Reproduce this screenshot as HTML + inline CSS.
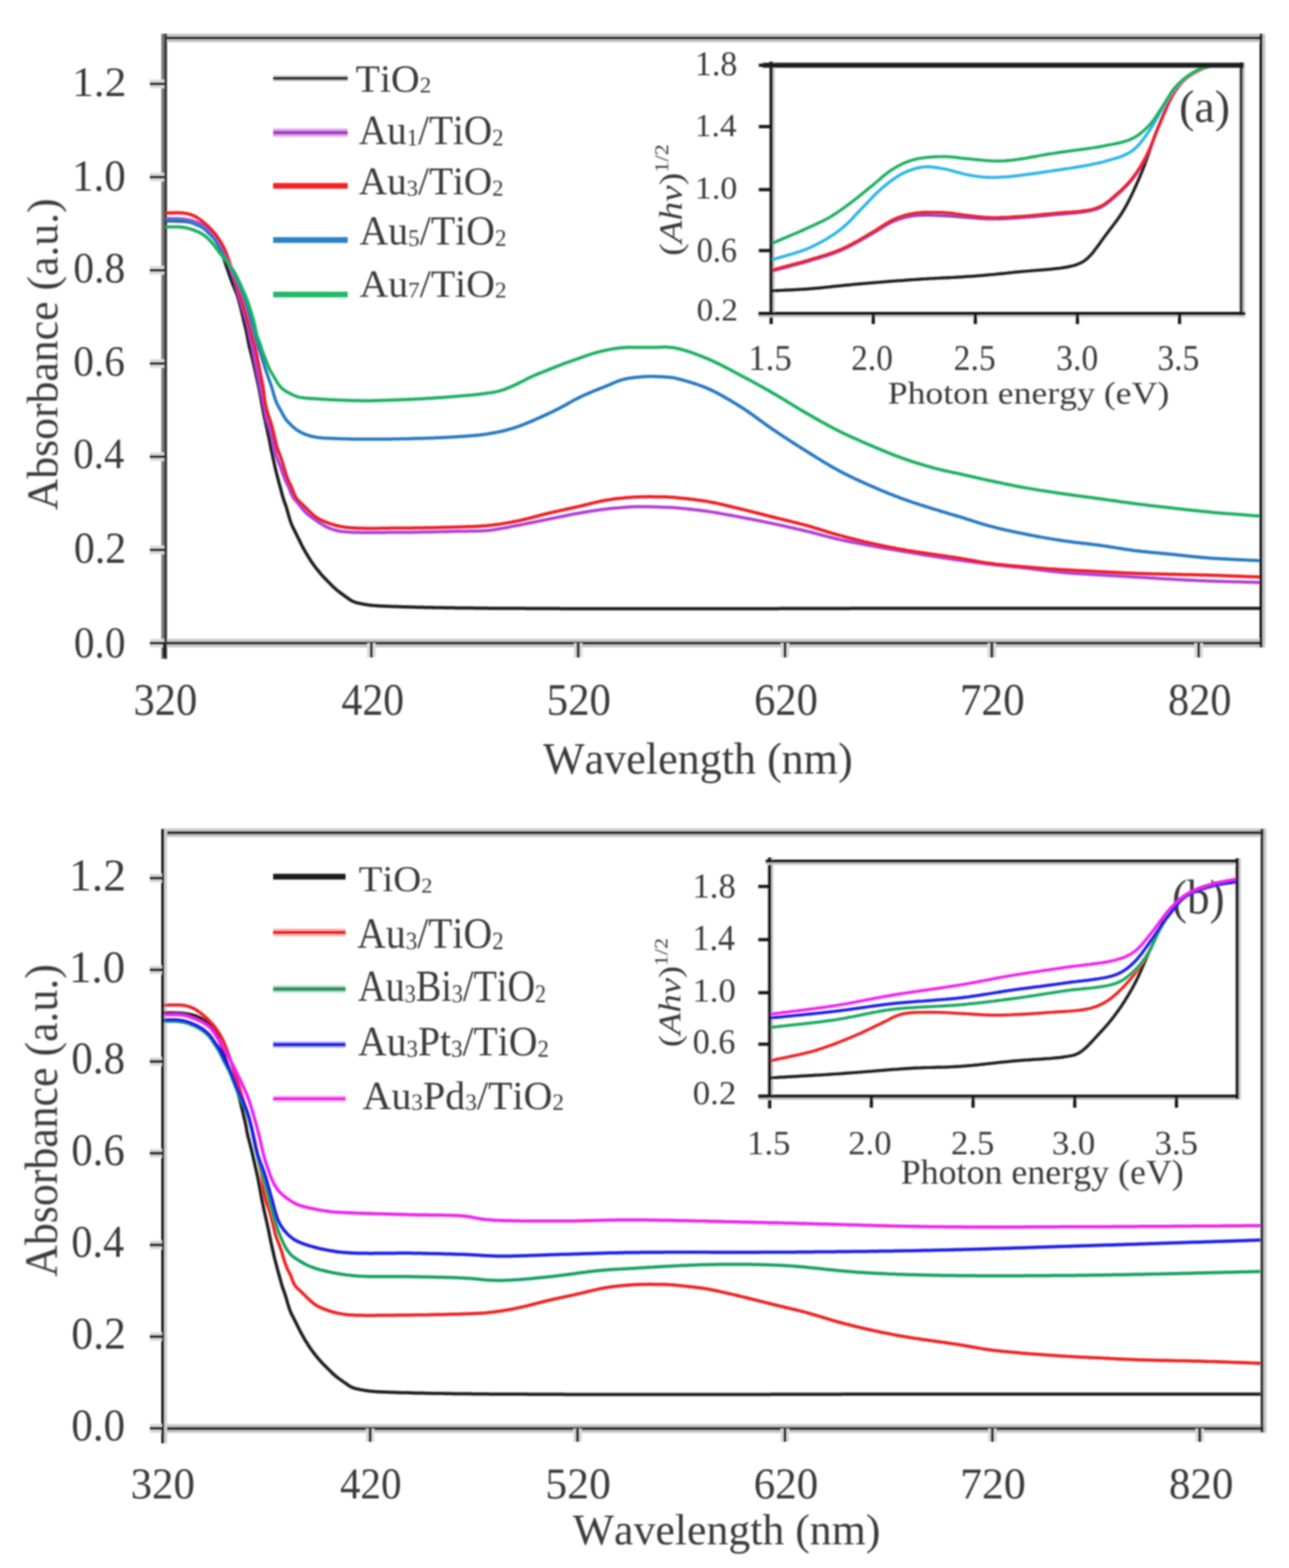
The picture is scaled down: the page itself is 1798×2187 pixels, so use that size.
<!DOCTYPE html>
<html><head><meta charset="utf-8"><style>
html,body{margin:0;padding:0;background:#fff;overflow:hidden;}
svg{display:block;}
text{font-family:"Liberation Serif","DejaVu Serif",serif;font-kerning:none;text-rendering:geometricPrecision;}
</style></head><body>
<svg width="1798" height="2187" viewBox="0 0 1798 2187">
<defs><filter id="soft" x="0" y="0" width="1798" height="2187" filterUnits="userSpaceOnUse"><feGaussianBlur stdDeviation="0.9"/></filter></defs>
<rect x="0" y="0" width="1798" height="2187" fill="#ffffff"/>
<g filter="url(#soft)">
<line x1="225.00" y1="53.00" x2="1765.00" y2="53.00" stroke="#c8c8c8" stroke-width="12.00"/>
<line x1="225.00" y1="53.00" x2="1765.00" y2="53.00" stroke="#1e1e1e" stroke-width="4.00"/>
<line x1="209.00" y1="897.00" x2="1765.00" y2="897.00" stroke="#c8c8c8" stroke-width="12.00"/>
<line x1="209.00" y1="897.00" x2="1765.00" y2="897.00" stroke="#1e1e1e" stroke-width="4.00"/>
<line x1="227.00" y1="47.00" x2="227.00" y2="919.00" stroke="#7a7a7a" stroke-width="4.00"/>
<line x1="231.00" y1="47.00" x2="231.00" y2="919.00" stroke="#383838" stroke-width="4.00"/>
<line x1="1763.00" y1="47.00" x2="1763.00" y2="903.00" stroke="#c8c8c8" stroke-width="4.00"/>
<line x1="1759.00" y1="47.00" x2="1759.00" y2="903.00" stroke="#111111" stroke-width="4.00"/>
<line x1="209.00" y1="897.00" x2="229.00" y2="897.00" stroke="#dcdcdc" stroke-width="12.00"/>
<line x1="209.00" y1="897.00" x2="229.00" y2="897.00" stroke="#1e1e1e" stroke-width="4.00"/>
<line x1="209.00" y1="767.00" x2="229.00" y2="767.00" stroke="#dcdcdc" stroke-width="12.00"/>
<line x1="209.00" y1="767.00" x2="229.00" y2="767.00" stroke="#1e1e1e" stroke-width="4.00"/>
<line x1="209.00" y1="637.00" x2="229.00" y2="637.00" stroke="#dcdcdc" stroke-width="12.00"/>
<line x1="209.00" y1="637.00" x2="229.00" y2="637.00" stroke="#1e1e1e" stroke-width="4.00"/>
<line x1="209.00" y1="507.00" x2="229.00" y2="507.00" stroke="#dcdcdc" stroke-width="12.00"/>
<line x1="209.00" y1="507.00" x2="229.00" y2="507.00" stroke="#1e1e1e" stroke-width="4.00"/>
<line x1="209.00" y1="377.00" x2="229.00" y2="377.00" stroke="#dcdcdc" stroke-width="12.00"/>
<line x1="209.00" y1="377.00" x2="229.00" y2="377.00" stroke="#1e1e1e" stroke-width="4.00"/>
<line x1="209.00" y1="247.00" x2="229.00" y2="247.00" stroke="#dcdcdc" stroke-width="12.00"/>
<line x1="209.00" y1="247.00" x2="229.00" y2="247.00" stroke="#1e1e1e" stroke-width="4.00"/>
<line x1="209.00" y1="117.00" x2="229.00" y2="117.00" stroke="#dcdcdc" stroke-width="12.00"/>
<line x1="209.00" y1="117.00" x2="229.00" y2="117.00" stroke="#1e1e1e" stroke-width="4.00"/>
<line x1="518.00" y1="897.00" x2="518.00" y2="917.00" stroke="#dcdcdc" stroke-width="12.00"/>
<line x1="518.00" y1="897.00" x2="518.00" y2="917.00" stroke="#1e1e1e" stroke-width="4.00"/>
<line x1="806.50" y1="897.00" x2="806.50" y2="917.00" stroke="#dcdcdc" stroke-width="12.00"/>
<line x1="806.50" y1="897.00" x2="806.50" y2="917.00" stroke="#1e1e1e" stroke-width="4.00"/>
<line x1="1095.00" y1="897.00" x2="1095.00" y2="917.00" stroke="#dcdcdc" stroke-width="12.00"/>
<line x1="1095.00" y1="897.00" x2="1095.00" y2="917.00" stroke="#1e1e1e" stroke-width="4.00"/>
<line x1="1383.50" y1="897.00" x2="1383.50" y2="917.00" stroke="#dcdcdc" stroke-width="12.00"/>
<line x1="1383.50" y1="897.00" x2="1383.50" y2="917.00" stroke="#1e1e1e" stroke-width="4.00"/>
<line x1="1672.00" y1="897.00" x2="1672.00" y2="917.00" stroke="#dcdcdc" stroke-width="12.00"/>
<line x1="1672.00" y1="897.00" x2="1672.00" y2="917.00" stroke="#1e1e1e" stroke-width="4.00"/>
<line x1="229.00" y1="897.00" x2="229.00" y2="917.00" stroke="#1e1e1e" stroke-width="4.00"/>
<path d="M231.0,308.0 L234.0,308.0 L237.0,308.1 L240.0,308.1 L243.0,308.1 L246.0,308.2 L249.0,308.2 L252.0,308.4 L255.0,308.5 L258.0,308.8 L261.0,309.2 L263.9,309.7 L266.9,310.2 L269.8,310.9 L272.7,311.7 L275.5,312.7 L278.3,313.8 L281.0,315.0 L283.7,316.5 L286.2,318.1 L288.6,319.8 L290.9,321.7 L293.2,323.8 L295.3,325.9 L297.3,328.1 L299.2,330.4 L300.9,332.8 L302.5,335.4 L303.9,338.0 L305.2,340.7 L306.4,343.5 L307.4,346.3 L308.5,349.1 L309.4,352.0 L310.3,354.8 L311.3,357.7 L312.2,360.6 L313.1,363.4 L314.1,366.3 L315.0,369.1 L316.0,371.9 L317.0,374.8 L318.0,377.6 L319.0,380.5 L319.9,383.3 L320.9,386.1 L321.9,389.0 L323.0,391.8 L324.0,394.6 L325.1,397.4 L326.3,400.2 L327.4,402.9 L328.5,405.7 L329.7,408.5 L330.7,411.3 L331.7,414.2 L332.5,417.0 L333.3,419.9 L334.1,422.8 L334.9,425.7 L335.6,428.6 L336.4,431.5 L337.1,434.5 L337.8,437.4 L338.5,440.3 L339.1,443.2 L339.8,446.2 L340.5,449.1 L341.2,452.0 L341.9,454.9 L342.6,457.8 L343.3,460.8 L343.9,463.7 L344.5,466.6 L345.1,469.6 L345.6,472.5 L346.1,475.5 L346.7,478.4 L347.3,481.4 L348.0,484.3 L348.7,487.2 L349.5,490.1 L350.2,493.0 L351.0,495.9 L351.7,498.9 L352.4,501.8 L353.1,504.7 L353.8,507.6 L354.4,510.6 L355.1,513.5 L355.8,516.4 L356.4,519.3 L357.1,522.3 L357.7,525.2 L358.4,528.1 L359.0,531.1 L359.7,534.0 L360.3,536.9 L360.9,539.9 L361.5,542.8 L362.1,545.8 L362.7,548.7 L363.2,551.7 L363.8,554.6 L364.3,557.6 L364.8,560.5 L365.3,563.5 L365.8,566.4 L366.4,569.4 L367.0,572.3 L367.5,575.3 L368.1,578.2 L368.7,581.2 L369.3,584.1 L370.0,587.1 L370.6,590.0 L371.2,592.9 L371.9,595.9 L372.5,598.8 L373.2,601.7 L373.8,604.7 L374.5,607.6 L375.1,610.5 L375.7,613.5 L376.3,616.4 L376.9,619.4 L377.4,622.3 L378.0,625.2 L378.6,628.2 L379.2,631.1 L379.9,634.1 L380.5,637.0 L381.1,639.9 L381.8,642.9 L382.4,645.8 L383.1,648.7 L383.7,651.7 L384.4,654.6 L385.1,657.5 L385.8,660.4 L386.6,663.3 L387.3,666.2 L388.1,669.1 L388.9,672.0 L389.6,674.9 L390.4,677.8 L391.2,680.7 L392.0,683.6 L392.7,686.5 L393.5,689.4 L394.3,692.3 L395.2,695.2 L396.1,698.1 L397.1,700.9 L398.1,703.7 L399.1,706.6 L400.0,709.4 L400.8,712.3 L401.6,715.2 L402.4,718.1 L403.3,721.0 L404.1,723.9 L405.0,726.7 L406.0,729.5 L407.1,732.3 L408.4,735.1 L409.7,737.8 L411.0,740.4 L412.4,743.1 L413.7,745.8 L415.0,748.5 L416.4,751.2 L417.7,753.9 L419.0,756.6 L420.3,759.3 L421.7,762.0 L423.1,764.6 L424.6,767.2 L426.0,769.9 L427.6,772.5 L429.1,775.0 L430.7,777.6 L432.2,780.1 L433.9,782.7 L435.6,785.1 L437.3,787.6 L439.1,790.0 L440.9,792.4 L442.8,794.7 L444.7,797.0 L446.6,799.4 L448.6,801.7 L450.5,803.9 L452.6,806.1 L454.7,808.2 L456.8,810.4 L458.9,812.5 L461.0,814.6 L463.1,816.8 L465.3,818.9 L467.5,820.9 L469.7,822.9 L472.1,824.8 L474.5,826.6 L476.9,828.4 L479.3,830.1 L481.7,831.9 L484.2,833.6 L486.6,835.4 L489.1,837.1 L491.7,838.5 L494.5,839.7 L497.3,840.6 L500.2,841.3 L503.2,841.9 L506.1,842.5 L509.1,843.0 L512.0,843.5 L515.0,843.9 L518.0,844.3 L521.0,844.6 L524.0,844.8 L526.9,845.0 L529.9,845.2 L532.9,845.3 L535.9,845.5 L538.9,845.6 L541.9,845.7 L544.9,845.8 L547.9,845.9 L550.9,846.0 L554.0,846.1 L557.0,846.2 L560.0,846.3 L563.0,846.4 L566.0,846.5 L569.0,846.6 L572.0,846.7 L575.0,846.7 L578.0,846.8 L581.0,846.9 L584.0,847.0 L587.0,847.0 L590.0,847.1 L593.0,847.2 L596.0,847.2 L599.0,847.3 L602.0,847.3 L605.0,847.4 L608.0,847.5 L611.0,847.5 L614.0,847.6 L617.0,847.6 L620.0,847.7 L623.0,847.7 L626.0,847.8 L629.0,847.8 L632.0,847.8 L635.0,847.9 L638.0,847.9 L641.0,848.0 L644.0,848.0 L647.0,848.0 L650.0,848.1 L653.0,848.1 L656.0,848.1 L659.0,848.1 L662.0,848.2 L665.0,848.2 L668.0,848.2 L671.0,848.3 L674.0,848.3 L677.0,848.3 L680.0,848.3 L683.0,848.4 L686.0,848.4 L689.0,848.4 L692.1,848.4 L695.1,848.4 L698.1,848.5 L701.1,848.5 L704.1,848.5 L707.1,848.5 L710.1,848.5 L713.1,848.6 L716.1,848.6 L719.1,848.6 L722.1,848.6 L725.1,848.6 L728.1,848.6 L731.1,848.6 L734.1,848.7 L737.1,848.7 L740.1,848.7 L743.1,848.7 L746.1,848.7 L749.1,848.7 L752.1,848.7 L755.1,848.8 L758.1,848.8 L761.1,848.8 L764.1,848.8 L767.1,848.8 L770.1,848.8 L773.1,848.8 L776.1,848.8 L779.1,848.8 L782.1,848.9 L785.1,848.9 L788.1,848.9 L791.1,848.9 L794.1,848.9 L797.1,848.9 L800.1,848.9 L803.1,848.9 L806.2,848.9 L809.2,848.9 L812.2,848.9 L815.2,849.0 L818.2,849.0 L821.2,849.0 L824.2,849.0 L827.2,849.0 L830.2,849.0 L833.2,849.0 L836.2,849.0 L839.2,849.0 L842.2,849.0 L845.2,849.0 L848.2,849.0 L851.2,849.0 L854.2,849.1 L857.2,849.1 L860.2,849.1 L863.2,849.1 L866.2,849.1 L869.2,849.1 L872.2,849.1 L875.2,849.1 L878.2,849.1 L881.2,849.1 L884.2,849.1 L887.2,849.1 L890.2,849.1 L893.2,849.1 L896.2,849.1 L899.2,849.1 L902.2,849.1 L905.2,849.1 L908.2,849.1 L911.2,849.1 L914.2,849.1 L917.3,849.1 L920.3,849.1 L923.3,849.1 L926.3,849.1 L929.3,849.1 L932.3,849.1 L935.3,849.1 L938.3,849.1 L941.3,849.1 L944.3,849.1 L947.3,849.1 L950.3,849.1 L953.3,849.1 L956.3,849.1 L959.3,849.1 L962.3,849.1 L965.3,849.1 L968.3,849.1 L971.3,849.1 L974.3,849.0 L977.3,849.0 L980.3,849.0 L983.3,849.0 L986.3,849.0 L989.3,849.0 L992.3,849.0 L995.3,849.0 L998.3,849.0 L1001.3,849.0 L1004.3,849.0 L1007.3,849.0 L1010.3,849.0 L1013.3,849.0 L1016.3,849.0 L1019.3,849.0 L1022.3,849.0 L1025.3,849.0 L1028.3,849.0 L1031.4,849.0 L1034.4,849.0 L1037.4,848.9 L1040.4,848.9 L1043.4,848.9 L1046.4,848.9 L1049.4,848.9 L1052.4,848.9 L1055.4,848.9 L1058.4,848.9 L1061.4,848.9 L1064.4,848.9 L1067.4,848.9 L1070.4,848.9 L1073.4,848.9 L1076.4,848.9 L1079.4,848.9 L1082.4,848.9 L1085.4,848.9 L1088.4,848.8 L1091.4,848.8 L1094.4,848.8 L1097.4,848.8 L1100.4,848.8 L1103.4,848.8 L1106.4,848.8 L1109.4,848.8 L1112.4,848.8 L1115.4,848.8 L1118.4,848.8 L1121.4,848.8 L1124.4,848.8 L1127.4,848.8 L1130.4,848.8 L1133.4,848.8 L1136.4,848.7 L1139.4,848.7 L1142.5,848.7 L1145.5,848.7 L1148.5,848.7 L1151.5,848.7 L1154.5,848.7 L1157.5,848.7 L1160.5,848.7 L1163.5,848.7 L1166.5,848.7 L1169.5,848.7 L1172.5,848.7 L1175.5,848.7 L1178.5,848.7 L1181.5,848.7 L1184.5,848.7 L1187.5,848.6 L1190.5,848.6 L1193.5,848.6 L1196.5,848.6 L1199.5,848.6 L1202.5,848.6 L1205.5,848.6 L1208.5,848.6 L1211.5,848.6 L1214.5,848.6 L1217.5,848.6 L1220.5,848.6 L1223.5,848.6 L1226.5,848.6 L1229.5,848.6 L1232.5,848.6 L1235.5,848.6 L1238.5,848.6 L1241.5,848.6 L1244.5,848.6 L1247.5,848.5 L1250.5,848.5 L1253.6,848.5 L1256.6,848.5 L1259.6,848.5 L1262.6,848.5 L1265.6,848.5 L1268.6,848.5 L1271.6,848.5 L1274.6,848.5 L1277.6,848.5 L1280.6,848.5 L1283.6,848.5 L1286.6,848.5 L1289.6,848.5 L1292.6,848.5 L1295.6,848.5 L1298.6,848.5 L1301.6,848.5 L1304.6,848.5 L1307.6,848.5 L1310.6,848.5 L1313.6,848.5 L1316.6,848.5 L1319.6,848.5 L1322.6,848.5 L1325.6,848.5 L1328.6,848.5 L1331.6,848.5 L1334.6,848.5 L1337.6,848.5 L1340.6,848.5 L1343.6,848.5 L1346.6,848.5 L1349.6,848.5 L1352.6,848.5 L1355.6,848.5 L1358.6,848.5 L1361.6,848.5 L1364.6,848.5 L1367.7,848.5 L1370.7,848.5 L1373.7,848.5 L1376.7,848.5 L1379.7,848.5 L1382.7,848.5 L1385.7,848.5 L1388.7,848.5 L1391.7,848.5 L1394.7,848.5 L1397.7,848.5 L1400.7,848.5 L1403.7,848.5 L1406.7,848.5 L1409.7,848.5 L1412.7,848.5 L1415.7,848.5 L1418.7,848.5 L1421.7,848.5 L1424.7,848.5 L1427.7,848.5 L1430.7,848.5 L1433.7,848.5 L1436.7,848.5 L1439.7,848.5 L1442.7,848.5 L1445.7,848.5 L1448.7,848.5 L1451.7,848.5 L1454.7,848.5 L1457.7,848.5 L1460.7,848.5 L1463.7,848.5 L1466.7,848.5 L1469.7,848.5 L1472.7,848.5 L1475.7,848.5 L1478.8,848.5 L1481.8,848.5 L1484.8,848.5 L1487.8,848.5 L1490.8,848.5 L1493.8,848.5 L1496.8,848.5 L1499.8,848.5 L1502.8,848.5 L1505.8,848.5 L1508.8,848.5 L1511.8,848.5 L1514.8,848.5 L1517.8,848.5 L1520.8,848.5 L1523.8,848.5 L1526.8,848.5 L1529.8,848.5 L1532.8,848.5 L1535.8,848.5 L1538.8,848.5 L1541.8,848.5 L1544.8,848.5 L1547.8,848.5 L1550.8,848.5 L1553.8,848.5 L1556.8,848.5 L1559.8,848.5 L1562.8,848.5 L1565.8,848.5 L1568.8,848.5 L1571.8,848.5 L1574.8,848.5 L1577.8,848.5 L1580.8,848.5 L1583.8,848.5 L1586.8,848.5 L1589.9,848.5 L1592.9,848.5 L1595.9,848.5 L1598.9,848.5 L1601.9,848.5 L1604.9,848.5 L1607.9,848.5 L1610.9,848.5 L1613.9,848.5 L1616.9,848.5 L1619.9,848.5 L1622.9,848.5 L1625.9,848.5 L1628.9,848.5 L1631.9,848.5 L1634.9,848.5 L1637.9,848.5 L1640.9,848.5 L1643.9,848.5 L1646.9,848.5 L1649.9,848.5 L1652.9,848.5 L1655.9,848.5 L1658.9,848.5 L1661.9,848.5 L1664.9,848.5 L1667.9,848.5 L1670.9,848.5 L1673.9,848.5 L1676.9,848.5 L1679.9,848.5 L1682.9,848.5 L1685.9,848.5 L1688.9,848.5 L1691.9,848.5 L1694.9,848.5 L1697.9,848.5 L1700.9,848.5 L1704.0,848.5 L1707.0,848.5 L1710.0,848.5 L1713.0,848.5 L1716.0,848.5 L1719.0,848.5 L1722.0,848.5 L1725.0,848.5 L1728.0,848.5 L1731.0,848.5 L1734.0,848.5 L1737.0,848.5 L1740.0,848.5 L1743.0,848.5 L1746.0,848.5 L1749.0,848.5 L1752.0,848.5 L1755.0,848.5 L1757.0,848.5" fill="none" stroke="#1a1a1a" stroke-width="4.50" stroke-linejoin="round" stroke-linecap="butt"/>
<path d="M231.0,305.0 L234.0,305.0 L237.0,305.1 L240.0,305.1 L243.0,305.1 L246.0,305.1 L249.0,305.2 L252.0,305.3 L255.0,305.6 L258.0,305.9 L260.9,306.4 L263.9,307.0 L266.8,307.7 L269.7,308.5 L272.5,309.4 L275.4,310.4 L278.1,311.7 L280.7,313.1 L283.2,314.8 L285.6,316.5 L288.0,318.4 L290.2,320.4 L292.4,322.5 L294.4,324.7 L296.3,327.0 L298.2,329.3 L300.0,331.7 L301.7,334.2 L303.4,336.7 L305.0,339.2 L306.5,341.8 L307.9,344.4 L309.4,347.1 L310.8,349.7 L312.2,352.4 L313.5,355.1 L314.7,357.8 L315.9,360.6 L317.1,363.3 L318.2,366.1 L319.3,368.9 L320.4,371.7 L321.5,374.5 L322.6,377.3 L323.6,380.1 L324.7,382.9 L325.6,385.8 L326.5,388.6 L327.4,391.5 L328.2,394.4 L329.0,397.3 L329.8,400.2 L330.6,403.1 L331.3,406.0 L332.1,408.9 L333.0,411.8 L333.8,414.6 L334.7,417.5 L335.6,420.4 L336.5,423.3 L337.3,426.1 L338.2,429.0 L339.1,431.9 L340.0,434.7 L340.9,437.6 L341.7,440.5 L342.6,443.3 L343.4,446.2 L344.2,449.1 L345.0,452.0 L345.6,455.0 L346.2,457.9 L346.8,460.8 L347.4,463.8 L348.0,466.7 L348.6,469.7 L349.3,472.6 L350.0,475.5 L350.6,478.4 L351.3,481.4 L351.9,484.3 L352.5,487.3 L353.1,490.2 L353.7,493.1 L354.2,496.1 L354.8,499.0 L355.4,502.0 L356.0,504.9 L356.6,507.9 L357.2,510.8 L357.8,513.8 L358.3,516.7 L358.9,519.6 L359.5,522.6 L360.1,525.5 L360.7,528.5 L361.3,531.4 L361.9,534.4 L362.5,537.3 L363.0,540.2 L363.6,543.2 L364.2,546.1 L364.8,549.1 L365.4,552.0 L366.0,555.0 L366.6,557.9 L367.2,560.8 L367.8,563.8 L368.3,566.7 L368.9,569.7 L369.4,572.6 L370.0,575.6 L370.6,578.5 L371.2,581.5 L371.9,584.4 L372.7,587.3 L373.5,590.2 L374.5,593.0 L375.4,595.9 L376.4,598.7 L377.3,601.5 L378.2,604.4 L379.0,607.3 L379.8,610.2 L380.4,613.1 L381.0,616.1 L381.6,619.0 L382.2,622.0 L382.8,624.9 L383.4,627.9 L384.0,630.8 L384.7,633.7 L385.6,636.6 L386.6,639.4 L387.7,642.2 L388.8,645.0 L389.9,647.8 L390.9,650.6 L391.9,653.4 L392.9,656.2 L393.9,659.1 L395.0,661.9 L396.0,664.7 L397.1,667.5 L398.3,670.3 L399.5,673.0 L400.9,675.7 L402.2,678.4 L403.4,681.1 L404.5,683.9 L405.5,686.7 L406.7,689.5 L408.0,692.2 L409.5,694.8 L411.3,697.1 L413.3,699.3 L415.3,701.5 L417.2,703.9 L419.0,706.2 L420.8,708.6 L422.8,710.9 L424.8,713.1 L426.9,715.3 L429.1,717.3 L431.4,719.2 L433.8,721.0 L436.2,722.7 L438.7,724.4 L441.2,726.2 L443.6,727.9 L446.1,729.5 L448.7,731.1 L451.3,732.7 L453.9,734.1 L456.6,735.4 L459.3,736.6 L462.1,737.7 L465.0,738.6 L467.9,739.5 L470.8,740.2 L473.7,740.7 L476.7,741.2 L479.7,741.6 L482.7,741.8 L485.6,742.1 L488.6,742.2 L491.6,742.4 L494.6,742.5 L497.6,742.6 L500.6,742.6 L503.6,742.7 L506.6,742.7 L509.6,742.7 L512.6,742.7 L515.6,742.8 L518.7,742.8 L521.7,742.8 L524.7,742.7 L527.7,742.7 L530.7,742.7 L533.7,742.7 L536.7,742.7 L539.7,742.6 L542.7,742.6 L545.7,742.6 L548.7,742.6 L551.7,742.5 L554.7,742.5 L557.7,742.5 L560.7,742.5 L563.7,742.5 L566.7,742.5 L569.7,742.4 L572.7,742.4 L575.7,742.4 L578.7,742.3 L581.7,742.3 L584.7,742.2 L587.7,742.2 L590.7,742.1 L593.7,742.1 L596.7,742.0 L599.7,742.0 L602.7,741.9 L605.7,741.8 L608.7,741.8 L611.7,741.7 L614.7,741.6 L617.7,741.5 L620.7,741.5 L623.7,741.4 L626.7,741.3 L629.7,741.3 L632.7,741.2 L635.7,741.1 L638.7,741.0 L641.7,741.0 L644.7,740.9 L647.7,740.9 L650.7,740.9 L653.7,740.8 L656.7,740.8 L659.7,740.8 L662.7,740.8 L665.7,740.7 L668.7,740.6 L671.7,740.5 L674.7,740.3 L677.7,740.1 L680.7,739.9 L683.7,739.5 L686.7,739.2 L689.6,738.8 L692.6,738.3 L695.6,737.8 L698.5,737.3 L701.5,736.8 L704.4,736.2 L707.4,735.7 L710.3,735.1 L713.3,734.5 L716.2,733.9 L719.2,733.3 L722.1,732.8 L725.0,732.2 L728.0,731.6 L730.9,731.1 L733.9,730.5 L736.8,729.9 L739.8,729.3 L742.7,728.7 L745.7,728.1 L748.6,727.5 L751.5,726.9 L754.5,726.3 L757.4,725.7 L760.4,725.1 L763.3,724.5 L766.2,723.9 L769.2,723.3 L772.1,722.7 L775.1,722.1 L778.0,721.5 L780.9,720.9 L783.9,720.3 L786.8,719.7 L789.8,719.1 L792.7,718.5 L795.7,717.9 L798.6,717.3 L801.6,716.8 L804.5,716.3 L807.5,715.7 L810.4,715.2 L813.4,714.7 L816.3,714.2 L819.3,713.7 L822.3,713.3 L825.2,712.8 L828.2,712.3 L831.2,711.9 L834.1,711.5 L837.1,711.1 L840.1,710.7 L843.1,710.3 L846.1,710.0 L849.0,709.6 L852.0,709.3 L855.0,709.0 L858.0,708.7 L861.0,708.4 L864.0,708.2 L867.0,707.9 L870.0,707.7 L872.9,707.5 L875.9,707.3 L878.9,707.1 L881.9,707.0 L884.9,706.8 L887.9,706.7 L890.9,706.7 L893.9,706.7 L896.9,706.7 L899.9,706.7 L902.9,706.7 L905.9,706.8 L908.9,706.9 L911.9,707.0 L914.9,707.1 L917.9,707.2 L920.9,707.3 L923.9,707.5 L926.9,707.6 L929.9,707.7 L932.9,707.7 L935.9,707.8 L938.9,708.0 L941.9,708.2 L944.9,708.4 L947.9,708.7 L950.9,709.0 L953.9,709.2 L956.9,709.6 L959.9,709.9 L962.8,710.2 L965.8,710.5 L968.8,710.9 L971.8,711.2 L974.8,711.6 L977.7,712.0 L980.7,712.4 L983.7,712.8 L986.7,713.2 L989.6,713.6 L992.6,714.1 L995.6,714.6 L998.5,715.0 L1001.5,715.5 L1004.5,716.1 L1007.4,716.6 L1010.4,717.1 L1013.3,717.7 L1016.3,718.2 L1019.2,718.8 L1022.2,719.3 L1025.1,719.9 L1028.1,720.4 L1031.0,721.0 L1034.0,721.5 L1036.9,722.1 L1039.9,722.7 L1042.8,723.2 L1045.8,723.8 L1048.7,724.4 L1051.6,725.0 L1054.6,725.5 L1057.5,726.1 L1060.5,726.7 L1063.4,727.3 L1066.4,727.9 L1069.3,728.5 L1072.2,729.1 L1075.2,729.8 L1078.1,730.4 L1081.0,731.0 L1084.0,731.6 L1086.9,732.3 L1089.9,732.9 L1092.8,733.5 L1095.7,734.2 L1098.6,734.8 L1101.6,735.5 L1104.5,736.1 L1107.4,736.8 L1110.4,737.5 L1113.3,738.1 L1116.2,738.8 L1119.1,739.5 L1122.1,740.2 L1125.0,740.9 L1127.9,741.6 L1130.8,742.3 L1133.7,743.0 L1136.6,743.8 L1139.5,744.5 L1142.4,745.3 L1145.3,746.0 L1148.2,746.8 L1151.2,747.6 L1154.1,748.3 L1157.0,749.1 L1159.9,749.8 L1162.8,750.5 L1165.7,751.2 L1168.6,751.9 L1171.6,752.6 L1174.5,753.2 L1177.4,753.8 L1180.4,754.5 L1183.3,755.1 L1186.2,755.7 L1189.2,756.3 L1192.1,756.9 L1195.1,757.4 L1198.0,758.0 L1201.0,758.6 L1203.9,759.1 L1206.9,759.7 L1209.8,760.3 L1212.8,760.8 L1215.7,761.4 L1218.7,761.9 L1221.6,762.4 L1224.6,763.0 L1227.5,763.5 L1230.5,764.0 L1233.4,764.5 L1236.4,765.1 L1239.4,765.6 L1242.3,766.1 L1245.3,766.6 L1248.2,767.1 L1251.2,767.6 L1254.2,768.1 L1257.1,768.6 L1260.1,769.1 L1263.0,769.6 L1266.0,770.1 L1269.0,770.6 L1271.9,771.1 L1274.9,771.6 L1277.8,772.0 L1280.8,772.5 L1283.8,773.0 L1286.7,773.5 L1289.7,774.0 L1292.7,774.5 L1295.6,774.9 L1298.6,775.4 L1301.5,775.9 L1304.5,776.3 L1307.5,776.8 L1310.4,777.3 L1313.4,777.7 L1316.4,778.2 L1319.4,778.6 L1322.3,779.0 L1325.3,779.4 L1328.3,779.9 L1331.2,780.3 L1334.2,780.7 L1337.2,781.1 L1340.2,781.5 L1343.1,781.9 L1346.1,782.4 L1349.1,782.8 L1352.0,783.2 L1355.0,783.6 L1358.0,784.0 L1361.0,784.4 L1363.9,784.8 L1366.9,785.2 L1369.9,785.6 L1372.9,786.0 L1375.8,786.4 L1378.8,786.8 L1381.8,787.1 L1384.8,787.5 L1387.8,787.8 L1390.8,788.2 L1393.7,788.5 L1396.7,788.8 L1399.7,789.1 L1402.7,789.4 L1405.7,789.8 L1408.7,790.1 L1411.6,790.4 L1414.6,790.7 L1417.6,791.0 L1420.6,791.3 L1423.6,791.6 L1426.6,792.0 L1429.6,792.3 L1432.5,792.6 L1435.5,793.0 L1438.5,793.3 L1441.5,793.7 L1444.5,794.1 L1447.4,794.4 L1450.4,794.8 L1453.4,795.2 L1456.4,795.5 L1459.4,795.9 L1462.3,796.3 L1465.3,796.6 L1468.3,797.0 L1471.3,797.3 L1474.3,797.6 L1477.2,797.9 L1480.2,798.2 L1483.2,798.5 L1486.2,798.8 L1489.2,799.0 L1492.2,799.2 L1495.2,799.5 L1498.2,799.7 L1501.2,799.9 L1504.2,800.1 L1507.2,800.3 L1510.2,800.4 L1513.2,800.6 L1516.2,800.8 L1519.2,801.0 L1522.2,801.2 L1525.2,801.3 L1528.1,801.5 L1531.1,801.7 L1534.1,801.9 L1537.1,802.1 L1540.1,802.3 L1543.1,802.4 L1546.1,802.6 L1549.1,802.8 L1552.1,803.0 L1555.1,803.1 L1558.1,803.3 L1561.1,803.5 L1564.1,803.7 L1567.1,803.8 L1570.1,804.0 L1573.1,804.2 L1576.1,804.4 L1579.1,804.5 L1582.1,804.7 L1585.1,804.9 L1588.1,805.1 L1591.1,805.3 L1594.1,805.4 L1597.1,805.6 L1600.1,805.8 L1603.1,806.0 L1606.1,806.2 L1609.1,806.3 L1612.0,806.5 L1615.0,806.7 L1618.0,806.9 L1621.0,807.1 L1624.0,807.2 L1627.0,807.4 L1630.0,807.6 L1633.0,807.7 L1636.0,807.9 L1639.0,808.1 L1642.0,808.2 L1645.0,808.4 L1648.0,808.5 L1651.0,808.7 L1654.0,808.9 L1657.0,809.0 L1660.0,809.2 L1663.0,809.3 L1666.0,809.5 L1669.0,809.6 L1672.0,809.8 L1675.0,809.9 L1678.0,810.0 L1681.0,810.1 L1684.0,810.3 L1687.0,810.4 L1690.0,810.5 L1693.0,810.6 L1696.0,810.7 L1699.0,810.8 L1702.0,810.9 L1705.0,811.0 L1708.0,811.1 L1711.0,811.2 L1714.0,811.2 L1717.0,811.3 L1720.0,811.4 L1723.0,811.5 L1726.0,811.6 L1729.0,811.6 L1732.0,811.7 L1735.0,811.8 L1738.0,811.9 L1741.0,812.0 L1744.0,812.0 L1747.0,812.1 L1750.0,812.2 L1753.0,812.3 L1756.0,812.4 L1757.0,812.4" fill="none" stroke="#b040d8" stroke-width="4.50" stroke-linejoin="round" stroke-linecap="butt"/>
<path d="M231.0,297.0 L234.0,297.0 L237.0,296.9 L240.0,296.9 L243.0,296.8 L246.0,296.8 L249.0,296.8 L252.0,296.9 L255.0,297.1 L258.0,297.4 L260.9,297.9 L263.8,298.6 L266.7,299.5 L269.5,300.6 L272.2,301.9 L274.8,303.3 L277.3,305.0 L279.7,306.7 L282.1,308.6 L284.4,310.5 L286.7,312.4 L289.0,314.4 L291.1,316.5 L293.2,318.6 L295.3,320.8 L297.3,323.0 L299.3,325.3 L301.2,327.6 L302.9,330.1 L304.6,332.6 L306.2,335.1 L307.8,337.6 L309.4,340.2 L310.8,342.8 L312.2,345.5 L313.4,348.2 L314.6,351.0 L315.7,353.7 L316.8,356.5 L317.9,359.3 L318.9,362.2 L319.9,365.0 L320.9,367.8 L321.9,370.7 L322.9,373.5 L323.8,376.4 L324.7,379.2 L325.6,382.1 L326.5,385.0 L327.4,387.8 L328.2,390.7 L329.1,393.6 L330.0,396.4 L330.9,399.3 L331.9,402.1 L332.8,405.0 L333.7,407.9 L334.6,410.7 L335.5,413.6 L336.4,416.5 L337.3,419.3 L338.1,422.2 L339.0,425.1 L339.9,427.9 L340.8,430.8 L341.7,433.7 L342.6,436.5 L343.4,439.4 L344.3,442.3 L345.1,445.2 L345.9,448.1 L346.7,451.0 L347.5,453.9 L348.3,456.8 L349.0,459.7 L349.8,462.6 L350.6,465.5 L351.4,468.3 L352.3,471.2 L353.2,474.1 L354.1,476.9 L354.9,479.8 L355.6,482.7 L356.3,485.7 L356.9,488.6 L357.4,491.6 L358.0,494.5 L358.6,497.5 L359.1,500.4 L359.7,503.4 L360.3,506.3 L360.9,509.3 L361.4,512.2 L362.0,515.1 L362.6,518.1 L363.2,521.0 L363.8,524.0 L364.4,526.9 L365.0,529.9 L365.6,532.8 L366.2,535.7 L366.7,538.7 L367.2,541.7 L367.6,544.6 L368.0,547.6 L368.3,550.6 L368.6,553.6 L369.0,556.6 L369.5,559.5 L370.0,562.5 L370.6,565.4 L371.3,568.3 L372.0,571.2 L372.8,574.1 L373.7,577.0 L374.6,579.9 L375.6,582.7 L376.5,585.5 L377.5,588.4 L378.3,591.3 L379.1,594.2 L379.9,597.1 L380.6,600.0 L381.3,602.9 L382.0,605.8 L382.7,608.7 L383.4,611.7 L384.1,614.6 L384.8,617.5 L385.5,620.4 L386.3,623.3 L387.2,626.2 L388.2,629.0 L389.3,631.8 L390.4,634.6 L391.4,637.4 L392.4,640.2 L393.4,643.1 L394.3,645.9 L395.2,648.8 L396.0,651.7 L396.8,654.6 L397.7,657.5 L398.5,660.3 L399.5,663.2 L400.5,666.0 L401.6,668.8 L402.8,671.5 L404.1,674.2 L405.5,676.9 L406.7,679.6 L407.8,682.4 L408.9,685.2 L409.9,688.0 L411.1,690.8 L412.5,693.4 L414.2,695.9 L416.1,698.1 L418.3,700.2 L420.5,702.2 L422.6,704.3 L424.8,706.5 L426.9,708.6 L429.0,710.7 L431.1,712.8 L433.3,714.9 L435.5,717.0 L437.7,718.9 L440.1,720.8 L442.5,722.5 L445.1,724.0 L447.8,725.3 L450.5,726.6 L453.3,727.7 L456.1,728.8 L458.9,729.9 L461.8,730.8 L464.6,731.7 L467.5,732.5 L470.4,733.2 L473.4,733.9 L476.3,734.5 L479.3,735.0 L482.2,735.4 L485.2,735.8 L488.2,736.1 L491.2,736.3 L494.2,736.5 L497.2,736.6 L500.2,736.7 L503.2,736.8 L506.2,736.8 L509.2,736.9 L512.2,736.9 L515.2,736.9 L518.2,736.9 L521.2,736.9 L524.2,736.9 L527.2,736.9 L530.2,736.8 L533.2,736.8 L536.2,736.8 L539.2,736.7 L542.2,736.7 L545.2,736.6 L548.2,736.6 L551.2,736.6 L554.2,736.5 L557.2,736.5 L560.2,736.5 L563.2,736.5 L566.2,736.5 L569.2,736.4 L572.2,736.4 L575.2,736.4 L578.2,736.3 L581.2,736.3 L584.2,736.3 L587.2,736.2 L590.2,736.2 L593.2,736.1 L596.2,736.1 L599.2,736.0 L602.2,736.0 L605.2,735.9 L608.2,735.8 L611.2,735.8 L614.2,735.7 L617.2,735.6 L620.2,735.6 L623.2,735.5 L626.2,735.4 L629.2,735.3 L632.2,735.2 L635.2,735.2 L638.2,735.1 L641.2,735.0 L644.2,734.9 L647.3,734.8 L650.3,734.7 L653.3,734.6 L656.3,734.5 L659.3,734.4 L662.3,734.3 L665.3,734.2 L668.2,734.0 L671.2,733.8 L674.2,733.6 L677.2,733.4 L680.2,733.1 L683.2,732.8 L686.2,732.5 L689.2,732.1 L692.1,731.7 L695.1,731.3 L698.1,730.9 L701.1,730.4 L704.0,729.9 L707.0,729.4 L709.9,728.9 L712.9,728.4 L715.8,727.8 L718.8,727.2 L721.7,726.6 L724.7,726.0 L727.6,725.4 L730.5,724.7 L733.4,724.0 L736.4,723.3 L739.3,722.5 L742.2,721.8 L745.1,721.0 L748.0,720.2 L750.9,719.5 L753.8,718.7 L756.7,717.9 L759.6,717.2 L762.5,716.5 L765.4,715.8 L768.3,715.1 L771.3,714.4 L774.2,713.7 L777.1,713.1 L780.0,712.4 L783.0,711.8 L785.9,711.1 L788.8,710.5 L791.8,709.8 L794.7,709.2 L797.6,708.5 L800.6,707.9 L803.5,707.2 L806.4,706.6 L809.4,705.9 L812.3,705.2 L815.2,704.5 L818.1,703.8 L821.0,703.1 L823.9,702.3 L826.9,701.6 L829.8,700.9 L832.7,700.3 L835.6,699.6 L838.6,699.0 L841.5,698.4 L844.5,697.8 L847.4,697.3 L850.4,696.9 L853.3,696.4 L856.3,696.0 L859.3,695.6 L862.3,695.3 L865.3,695.0 L868.3,694.7 L871.2,694.4 L874.2,694.1 L877.2,693.9 L880.2,693.7 L883.2,693.5 L886.2,693.3 L889.2,693.2 L892.2,693.1 L895.2,693.0 L898.2,692.9 L901.2,692.9 L904.2,692.8 L907.2,692.8 L910.2,692.8 L913.2,692.9 L916.2,692.9 L919.2,692.9 L922.2,693.0 L925.2,693.1 L928.2,693.1 L931.2,693.2 L934.2,693.4 L937.2,693.6 L940.2,693.8 L943.2,694.1 L946.2,694.4 L949.2,694.7 L952.2,695.0 L955.2,695.3 L958.1,695.6 L961.1,695.9 L964.1,696.3 L967.1,696.6 L970.1,697.0 L973.0,697.4 L976.0,697.8 L979.0,698.2 L982.0,698.6 L984.9,699.1 L987.9,699.6 L990.8,700.2 L993.8,700.7 L996.7,701.3 L999.7,701.9 L1002.6,702.6 L1005.5,703.2 L1008.5,703.9 L1011.4,704.6 L1014.3,705.3 L1017.2,706.0 L1020.1,706.7 L1023.0,707.4 L1026.0,708.1 L1028.9,708.8 L1031.8,709.5 L1034.7,710.2 L1037.6,710.9 L1040.6,711.6 L1043.5,712.4 L1046.4,713.1 L1049.3,713.8 L1052.2,714.6 L1055.1,715.3 L1058.0,716.0 L1060.9,716.8 L1063.8,717.5 L1066.7,718.3 L1069.6,719.0 L1072.6,719.8 L1075.5,720.5 L1078.4,721.2 L1081.3,722.0 L1084.2,722.7 L1087.1,723.4 L1090.0,724.1 L1093.0,724.8 L1095.9,725.5 L1098.8,726.2 L1101.7,726.9 L1104.6,727.6 L1107.5,728.4 L1110.5,729.1 L1113.4,729.8 L1116.3,730.6 L1119.2,731.3 L1122.1,732.1 L1125.0,732.9 L1127.9,733.7 L1130.7,734.5 L1133.6,735.4 L1136.5,736.3 L1139.4,737.1 L1142.2,738.0 L1145.1,738.9 L1148.0,739.8 L1150.8,740.7 L1153.7,741.6 L1156.6,742.5 L1159.5,743.3 L1162.3,744.2 L1165.2,745.0 L1168.1,745.8 L1171.0,746.7 L1173.9,747.4 L1176.8,748.2 L1179.7,749.0 L1182.6,749.8 L1185.5,750.5 L1188.4,751.3 L1191.3,752.0 L1194.2,752.7 L1197.1,753.4 L1200.1,754.2 L1203.0,754.9 L1205.9,755.6 L1208.8,756.2 L1211.7,756.9 L1214.7,757.6 L1217.6,758.2 L1220.5,758.9 L1223.5,759.5 L1226.4,760.2 L1229.3,760.8 L1232.3,761.4 L1235.2,762.0 L1238.2,762.6 L1241.1,763.2 L1244.0,763.8 L1247.0,764.3 L1249.9,764.9 L1252.9,765.4 L1255.8,766.0 L1258.8,766.5 L1261.8,767.0 L1264.7,767.6 L1267.7,768.1 L1270.6,768.5 L1273.6,769.0 L1276.6,769.5 L1279.5,769.9 L1282.5,770.3 L1285.5,770.8 L1288.5,771.2 L1291.4,771.6 L1294.4,772.0 L1297.4,772.5 L1300.3,772.9 L1303.3,773.3 L1306.3,773.7 L1309.3,774.2 L1312.2,774.6 L1315.2,775.1 L1318.2,775.5 L1321.1,775.9 L1324.1,776.4 L1327.1,776.8 L1330.0,777.3 L1333.0,777.7 L1336.0,778.2 L1338.9,778.6 L1341.9,779.1 L1344.9,779.6 L1347.8,780.1 L1350.8,780.7 L1353.7,781.2 L1356.7,781.8 L1359.6,782.3 L1362.6,782.9 L1365.5,783.4 L1368.5,783.9 L1371.5,784.4 L1374.4,784.9 L1377.4,785.3 L1380.4,785.7 L1383.3,786.1 L1386.3,786.5 L1389.3,786.9 L1392.3,787.2 L1395.3,787.5 L1398.2,787.8 L1401.2,788.1 L1404.2,788.4 L1407.2,788.7 L1410.2,789.0 L1413.2,789.2 L1416.2,789.5 L1419.2,789.8 L1422.2,790.0 L1425.2,790.3 L1428.1,790.5 L1431.1,790.8 L1434.1,791.0 L1437.1,791.3 L1440.1,791.5 L1443.1,791.8 L1446.1,792.0 L1449.1,792.3 L1452.1,792.5 L1455.1,792.7 L1458.1,792.9 L1461.1,793.2 L1464.1,793.4 L1467.0,793.6 L1470.0,793.8 L1473.0,794.0 L1476.0,794.2 L1479.0,794.4 L1482.0,794.6 L1485.0,794.8 L1488.0,795.0 L1491.0,795.1 L1494.0,795.3 L1497.0,795.5 L1500.0,795.6 L1503.0,795.8 L1506.0,795.9 L1509.0,796.1 L1512.0,796.2 L1515.0,796.3 L1518.0,796.5 L1521.0,796.6 L1524.0,796.8 L1527.0,796.9 L1530.0,797.1 L1533.0,797.2 L1536.0,797.4 L1539.0,797.5 L1542.0,797.7 L1545.0,797.8 L1548.0,798.0 L1551.0,798.2 L1554.0,798.3 L1557.0,798.5 L1560.0,798.6 L1563.0,798.8 L1566.0,798.9 L1569.0,799.1 L1572.0,799.2 L1575.0,799.3 L1578.0,799.5 L1581.0,799.6 L1584.0,799.7 L1587.0,799.8 L1590.0,799.9 L1593.0,800.0 L1596.0,800.1 L1599.0,800.2 L1602.0,800.3 L1605.0,800.3 L1608.0,800.4 L1611.0,800.5 L1614.0,800.5 L1617.0,800.6 L1620.0,800.7 L1623.0,800.7 L1626.0,800.8 L1629.0,800.9 L1632.0,800.9 L1635.0,801.0 L1638.0,801.1 L1641.0,801.2 L1644.0,801.2 L1647.0,801.3 L1650.0,801.4 L1653.0,801.4 L1656.0,801.5 L1659.0,801.6 L1662.0,801.6 L1665.0,801.7 L1668.0,801.8 L1671.0,801.8 L1674.0,801.9 L1677.0,802.0 L1680.0,802.1 L1683.0,802.1 L1686.0,802.2 L1689.0,802.3 L1692.0,802.4 L1695.0,802.5 L1698.0,802.6 L1701.0,802.7 L1704.0,802.8 L1707.0,802.9 L1710.0,803.0 L1713.0,803.2 L1716.0,803.3 L1719.0,803.4 L1722.0,803.5 L1725.0,803.6 L1728.0,803.7 L1731.0,803.8 L1734.0,803.9 L1737.0,804.1 L1740.0,804.2 L1743.0,804.3 L1746.0,804.4 L1749.0,804.5 L1752.0,804.6 L1755.0,804.7 L1757.0,804.8" fill="none" stroke="#ee1f24" stroke-width="4.50" stroke-linejoin="round" stroke-linecap="butt"/>
<path d="M231.0,307.0 L234.0,307.0 L237.0,307.0 L240.0,307.1 L243.0,307.1 L246.0,307.1 L249.0,307.2 L252.0,307.3 L255.0,307.6 L258.0,308.0 L260.9,308.5 L263.8,309.3 L266.6,310.2 L269.4,311.4 L272.2,312.6 L274.9,313.8 L277.7,314.9 L280.4,316.2 L283.0,317.7 L285.3,319.5 L287.5,321.5 L289.6,323.6 L291.8,325.8 L293.9,327.9 L296.0,330.0 L298.0,332.2 L299.9,334.6 L301.5,337.1 L303.0,339.7 L304.5,342.3 L305.9,344.9 L307.4,347.5 L308.9,350.1 L310.4,352.7 L311.9,355.3 L313.4,357.9 L315.0,360.5 L316.5,363.1 L318.1,365.6 L319.6,368.2 L321.1,370.8 L322.5,373.5 L323.8,376.2 L325.1,378.9 L326.3,381.6 L327.5,384.4 L328.6,387.2 L329.8,389.9 L331.0,392.7 L332.2,395.4 L333.4,398.2 L334.6,401.0 L335.7,403.7 L336.8,406.5 L338.0,409.3 L339.0,412.1 L340.0,414.9 L341.0,417.8 L342.0,420.6 L342.9,423.5 L343.8,426.3 L344.7,429.2 L345.6,432.1 L346.4,435.0 L347.2,437.9 L348.0,440.8 L348.8,443.7 L349.5,446.6 L350.3,449.5 L351.1,452.4 L351.9,455.2 L352.7,458.1 L353.6,461.0 L354.4,463.9 L355.2,466.8 L356.0,469.7 L356.8,472.6 L357.7,475.5 L358.5,478.3 L359.4,481.2 L360.3,484.1 L361.3,486.9 L362.2,489.8 L363.2,492.6 L364.1,495.5 L365.1,498.3 L366.0,501.2 L366.9,504.0 L367.8,506.9 L368.7,509.8 L369.6,512.6 L370.5,515.5 L371.5,518.3 L372.4,521.2 L373.4,524.0 L374.4,526.9 L375.4,529.7 L376.4,532.5 L377.4,535.3 L378.4,538.2 L379.3,541.0 L380.1,543.9 L381.0,546.8 L381.7,549.7 L382.6,552.6 L383.4,555.5 L384.4,558.3 L385.6,561.1 L386.8,563.8 L388.2,566.5 L389.6,569.1 L391.1,571.7 L392.6,574.3 L394.0,577.0 L395.4,579.6 L396.9,582.2 L398.6,584.7 L400.5,587.0 L402.5,589.2 L404.6,591.4 L406.7,593.5 L408.9,595.6 L411.2,597.5 L413.6,599.3 L416.1,601.0 L418.7,602.5 L421.3,603.8 L424.1,605.1 L426.9,606.1 L429.7,607.1 L432.6,608.0 L435.5,608.7 L438.4,609.3 L441.4,609.9 L444.4,610.3 L447.3,610.6 L450.3,610.9 L453.3,611.1 L456.3,611.2 L459.3,611.3 L462.3,611.4 L465.3,611.5 L468.3,611.7 L471.3,611.8 L474.3,611.9 L477.3,612.0 L480.3,612.1 L483.3,612.2 L486.3,612.3 L489.3,612.3 L492.3,612.4 L495.3,612.4 L498.3,612.5 L501.3,612.5 L504.4,612.5 L507.4,612.5 L510.4,612.5 L513.4,612.5 L516.4,612.5 L519.4,612.5 L522.4,612.5 L525.4,612.5 L528.4,612.5 L531.4,612.5 L534.4,612.5 L537.4,612.4 L540.4,612.4 L543.4,612.4 L546.4,612.3 L549.4,612.3 L552.4,612.2 L555.4,612.2 L558.4,612.1 L561.4,612.1 L564.4,612.0 L567.4,611.9 L570.4,611.9 L573.4,611.8 L576.4,611.7 L579.4,611.6 L582.4,611.6 L585.4,611.5 L588.4,611.4 L591.4,611.3 L594.4,611.2 L597.4,611.1 L600.4,611.0 L603.4,610.9 L606.4,610.8 L609.4,610.6 L612.4,610.5 L615.4,610.4 L618.4,610.2 L621.4,610.1 L624.4,609.9 L627.4,609.8 L630.4,609.6 L633.4,609.4 L636.4,609.2 L639.4,609.0 L642.4,608.8 L645.4,608.7 L648.4,608.5 L651.4,608.3 L654.4,608.1 L657.4,607.8 L660.4,607.6 L663.4,607.3 L666.4,607.0 L669.3,606.7 L672.3,606.3 L675.3,605.9 L678.3,605.5 L681.2,605.0 L684.2,604.5 L687.1,604.0 L690.1,603.5 L693.1,602.9 L696.0,602.3 L698.9,601.7 L701.9,601.0 L704.8,600.3 L707.7,599.5 L710.6,598.7 L713.5,597.9 L716.3,597.0 L719.2,596.1 L722.0,595.1 L724.9,594.1 L727.7,593.1 L730.5,592.0 L733.3,590.9 L736.0,589.7 L738.8,588.6 L741.6,587.4 L744.3,586.2 L747.1,585.0 L749.8,583.8 L752.6,582.6 L755.3,581.4 L758.1,580.1 L760.8,578.9 L763.5,577.6 L766.2,576.3 L768.9,575.0 L771.6,573.7 L774.3,572.4 L777.0,571.0 L779.7,569.7 L782.3,568.3 L785.0,566.9 L787.6,565.5 L790.3,564.0 L792.9,562.5 L795.5,561.1 L798.1,559.6 L800.7,558.1 L803.4,556.7 L806.1,555.4 L808.8,554.0 L811.5,552.7 L814.2,551.5 L816.9,550.3 L819.7,549.1 L822.4,547.9 L825.2,546.7 L828.0,545.5 L830.8,544.4 L833.5,543.3 L836.3,542.2 L839.1,541.1 L841.9,540.0 L844.7,538.9 L847.5,537.7 L850.3,536.6 L853.0,535.4 L855.8,534.1 L858.5,533.0 L861.3,531.8 L864.1,530.8 L867.0,529.9 L869.9,529.1 L872.8,528.5 L875.7,527.9 L878.7,527.4 L881.7,526.9 L884.6,526.6 L887.6,526.2 L890.6,525.9 L893.6,525.7 L896.6,525.5 L899.6,525.3 L902.6,525.2 L905.6,525.1 L908.6,525.1 L911.6,525.1 L914.6,525.2 L917.6,525.3 L920.6,525.4 L923.6,525.5 L926.6,525.7 L929.6,525.9 L932.6,526.1 L935.6,526.4 L938.6,526.8 L941.5,527.4 L944.4,528.0 L947.3,528.8 L950.2,529.5 L953.1,530.3 L956.0,531.1 L958.9,531.9 L961.8,532.8 L964.7,533.7 L967.5,534.6 L970.4,535.5 L973.2,536.5 L976.0,537.5 L978.9,538.5 L981.7,539.6 L984.5,540.7 L987.2,541.9 L990.0,543.1 L992.7,544.4 L995.4,545.7 L998.1,547.0 L1000.8,548.4 L1003.4,549.8 L1006.0,551.2 L1008.7,552.7 L1011.3,554.2 L1013.9,555.7 L1016.5,557.2 L1019.1,558.7 L1021.6,560.3 L1024.2,561.9 L1026.7,563.4 L1029.3,565.0 L1031.8,566.6 L1034.4,568.2 L1036.9,569.8 L1039.4,571.5 L1041.9,573.2 L1044.4,574.9 L1046.8,576.6 L1049.3,578.3 L1051.7,580.1 L1054.2,581.8 L1056.6,583.6 L1059.0,585.4 L1061.4,587.1 L1063.9,588.9 L1066.3,590.7 L1068.7,592.4 L1071.2,594.1 L1073.7,595.9 L1076.1,597.6 L1078.6,599.3 L1081.1,600.9 L1083.6,602.6 L1086.1,604.3 L1088.6,606.0 L1091.1,607.6 L1093.6,609.3 L1096.1,610.9 L1098.6,612.6 L1101.1,614.2 L1103.6,615.8 L1106.2,617.5 L1108.7,619.1 L1111.2,620.7 L1113.7,622.3 L1116.3,623.9 L1118.8,625.6 L1121.4,627.2 L1123.9,628.7 L1126.4,630.3 L1129.0,631.9 L1131.5,633.5 L1134.1,635.1 L1136.6,636.7 L1139.2,638.3 L1141.7,639.9 L1144.3,641.4 L1146.9,643.0 L1149.4,644.6 L1152.0,646.1 L1154.6,647.6 L1157.2,649.2 L1159.8,650.7 L1162.4,652.2 L1165.0,653.6 L1167.6,655.1 L1170.3,656.5 L1172.9,657.9 L1175.6,659.3 L1178.2,660.7 L1180.9,662.0 L1183.6,663.4 L1186.3,664.7 L1189.0,666.0 L1191.7,667.3 L1194.4,668.6 L1197.2,669.8 L1199.9,671.1 L1202.6,672.3 L1205.4,673.6 L1208.1,674.8 L1210.8,676.0 L1213.6,677.2 L1216.3,678.4 L1219.1,679.6 L1221.9,680.8 L1224.6,682.0 L1227.4,683.2 L1230.1,684.3 L1232.9,685.5 L1235.7,686.6 L1238.5,687.8 L1241.3,688.9 L1244.1,690.0 L1246.9,691.1 L1249.7,692.2 L1252.5,693.2 L1255.3,694.3 L1258.1,695.3 L1260.9,696.4 L1263.7,697.4 L1266.6,698.4 L1269.4,699.4 L1272.2,700.4 L1275.1,701.3 L1277.9,702.2 L1280.8,703.2 L1283.6,704.1 L1286.5,705.0 L1289.4,705.9 L1292.2,706.8 L1295.1,707.7 L1298.0,708.6 L1300.8,709.5 L1303.7,710.4 L1306.6,711.2 L1309.4,712.1 L1312.3,713.0 L1315.2,713.9 L1318.1,714.7 L1321.0,715.6 L1323.8,716.4 L1326.7,717.3 L1329.6,718.1 L1332.5,719.0 L1335.4,719.8 L1338.2,720.7 L1341.1,721.5 L1344.0,722.4 L1346.8,723.3 L1349.7,724.3 L1352.6,725.2 L1355.4,726.1 L1358.3,727.0 L1361.1,728.0 L1364.0,728.9 L1366.9,729.8 L1369.7,730.6 L1372.6,731.5 L1375.5,732.3 L1378.4,733.2 L1381.3,733.9 L1384.2,734.7 L1387.1,735.4 L1390.0,736.2 L1392.9,736.9 L1395.8,737.6 L1398.8,738.3 L1401.7,738.9 L1404.6,739.6 L1407.6,740.2 L1410.5,740.9 L1413.4,741.5 L1416.4,742.1 L1419.3,742.7 L1422.2,743.3 L1425.2,743.9 L1428.1,744.5 L1431.1,745.1 L1434.0,745.7 L1437.0,746.3 L1439.9,746.9 L1442.9,747.4 L1445.8,748.0 L1448.8,748.5 L1451.7,749.1 L1454.7,749.6 L1457.6,750.1 L1460.6,750.6 L1463.5,751.1 L1466.5,751.6 L1469.5,752.1 L1472.4,752.6 L1475.4,753.1 L1478.4,753.5 L1481.3,754.0 L1484.3,754.4 L1487.3,754.8 L1490.3,755.2 L1493.2,755.6 L1496.2,756.0 L1499.2,756.4 L1502.2,756.7 L1505.2,757.1 L1508.1,757.4 L1511.1,757.8 L1514.1,758.1 L1517.1,758.4 L1520.1,758.8 L1523.1,759.2 L1526.0,759.5 L1529.0,759.9 L1532.0,760.3 L1535.0,760.7 L1537.9,761.1 L1540.9,761.6 L1543.9,762.0 L1546.8,762.5 L1549.8,762.9 L1552.8,763.4 L1555.7,763.9 L1558.7,764.4 L1561.7,764.8 L1564.6,765.3 L1567.6,765.8 L1570.6,766.2 L1573.5,766.6 L1576.5,767.1 L1579.5,767.5 L1582.5,767.9 L1585.4,768.2 L1588.4,768.6 L1591.4,768.9 L1594.4,769.3 L1597.4,769.6 L1600.4,769.9 L1603.4,770.2 L1606.3,770.5 L1609.3,770.7 L1612.3,771.0 L1615.3,771.3 L1618.3,771.6 L1621.3,771.9 L1624.3,772.1 L1627.3,772.4 L1630.3,772.7 L1633.3,773.0 L1636.2,773.3 L1639.2,773.6 L1642.2,773.9 L1645.2,774.3 L1648.2,774.6 L1651.2,774.9 L1654.2,775.2 L1657.1,775.6 L1660.1,775.9 L1663.1,776.2 L1666.1,776.5 L1669.1,776.8 L1672.1,777.1 L1675.1,777.4 L1678.1,777.6 L1681.0,777.9 L1684.0,778.1 L1687.0,778.4 L1690.0,778.6 L1693.0,778.8 L1696.0,779.0 L1699.0,779.1 L1702.0,779.3 L1705.0,779.5 L1708.0,779.6 L1711.0,779.8 L1714.0,780.0 L1717.0,780.1 L1720.0,780.2 L1723.0,780.4 L1726.0,780.5 L1729.0,780.7 L1732.0,780.8 L1735.0,780.9 L1738.0,781.1 L1741.0,781.2 L1744.0,781.4 L1747.0,781.5 L1750.0,781.6 L1753.0,781.8 L1756.0,781.9 L1757.0,782.0" fill="none" stroke="#2878c2" stroke-width="4.50" stroke-linejoin="round" stroke-linecap="butt"/>
<path d="M231.0,316.5 L234.0,316.5 L237.0,316.5 L240.0,316.5 L243.0,316.5 L246.0,316.6 L249.0,316.6 L252.0,316.8 L255.0,317.1 L258.0,317.5 L260.9,318.1 L263.8,318.9 L266.7,319.8 L269.5,320.7 L272.3,321.8 L275.1,322.9 L277.8,324.1 L280.5,325.5 L283.0,327.1 L285.5,328.8 L287.8,330.7 L290.0,332.7 L292.2,334.7 L294.3,336.9 L296.3,339.2 L298.1,341.5 L299.9,343.9 L301.7,346.3 L303.5,348.7 L305.3,351.2 L307.1,353.5 L309.0,355.9 L311.0,358.2 L312.9,360.4 L314.8,362.8 L316.7,365.1 L318.5,367.5 L320.4,369.9 L322.1,372.3 L323.8,374.8 L325.5,377.3 L327.0,379.8 L328.5,382.5 L329.8,385.1 L331.2,387.8 L332.4,390.5 L333.7,393.3 L335.0,396.0 L336.2,398.7 L337.4,401.5 L338.7,404.2 L339.9,406.9 L341.1,409.7 L342.3,412.4 L343.4,415.2 L344.5,418.0 L345.5,420.8 L346.5,423.7 L347.5,426.5 L348.4,429.4 L349.3,432.2 L350.2,435.1 L351.1,438.0 L351.9,440.8 L352.8,443.7 L353.6,446.6 L354.3,449.5 L355.1,452.4 L355.7,455.4 L356.3,458.3 L356.9,461.3 L357.5,464.2 L358.2,467.1 L359.1,470.0 L360.1,472.8 L361.2,475.6 L362.3,478.4 L363.3,481.2 L364.2,484.1 L365.1,486.9 L366.0,489.8 L367.0,492.6 L368.1,495.4 L369.2,498.2 L370.4,501.0 L371.4,503.8 L372.5,506.6 L373.6,509.4 L374.8,512.1 L376.0,514.9 L377.4,517.5 L378.9,520.2 L380.4,522.7 L382.0,525.3 L383.5,527.9 L385.0,530.5 L386.5,533.1 L388.1,535.6 L389.9,538.0 L391.9,540.3 L394.0,542.3 L396.4,544.2 L398.9,545.8 L401.5,547.2 L404.2,548.6 L406.8,550.0 L409.5,551.3 L412.3,552.5 L415.1,553.4 L418.0,554.1 L421.0,554.6 L424.0,555.0 L426.9,555.3 L429.9,555.5 L432.9,555.7 L435.9,555.9 L438.9,556.1 L441.9,556.3 L444.9,556.5 L447.9,556.7 L450.9,556.9 L453.9,557.0 L456.9,557.2 L459.9,557.4 L462.9,557.5 L465.9,557.7 L468.9,557.8 L471.9,557.9 L474.9,558.1 L477.9,558.2 L480.9,558.3 L483.9,558.4 L486.9,558.5 L489.9,558.6 L492.9,558.7 L495.9,558.7 L498.9,558.8 L501.9,558.8 L504.9,558.9 L507.9,558.9 L510.9,558.9 L513.9,558.9 L516.9,558.9 L519.9,558.8 L522.9,558.8 L525.9,558.7 L528.9,558.6 L531.9,558.5 L534.9,558.5 L537.9,558.3 L540.9,558.2 L543.9,558.1 L546.9,558.0 L549.9,557.9 L552.9,557.8 L555.9,557.7 L558.9,557.5 L561.9,557.4 L564.9,557.3 L567.9,557.2 L570.9,557.0 L573.9,556.9 L576.9,556.8 L579.9,556.6 L582.9,556.5 L585.9,556.3 L588.9,556.2 L591.9,556.0 L594.9,555.8 L597.9,555.6 L600.9,555.4 L603.9,555.2 L606.9,555.0 L609.9,554.8 L612.9,554.6 L615.9,554.4 L618.9,554.2 L621.9,554.0 L624.9,553.7 L627.8,553.5 L630.8,553.3 L633.8,553.0 L636.8,552.8 L639.8,552.5 L642.8,552.3 L645.8,552.0 L648.8,551.8 L651.8,551.5 L654.8,551.2 L657.8,551.0 L660.7,550.7 L663.7,550.4 L666.7,550.0 L669.7,549.7 L672.7,549.3 L675.7,548.9 L678.6,548.5 L681.6,548.1 L684.6,547.7 L687.5,547.2 L690.5,546.7 L693.4,546.1 L696.3,545.4 L699.2,544.6 L702.1,543.7 L704.9,542.6 L707.7,541.5 L710.5,540.4 L713.2,539.2 L716.0,537.9 L718.7,536.7 L721.4,535.4 L724.1,534.1 L726.8,532.8 L729.5,531.5 L732.2,530.1 L734.8,528.7 L737.5,527.3 L740.2,526.0 L742.9,524.7 L745.6,523.5 L748.4,522.3 L751.2,521.2 L754.0,520.1 L756.8,519.0 L759.6,517.9 L762.4,516.8 L765.2,515.7 L767.9,514.6 L770.7,513.4 L773.5,512.3 L776.3,511.2 L779.1,510.1 L781.9,509.0 L784.7,507.9 L787.5,506.9 L790.3,505.8 L793.1,504.8 L796.0,503.8 L798.8,502.9 L801.6,501.9 L804.5,500.9 L807.3,499.9 L810.1,498.9 L813.0,497.9 L815.8,496.8 L818.6,495.8 L821.5,494.9 L824.3,493.9 L827.2,493.1 L830.1,492.2 L833.0,491.4 L835.9,490.7 L838.8,489.9 L841.7,489.2 L844.6,488.6 L847.6,488.0 L850.5,487.4 L853.5,486.9 L856.4,486.3 L859.4,485.9 L862.4,485.5 L865.3,485.2 L868.3,484.9 L871.3,484.7 L874.3,484.6 L877.3,484.5 L880.3,484.4 L883.3,484.4 L886.3,484.4 L889.3,484.4 L892.3,484.4 L895.3,484.4 L898.3,484.4 L901.3,484.4 L904.3,484.5 L907.3,484.5 L910.3,484.5 L913.3,484.4 L916.4,484.4 L919.4,484.3 L922.4,484.2 L925.4,484.1 L928.4,484.1 L931.4,484.2 L934.3,484.4 L937.3,484.7 L940.3,485.1 L943.2,485.7 L946.2,486.3 L949.1,487.0 L952.0,487.8 L954.9,488.6 L957.8,489.5 L960.6,490.4 L963.5,491.4 L966.3,492.3 L969.1,493.4 L971.9,494.4 L974.7,495.5 L977.5,496.6 L980.3,497.7 L983.1,498.8 L985.9,499.9 L988.7,501.1 L991.4,502.3 L994.1,503.5 L996.9,504.8 L999.6,506.1 L1002.3,507.4 L1005.0,508.7 L1007.6,510.1 L1010.3,511.4 L1013.0,512.8 L1015.6,514.2 L1018.3,515.6 L1020.9,517.0 L1023.6,518.4 L1026.2,519.9 L1028.9,521.3 L1031.6,522.7 L1034.2,524.1 L1036.9,525.5 L1039.5,526.9 L1042.2,528.3 L1044.8,529.7 L1047.4,531.1 L1050.1,532.6 L1052.7,534.0 L1055.4,535.4 L1058.0,536.9 L1060.6,538.4 L1063.2,539.8 L1065.8,541.3 L1068.5,542.8 L1071.1,544.2 L1073.7,545.7 L1076.3,547.2 L1078.9,548.7 L1081.5,550.2 L1084.1,551.7 L1086.7,553.3 L1089.2,554.8 L1091.8,556.4 L1094.4,557.9 L1096.9,559.5 L1099.5,561.1 L1102.0,562.6 L1104.6,564.2 L1107.2,565.8 L1109.7,567.3 L1112.3,568.9 L1114.9,570.4 L1117.4,572.0 L1120.0,573.5 L1122.6,575.0 L1125.2,576.5 L1127.8,578.0 L1130.4,579.5 L1133.0,581.0 L1135.6,582.5 L1138.3,584.0 L1140.9,585.5 L1143.5,586.9 L1146.1,588.4 L1148.7,589.8 L1151.4,591.3 L1154.0,592.7 L1156.6,594.2 L1159.3,595.6 L1161.9,597.0 L1164.6,598.3 L1167.3,599.7 L1170.0,601.1 L1172.6,602.4 L1175.3,603.7 L1178.0,605.0 L1180.8,606.3 L1183.5,607.6 L1186.2,608.8 L1188.9,610.1 L1191.7,611.3 L1194.4,612.5 L1197.2,613.8 L1199.9,615.0 L1202.7,616.2 L1205.4,617.4 L1208.2,618.5 L1210.9,619.7 L1213.7,620.9 L1216.5,622.1 L1219.2,623.3 L1222.0,624.4 L1224.7,625.6 L1227.5,626.8 L1230.3,627.9 L1233.1,629.1 L1235.8,630.2 L1238.6,631.4 L1241.4,632.5 L1244.2,633.6 L1247.0,634.7 L1249.8,635.8 L1252.6,636.8 L1255.4,637.9 L1258.2,638.9 L1261.0,639.9 L1263.9,640.9 L1266.7,641.9 L1269.6,642.8 L1272.4,643.8 L1275.3,644.7 L1278.1,645.6 L1281.0,646.5 L1283.9,647.4 L1286.8,648.2 L1289.6,649.1 L1292.5,649.9 L1295.4,650.7 L1298.3,651.5 L1301.2,652.3 L1304.1,653.1 L1307.0,653.8 L1309.9,654.6 L1312.8,655.3 L1315.7,656.0 L1318.7,656.7 L1321.6,657.3 L1324.5,657.9 L1327.5,658.6 L1330.4,659.2 L1333.4,659.8 L1336.3,660.4 L1339.2,661.0 L1342.2,661.7 L1345.1,662.4 L1348.0,663.0 L1350.9,663.7 L1353.9,664.4 L1356.8,665.0 L1359.7,665.7 L1362.6,666.4 L1365.6,667.0 L1368.5,667.7 L1371.4,668.4 L1374.4,669.0 L1377.3,669.7 L1380.2,670.3 L1383.2,670.9 L1386.1,671.5 L1389.0,672.2 L1392.0,672.8 L1394.9,673.4 L1397.8,674.0 L1400.8,674.6 L1403.7,675.2 L1406.7,675.8 L1409.6,676.4 L1412.6,677.0 L1415.5,677.6 L1418.4,678.2 L1421.4,678.7 L1424.3,679.3 L1427.3,679.9 L1430.2,680.4 L1433.2,680.9 L1436.2,681.4 L1439.1,681.9 L1442.1,682.4 L1445.0,682.9 L1448.0,683.4 L1451.0,683.9 L1453.9,684.3 L1456.9,684.8 L1459.9,685.2 L1462.8,685.7 L1465.8,686.1 L1468.8,686.6 L1471.8,687.0 L1474.7,687.4 L1477.7,687.9 L1480.7,688.3 L1483.6,688.7 L1486.6,689.2 L1489.6,689.6 L1492.6,690.0 L1495.5,690.4 L1498.5,690.8 L1501.5,691.2 L1504.4,691.7 L1507.4,692.1 L1510.4,692.5 L1513.4,692.9 L1516.3,693.3 L1519.3,693.7 L1522.3,694.1 L1525.3,694.5 L1528.2,694.9 L1531.2,695.3 L1534.2,695.7 L1537.2,696.1 L1540.1,696.5 L1543.1,696.9 L1546.1,697.4 L1549.1,697.8 L1552.0,698.2 L1555.0,698.6 L1558.0,699.0 L1561.0,699.5 L1563.9,699.9 L1566.9,700.3 L1569.9,700.7 L1572.8,701.1 L1575.8,701.5 L1578.8,701.9 L1581.8,702.3 L1584.8,702.7 L1587.7,703.0 L1590.7,703.4 L1593.7,703.8 L1596.7,704.1 L1599.7,704.5 L1602.6,704.9 L1605.6,705.2 L1608.6,705.6 L1611.6,705.9 L1614.6,706.3 L1617.5,706.6 L1620.5,706.9 L1623.5,707.3 L1626.5,707.6 L1629.5,708.0 L1632.5,708.3 L1635.4,708.6 L1638.4,709.0 L1641.4,709.3 L1644.4,709.7 L1647.4,710.0 L1650.4,710.3 L1653.3,710.7 L1656.3,711.0 L1659.3,711.3 L1662.3,711.7 L1665.3,712.0 L1668.3,712.3 L1671.2,712.6 L1674.2,712.9 L1677.2,713.2 L1680.2,713.5 L1683.2,713.8 L1686.2,714.1 L1689.2,714.4 L1692.2,714.7 L1695.1,714.9 L1698.1,715.2 L1701.1,715.4 L1704.1,715.7 L1707.1,715.9 L1710.1,716.2 L1713.1,716.4 L1716.1,716.6 L1719.1,716.9 L1722.1,717.1 L1725.1,717.3 L1728.1,717.6 L1731.1,717.8 L1734.1,718.0 L1737.0,718.2 L1740.0,718.5 L1743.0,718.7 L1746.0,718.9 L1749.0,719.2 L1752.0,719.4 L1755.0,719.6 L1757.0,719.8" fill="none" stroke="#1fb060" stroke-width="4.50" stroke-linejoin="round" stroke-linecap="butt"/>
<text transform="matrix(0.60708 0 0 0.58704 100.46 134.07)" font-size="100" fill="#3a3a3a">1.2</text>
<text transform="matrix(0.59785 0 0 0.61985 100.55 265.72)" font-size="100" fill="#3a3a3a">1.0</text>
<text transform="matrix(0.57930 0 0 0.60660 102.29 393.54)" font-size="100" fill="#3a3a3a">0.8</text>
<text transform="matrix(0.57523 0 0 0.60218 102.31 523.95)" font-size="100" fill="#3a3a3a">0.6</text>
<text transform="matrix(0.56842 0 0 0.60218 102.34 653.45)" font-size="100" fill="#3a3a3a">0.4</text>
<text transform="matrix(0.58527 0 0 0.61985 102.97 785.42)" font-size="100" fill="#3a3a3a">0.2</text>
<text transform="matrix(0.57675 0 0 0.61838 103.00 916.62)" font-size="100" fill="#3a3a3a">0.0</text>
<text transform="matrix(0.59403 0 0 0.62981 186.16 996.88)" font-size="100" fill="#3a3a3a">320</text>
<text transform="matrix(0.58237 0 0 0.62981 476.36 996.88)" font-size="100" fill="#3a3a3a">420</text>
<text transform="matrix(0.59837 0 0 0.62981 762.52 996.88)" font-size="100" fill="#3a3a3a">520</text>
<text transform="matrix(0.59199 0 0 0.62981 1051.96 996.88)" font-size="100" fill="#3a3a3a">620</text>
<text transform="matrix(0.60172 0 0 0.62981 1339.03 996.88)" font-size="100" fill="#3a3a3a">720</text>
<text transform="matrix(0.58996 0 0 0.62981 1629.25 996.88)" font-size="100" fill="#3a3a3a">820</text>
<text transform="matrix(0.61476 0 0 0.62550 757.54 1079.10)" font-size="100" fill="#3a3a3a">Wavelength (nm)</text>
<text transform="matrix(0 -0.60971 0.61429 0 79.62 711.70)" font-size="100" fill="#3a3a3a">Absorbance (a.u.)</text>
<line x1="381.00" y1="109.30" x2="485.00" y2="109.30" stroke="#c8c8c8" stroke-width="8.00"/>
<line x1="381.00" y1="109.30" x2="485.00" y2="109.30" stroke="#1a1a1a" stroke-width="4.00"/>
<line x1="381.00" y1="184.90" x2="485.00" y2="184.90" stroke="#e6b0f0" stroke-width="12.00"/>
<line x1="381.00" y1="184.90" x2="485.00" y2="184.90" stroke="#9b3fbf" stroke-width="5.00"/>
<line x1="381.00" y1="259.20" x2="485.00" y2="259.20" stroke="#f52222" stroke-width="8.00"/>
<line x1="381.00" y1="334.80" x2="485.00" y2="334.80" stroke="#2a80c6" stroke-width="8.00"/>
<line x1="381.00" y1="410.80" x2="485.00" y2="410.80" stroke="#20b86a" stroke-width="8.00"/>
<text transform="matrix(0.55544 0 0 0.53893 496.00 127.88)" font-size="100" fill="#3a3a3a">TiO<tspan font-size="58.00" dy="3.00">2</tspan></text>
<text transform="matrix(0.54699 0 0 0.58228 500.47 201.25)" font-size="100" fill="#3a3a3a">Au<tspan font-size="58.00" dy="3.00">1</tspan><tspan dy="-3.00">/TiO</tspan><tspan font-size="58.00" dy="3.00">2</tspan></text>
<text transform="matrix(0.54699 0 0 0.54889 500.47 271.34)" font-size="100" fill="#3a3a3a">Au<tspan font-size="58.00" dy="3.00">3</tspan><tspan dy="-3.00">/TiO</tspan><tspan font-size="58.00" dy="3.00">2</tspan></text>
<text transform="matrix(0.55548 0 0 0.57755 501.46 340.84)" font-size="100" fill="#3a3a3a">Au<tspan font-size="58.00" dy="3.00">5</tspan><tspan dy="-3.00">/TiO</tspan><tspan font-size="58.00" dy="3.00">2</tspan></text>
<text transform="matrix(0.55548 0 0 0.53893 501.46 413.88)" font-size="100" fill="#3a3a3a">Au<tspan font-size="58.00" dy="3.00">7</tspan><tspan dy="-3.00">/TiO</tspan><tspan font-size="58.00" dy="3.00">2</tspan></text>
<text transform="matrix(0.63994 0 0 0.64076 1644.79 169.76)" font-size="100" fill="#3a3a3a">(a)</text>
<line x1="1079.20" y1="86.00" x2="1079.20" y2="440.00" stroke="#c8c8c8" stroke-width="3.00"/>
<line x1="1075.70" y1="86.00" x2="1075.70" y2="452.00" stroke="#151515" stroke-width="4.50"/>
<line x1="1731.50" y1="87.00" x2="1731.50" y2="441.00" stroke="#333333" stroke-width="4.50"/>
<line x1="1735.00" y1="87.00" x2="1735.00" y2="441.00" stroke="#c8c8c8" stroke-width="3.00"/>
<line x1="1058.00" y1="441.00" x2="1737.00" y2="441.00" stroke="#c8c8c8" stroke-width="3.00"/>
<line x1="1058.00" y1="437.30" x2="1737.00" y2="437.30" stroke="#151515" stroke-width="4.50"/>
<line x1="1058.40" y1="176.60" x2="1075.00" y2="176.60" stroke="#151515" stroke-width="4.50"/>
<line x1="1058.40" y1="264.50" x2="1075.00" y2="264.50" stroke="#151515" stroke-width="4.50"/>
<line x1="1058.40" y1="349.50" x2="1075.00" y2="349.50" stroke="#151515" stroke-width="4.50"/>
<line x1="1058.40" y1="437.30" x2="1075.00" y2="437.30" stroke="#151515" stroke-width="4.50"/>
<line x1="1058.40" y1="91.00" x2="1075.00" y2="91.00" stroke="#151515" stroke-width="4.50"/>
<line x1="1218.10" y1="437.30" x2="1218.10" y2="452.00" stroke="#151515" stroke-width="4.50"/>
<line x1="1360.50" y1="437.30" x2="1360.50" y2="452.00" stroke="#151515" stroke-width="4.50"/>
<line x1="1502.90" y1="437.30" x2="1502.90" y2="452.00" stroke="#151515" stroke-width="4.50"/>
<line x1="1645.30" y1="437.30" x2="1645.30" y2="452.00" stroke="#151515" stroke-width="4.50"/>
<path d="M1077.0,405.6 L1080.0,405.4 L1083.0,405.3 L1086.0,405.1 L1089.0,405.0 L1092.0,404.9 L1095.0,404.7 L1098.0,404.6 L1101.0,404.4 L1104.0,404.3 L1107.0,404.1 L1110.0,404.0 L1113.0,403.8 L1116.0,403.6 L1119.0,403.5 L1122.0,403.3 L1125.0,403.1 L1128.0,402.9 L1131.0,402.6 L1134.0,402.4 L1137.0,402.1 L1140.0,401.9 L1143.0,401.6 L1146.0,401.3 L1149.0,401.0 L1152.0,400.7 L1155.0,400.4 L1158.0,400.1 L1160.9,399.7 L1163.9,399.4 L1166.9,399.1 L1169.9,398.8 L1172.9,398.5 L1175.9,398.2 L1178.9,397.9 L1181.9,397.6 L1184.9,397.3 L1187.9,397.0 L1190.8,396.7 L1193.8,396.5 L1196.8,396.2 L1199.8,395.9 L1202.8,395.7 L1205.8,395.4 L1208.8,395.2 L1211.8,394.9 L1214.8,394.7 L1217.8,394.4 L1220.8,394.2 L1223.8,393.9 L1226.8,393.7 L1229.8,393.4 L1232.8,393.2 L1235.8,392.9 L1238.8,392.7 L1241.8,392.4 L1244.8,392.2 L1247.8,392.0 L1250.8,391.7 L1253.8,391.5 L1256.8,391.3 L1259.7,391.1 L1262.7,390.8 L1265.7,390.6 L1268.7,390.4 L1271.7,390.2 L1274.7,390.0 L1277.7,389.8 L1280.7,389.6 L1283.7,389.4 L1286.7,389.2 L1289.7,389.0 L1292.7,388.9 L1295.7,388.7 L1298.7,388.5 L1301.7,388.4 L1304.7,388.2 L1307.7,388.0 L1310.7,387.9 L1313.7,387.7 L1316.8,387.6 L1319.8,387.4 L1322.8,387.3 L1325.8,387.1 L1328.8,387.0 L1331.8,386.8 L1334.8,386.6 L1337.8,386.5 L1340.8,386.3 L1343.8,386.1 L1346.8,385.9 L1349.8,385.7 L1352.8,385.5 L1355.8,385.3 L1358.8,385.1 L1361.8,384.9 L1364.8,384.6 L1367.7,384.4 L1370.7,384.1 L1373.7,383.9 L1376.7,383.6 L1379.7,383.3 L1382.7,383.0 L1385.7,382.8 L1388.7,382.5 L1391.7,382.2 L1394.7,381.9 L1397.7,381.6 L1400.7,381.3 L1403.7,381.0 L1406.6,380.7 L1409.6,380.3 L1412.6,380.0 L1415.6,379.7 L1418.6,379.4 L1421.6,379.1 L1424.6,378.8 L1427.6,378.5 L1430.6,378.3 L1433.6,378.0 L1436.6,377.8 L1439.6,377.5 L1442.6,377.3 L1445.6,377.0 L1448.5,376.8 L1451.5,376.6 L1454.5,376.3 L1457.5,376.1 L1460.5,375.8 L1463.5,375.6 L1466.5,375.3 L1469.5,375.0 L1472.5,374.7 L1475.5,374.3 L1478.5,374.0 L1481.4,373.6 L1484.4,373.1 L1487.4,372.6 L1490.3,372.1 L1493.3,371.4 L1496.2,370.7 L1499.1,369.9 L1501.9,369.0 L1504.8,367.9 L1507.5,366.7 L1510.1,365.3 L1512.6,363.7 L1515.0,361.8 L1517.3,359.9 L1519.4,357.8 L1521.5,355.6 L1523.5,353.3 L1525.4,351.0 L1527.2,348.6 L1529.0,346.3 L1530.8,343.8 L1532.6,341.4 L1534.4,339.0 L1536.1,336.5 L1537.9,334.1 L1539.6,331.6 L1541.4,329.2 L1543.2,326.8 L1545.0,324.4 L1546.8,322.0 L1548.6,319.6 L1550.5,317.2 L1552.3,314.8 L1554.1,312.4 L1555.9,310.0 L1557.7,307.6 L1559.4,305.2 L1561.1,302.7 L1562.8,300.2 L1564.5,297.7 L1566.1,295.1 L1567.6,292.6 L1569.1,290.0 L1570.6,287.4 L1572.0,284.7 L1573.4,282.1 L1574.8,279.4 L1576.2,276.7 L1577.5,274.0 L1578.8,271.3 L1580.1,268.6 L1581.4,265.9 L1582.6,263.1 L1583.8,260.4 L1585.1,257.6 L1586.3,254.9 L1587.5,252.1 L1588.7,249.4 L1589.8,246.6 L1591.0,243.8 L1592.2,241.1 L1593.3,238.3 L1594.4,235.5 L1595.5,232.7 L1596.6,229.9 L1597.6,227.1 L1598.7,224.2 L1599.7,221.4 L1600.7,218.6 L1601.7,215.7 L1602.7,212.9 L1603.7,210.1 L1604.7,207.2 L1605.6,204.4 L1606.6,201.6 L1607.6,198.7 L1608.6,195.9 L1609.7,193.1 L1610.7,190.2 L1611.7,187.4 L1612.8,184.6 L1613.9,181.8 L1615.0,179.0 L1616.2,176.2 L1617.3,173.5 L1618.5,170.7 L1619.6,167.9 L1620.7,165.1 L1621.9,162.3 L1623.0,159.6 L1624.2,156.8 L1625.4,154.0 L1626.6,151.3 L1627.8,148.5 L1629.0,145.8 L1630.3,143.1 L1631.6,140.4 L1633.0,137.7 L1634.4,135.0 L1635.9,132.4 L1637.4,129.8 L1639.0,127.3 L1640.7,124.8 L1642.5,122.4 L1644.3,120.0 L1646.2,117.7 L1648.2,115.4 L1650.2,113.2 L1652.3,111.1 L1654.5,109.0 L1656.7,107.0 L1659.1,105.1 L1661.5,103.3 L1663.9,101.6 L1666.5,100.0 L1669.1,98.5 L1671.8,97.2 L1674.6,96.0 L1677.4,95.0 L1680.2,94.1 L1683.1,93.3 L1686.1,92.6 L1689.0,92.0 L1692.0,91.5 L1694.9,91.2 L1697.9,91.0 L1700.9,90.8 L1704.0,90.8 L1707.0,90.8 L1710.0,90.8 L1713.0,90.8 L1716.0,90.9 L1719.0,90.9 L1722.0,91.0 L1725.0,91.0 L1728.0,91.0 L1731.0,91.0" fill="none" stroke="#1a1a1a" stroke-width="4.20" stroke-linejoin="round" stroke-linecap="butt"/>
<path d="M1077.0,378.0 L1079.9,377.2 L1082.8,376.4 L1085.7,375.7 L1088.6,374.9 L1091.5,374.1 L1094.4,373.4 L1097.3,372.6 L1100.2,371.9 L1103.1,371.1 L1106.0,370.3 L1108.9,369.6 L1111.8,368.8 L1114.7,368.0 L1117.6,367.2 L1120.5,366.4 L1123.4,365.5 L1126.3,364.7 L1129.2,363.9 L1132.1,363.0 L1134.9,362.1 L1137.8,361.3 L1140.7,360.4 L1143.6,359.5 L1146.4,358.7 L1149.3,357.8 L1152.2,356.9 L1155.0,355.9 L1157.9,355.0 L1160.7,354.0 L1163.5,353.0 L1166.4,351.9 L1169.2,350.8 L1171.9,349.7 L1174.7,348.5 L1177.4,347.3 L1180.2,346.0 L1182.9,344.7 L1185.5,343.3 L1188.2,341.9 L1190.9,340.5 L1193.5,339.1 L1196.1,337.7 L1198.8,336.2 L1201.4,334.8 L1204.0,333.3 L1206.6,331.8 L1209.2,330.3 L1211.8,328.8 L1214.4,327.3 L1217.1,325.8 L1219.6,324.3 L1222.2,322.8 L1224.8,321.2 L1227.3,319.5 L1229.8,317.9 L1232.4,316.3 L1234.9,314.7 L1237.5,313.2 L1240.1,311.7 L1242.8,310.4 L1245.5,309.1 L1248.3,307.9 L1251.1,306.9 L1253.9,305.8 L1256.8,304.9 L1259.6,304.1 L1262.5,303.3 L1265.5,302.6 L1268.4,302.0 L1271.4,301.5 L1274.3,301.1 L1277.3,300.7 L1280.3,300.5 L1283.3,300.3 L1286.3,300.2 L1289.3,300.1 L1292.3,300.1 L1295.3,300.2 L1298.3,300.2 L1301.3,300.3 L1304.3,300.4 L1307.3,300.6 L1310.3,300.7 L1313.3,300.8 L1316.3,300.9 L1319.3,301.1 L1322.3,301.3 L1325.3,301.4 L1328.3,301.7 L1331.3,301.9 L1334.3,302.2 L1337.3,302.4 L1340.3,302.7 L1343.3,303.0 L1346.3,303.2 L1349.3,303.4 L1352.3,303.7 L1355.3,303.9 L1358.3,304.1 L1361.3,304.4 L1364.3,304.6 L1367.2,304.8 L1370.2,305.0 L1373.2,305.2 L1376.2,305.3 L1379.2,305.4 L1382.3,305.5 L1385.3,305.5 L1388.3,305.5 L1391.3,305.4 L1394.3,305.3 L1397.3,305.2 L1400.3,305.1 L1403.3,305.0 L1406.3,304.8 L1409.3,304.7 L1412.3,304.5 L1415.3,304.3 L1418.3,304.1 L1421.3,303.9 L1424.3,303.7 L1427.3,303.5 L1430.2,303.2 L1433.2,303.0 L1436.2,302.8 L1439.2,302.5 L1442.2,302.3 L1445.2,302.0 L1448.2,301.7 L1451.2,301.5 L1454.2,301.2 L1457.2,300.9 L1460.2,300.6 L1463.2,300.3 L1466.2,300.0 L1469.1,299.7 L1472.1,299.4 L1475.1,299.1 L1478.1,298.8 L1481.1,298.6 L1484.1,298.3 L1487.1,298.1 L1490.1,297.8 L1493.1,297.6 L1496.1,297.3 L1499.1,297.1 L1502.1,296.8 L1505.0,296.5 L1508.0,296.1 L1511.0,295.7 L1514.0,295.3 L1516.9,294.8 L1519.9,294.2 L1522.8,293.6 L1525.7,292.8 L1528.6,292.0 L1531.4,290.9 L1534.2,289.8 L1536.8,288.4 L1539.4,286.9 L1542.0,285.3 L1544.4,283.5 L1546.7,281.7 L1549.1,279.7 L1551.3,277.8 L1553.6,275.8 L1555.9,273.8 L1558.1,271.9 L1560.4,269.9 L1562.6,267.9 L1564.8,265.8 L1567.0,263.7 L1569.1,261.6 L1571.2,259.5 L1573.3,257.3 L1575.3,255.0 L1577.2,252.8 L1579.1,250.4 L1581.0,248.1 L1582.8,245.7 L1584.5,243.2 L1586.2,240.7 L1587.8,238.2 L1589.4,235.7 L1591.0,233.1 L1592.5,230.5 L1594.0,227.9 L1595.4,225.2 L1596.8,222.6 L1598.2,219.9 L1599.5,217.2 L1600.9,214.5 L1602.1,211.8 L1603.3,209.1 L1604.5,206.3 L1605.6,203.5 L1606.7,200.7 L1607.8,197.9 L1608.9,195.1 L1609.9,192.3 L1611.0,189.5 L1612.1,186.7 L1613.2,183.9 L1614.3,181.1 L1615.4,178.3 L1616.6,175.5 L1617.8,172.8 L1618.9,170.0 L1620.0,167.2 L1621.2,164.4 L1622.3,161.7 L1623.4,158.9 L1624.6,156.1 L1625.7,153.3 L1626.9,150.6 L1628.1,147.8 L1629.3,145.1 L1630.6,142.3 L1631.9,139.6 L1633.3,137.0 L1634.8,134.3 L1636.3,131.7 L1637.8,129.2 L1639.4,126.6 L1641.0,124.1 L1642.7,121.6 L1644.6,119.2 L1646.5,116.9 L1648.5,114.7 L1650.7,112.6 L1652.9,110.7 L1655.3,108.8 L1657.7,107.0 L1660.1,105.3 L1662.7,103.7 L1665.2,102.1 L1667.8,100.6 L1670.5,99.2 L1673.2,97.9 L1675.9,96.6 L1678.7,95.4 L1681.5,94.3 L1684.3,93.4 L1687.2,92.5 L1690.1,91.8 L1693.0,91.2 L1696.0,90.8 L1699.0,90.5 L1702.0,90.4 L1705.0,90.3 L1708.0,90.3 L1711.0,90.4 L1714.0,90.5 L1717.0,90.7 L1720.0,90.8 L1723.0,90.9 L1726.0,91.0 L1729.0,91.0 L1731.0,91.0" fill="none" stroke="#9d3fb8" stroke-width="4.20" stroke-linejoin="round" stroke-linecap="butt"/>
<path d="M1077.0,376.5 L1079.9,375.7 L1082.8,374.9 L1085.7,374.2 L1088.6,373.4 L1091.5,372.6 L1094.4,371.9 L1097.3,371.1 L1100.3,370.4 L1103.2,369.6 L1106.1,368.8 L1109.0,368.0 L1111.9,367.3 L1114.8,366.5 L1117.7,365.7 L1120.6,364.9 L1123.5,364.0 L1126.4,363.2 L1129.2,362.3 L1132.1,361.5 L1135.0,360.6 L1137.9,359.8 L1140.8,358.9 L1143.6,358.0 L1146.5,357.2 L1149.4,356.3 L1152.3,355.4 L1155.1,354.4 L1158.0,353.5 L1160.8,352.5 L1163.6,351.5 L1166.4,350.4 L1169.2,349.3 L1172.0,348.1 L1174.8,346.9 L1177.5,345.7 L1180.2,344.4 L1182.9,343.1 L1185.6,341.7 L1188.3,340.3 L1190.9,338.9 L1193.5,337.4 L1196.2,336.0 L1198.8,334.5 L1201.4,333.0 L1204.0,331.5 L1206.6,330.0 L1209.2,328.4 L1211.8,326.9 L1214.4,325.4 L1217.0,323.9 L1219.6,322.3 L1222.1,320.8 L1224.6,319.1 L1227.2,317.5 L1229.7,315.8 L1232.2,314.2 L1234.7,312.6 L1237.3,311.0 L1239.9,309.5 L1242.5,308.1 L1245.2,306.7 L1248.0,305.5 L1250.7,304.3 L1253.5,303.2 L1256.3,302.2 L1259.2,301.2 L1262.1,300.3 L1265.0,299.5 L1267.9,298.8 L1270.8,298.2 L1273.8,297.7 L1276.7,297.2 L1279.7,296.8 L1282.7,296.5 L1285.7,296.3 L1288.7,296.2 L1291.7,296.1 L1294.7,296.0 L1297.7,296.0 L1300.7,296.0 L1303.8,296.0 L1306.8,296.1 L1309.8,296.2 L1312.8,296.3 L1315.8,296.4 L1318.8,296.6 L1321.8,296.8 L1324.8,297.1 L1327.8,297.4 L1330.7,297.8 L1333.7,298.3 L1336.7,298.7 L1339.7,299.1 L1342.6,299.6 L1345.6,300.0 L1348.6,300.3 L1351.6,300.7 L1354.6,301.0 L1357.6,301.4 L1360.5,301.7 L1363.5,302.0 L1366.5,302.4 L1369.5,302.6 L1372.5,302.9 L1375.5,303.1 L1378.5,303.3 L1381.5,303.4 L1384.5,303.5 L1387.5,303.5 L1390.5,303.5 L1393.5,303.4 L1396.6,303.3 L1399.6,303.2 L1402.6,303.1 L1405.6,303.0 L1408.6,302.8 L1411.6,302.6 L1414.6,302.4 L1417.6,302.2 L1420.6,302.0 L1423.6,301.8 L1426.6,301.6 L1429.6,301.4 L1432.6,301.1 L1435.6,300.9 L1438.6,300.6 L1441.6,300.3 L1444.5,300.1 L1447.5,299.8 L1450.5,299.5 L1453.5,299.2 L1456.5,298.9 L1459.5,298.6 L1462.5,298.4 L1465.5,298.1 L1468.5,297.8 L1471.5,297.5 L1474.5,297.2 L1477.5,296.9 L1480.5,296.7 L1483.5,296.4 L1486.5,296.2 L1489.5,296.0 L1492.5,295.8 L1495.5,295.6 L1498.5,295.3 L1501.5,295.1 L1504.5,294.8 L1507.4,294.5 L1510.4,294.1 L1513.4,293.7 L1516.4,293.3 L1519.3,292.8 L1522.3,292.2 L1525.2,291.4 L1528.1,290.6 L1530.9,289.6 L1533.7,288.5 L1536.4,287.2 L1539.0,285.7 L1541.5,284.1 L1544.0,282.3 L1546.4,280.5 L1548.7,278.6 L1551.0,276.6 L1553.2,274.6 L1555.5,272.7 L1557.8,270.7 L1560.0,268.7 L1562.3,266.7 L1564.5,264.7 L1566.6,262.6 L1568.8,260.5 L1570.9,258.3 L1572.9,256.1 L1574.9,253.9 L1576.9,251.6 L1578.8,249.3 L1580.7,246.9 L1582.5,244.5 L1584.3,242.1 L1586.0,239.6 L1587.6,237.1 L1589.3,234.6 L1590.8,232.0 L1592.4,229.5 L1593.9,226.8 L1595.3,224.2 L1596.8,221.6 L1598.2,218.9 L1599.6,216.2 L1600.9,213.5 L1602.1,210.8 L1603.4,208.1 L1604.5,205.3 L1605.7,202.5 L1606.8,199.7 L1607.9,196.9 L1609.0,194.1 L1610.1,191.3 L1611.2,188.5 L1612.2,185.7 L1613.4,182.9 L1614.5,180.1 L1615.6,177.4 L1616.8,174.6 L1618.0,171.8 L1619.1,169.0 L1620.2,166.3 L1621.4,163.5 L1622.5,160.7 L1623.6,157.9 L1624.8,155.1 L1626.0,152.3 L1627.1,149.6 L1628.3,146.8 L1629.6,144.1 L1630.9,141.4 L1632.2,138.7 L1633.6,136.0 L1635.1,133.4 L1636.6,130.8 L1638.2,128.2 L1639.8,125.7 L1641.4,123.2 L1643.2,120.7 L1645.0,118.4 L1647.0,116.1 L1649.1,113.9 L1651.3,111.9 L1653.6,109.9 L1655.9,108.1 L1658.4,106.3 L1660.9,104.7 L1663.4,103.1 L1666.0,101.5 L1668.6,100.1 L1671.3,98.7 L1674.0,97.4 L1676.7,96.2 L1679.5,95.0 L1682.3,94.0 L1685.2,93.1 L1688.1,92.2 L1691.0,91.6 L1694.0,91.0 L1697.0,90.7 L1699.9,90.5 L1703.0,90.3 L1706.0,90.3 L1709.0,90.4 L1712.0,90.5 L1715.0,90.6 L1718.0,90.7 L1721.0,90.8 L1724.0,90.9 L1727.0,91.0 L1730.0,91.0 L1731.0,91.0" fill="none" stroke="#e8202a" stroke-width="4.20" stroke-linejoin="round" stroke-linecap="butt"/>
<path d="M1077.0,362.4 L1079.9,361.5 L1082.7,360.6 L1085.6,359.8 L1088.5,358.9 L1091.4,358.1 L1094.3,357.2 L1097.2,356.4 L1100.1,355.6 L1103.0,354.7 L1105.8,353.9 L1108.7,353.0 L1111.6,352.1 L1114.5,351.2 L1117.3,350.2 L1120.1,349.2 L1123.0,348.2 L1125.7,347.1 L1128.5,345.9 L1131.3,344.7 L1134.0,343.4 L1136.7,342.1 L1139.4,340.7 L1142.1,339.4 L1144.7,337.9 L1147.3,336.5 L1150.0,335.0 L1152.6,333.5 L1155.1,331.9 L1157.7,330.3 L1160.2,328.7 L1162.7,327.0 L1165.2,325.4 L1167.7,323.6 L1170.1,321.8 L1172.5,320.0 L1174.8,318.2 L1177.1,316.2 L1179.4,314.2 L1181.6,312.2 L1183.8,310.1 L1185.9,308.0 L1187.9,305.8 L1190.0,303.6 L1192.0,301.4 L1194.1,299.2 L1196.1,297.0 L1198.2,294.8 L1200.3,292.6 L1202.4,290.4 L1204.5,288.3 L1206.6,286.1 L1208.6,284.0 L1210.7,281.8 L1212.8,279.6 L1214.9,277.4 L1216.9,275.3 L1219.0,273.1 L1221.1,271.0 L1223.3,268.8 L1225.5,266.8 L1227.7,264.7 L1229.9,262.7 L1232.2,260.8 L1234.5,258.9 L1236.9,257.0 L1239.2,255.1 L1241.6,253.3 L1244.0,251.5 L1246.4,249.7 L1248.9,248.0 L1251.4,246.4 L1254.0,244.8 L1256.6,243.3 L1259.3,241.9 L1262.0,240.6 L1264.7,239.4 L1267.5,238.2 L1270.3,237.2 L1273.2,236.2 L1276.1,235.3 L1279.0,234.6 L1281.9,233.9 L1284.8,233.4 L1287.8,233.0 L1290.8,232.7 L1293.8,232.7 L1296.8,232.7 L1299.8,232.9 L1302.8,233.3 L1305.8,233.7 L1308.8,234.1 L1311.7,234.7 L1314.7,235.2 L1317.6,235.7 L1320.6,236.3 L1323.5,237.0 L1326.4,237.8 L1329.3,238.5 L1332.2,239.4 L1335.1,240.2 L1338.0,241.0 L1340.9,241.8 L1343.8,242.5 L1346.7,243.2 L1349.7,243.8 L1352.7,244.4 L1355.6,244.9 L1358.6,245.3 L1361.6,245.8 L1364.5,246.2 L1367.5,246.5 L1370.5,246.8 L1373.5,247.1 L1376.5,247.3 L1379.5,247.4 L1382.5,247.5 L1385.5,247.5 L1388.5,247.4 L1391.6,247.4 L1394.6,247.2 L1397.6,247.0 L1400.6,246.8 L1403.6,246.6 L1406.6,246.3 L1409.5,246.1 L1412.5,245.8 L1415.5,245.4 L1418.5,245.1 L1421.5,244.8 L1424.5,244.4 L1427.5,244.0 L1430.5,243.6 L1433.4,243.2 L1436.4,242.8 L1439.4,242.4 L1442.4,242.0 L1445.4,241.6 L1448.3,241.2 L1451.3,240.7 L1454.3,240.3 L1457.3,239.8 L1460.2,239.4 L1463.2,239.0 L1466.2,238.5 L1469.2,238.1 L1472.1,237.6 L1475.1,237.2 L1478.1,236.8 L1481.1,236.3 L1484.0,235.9 L1487.0,235.4 L1490.0,235.0 L1493.0,234.5 L1495.9,234.1 L1498.9,233.6 L1501.9,233.1 L1504.8,232.6 L1507.8,232.1 L1510.8,231.6 L1513.7,231.1 L1516.7,230.6 L1519.6,230.0 L1522.6,229.4 L1525.5,228.8 L1528.5,228.2 L1531.4,227.6 L1534.4,226.9 L1537.3,226.2 L1540.2,225.4 L1543.1,224.6 L1546.0,223.8 L1548.9,223.0 L1551.8,222.1 L1554.6,221.3 L1557.5,220.4 L1560.4,219.5 L1563.2,218.5 L1566.0,217.4 L1568.8,216.2 L1571.5,214.9 L1574.2,213.5 L1576.8,212.0 L1579.2,210.4 L1581.6,208.5 L1583.9,206.6 L1586.1,204.5 L1588.2,202.3 L1590.1,200.1 L1592.0,197.8 L1593.9,195.4 L1595.7,193.0 L1597.4,190.5 L1599.1,188.0 L1600.8,185.6 L1602.6,183.1 L1604.3,180.6 L1605.9,178.1 L1607.5,175.6 L1609.1,173.0 L1610.6,170.4 L1612.1,167.8 L1613.6,165.2 L1615.0,162.5 L1616.5,159.9 L1617.9,157.3 L1619.4,154.7 L1621.0,152.1 L1622.5,149.5 L1624.0,146.9 L1625.5,144.3 L1627.0,141.7 L1628.5,139.1 L1630.0,136.5 L1631.6,133.9 L1633.2,131.3 L1634.8,128.8 L1636.6,126.4 L1638.4,124.0 L1640.3,121.7 L1642.3,119.5 L1644.4,117.3 L1646.5,115.1 L1648.7,113.1 L1651.0,111.1 L1653.2,109.1 L1655.6,107.3 L1658.0,105.4 L1660.5,103.7 L1663.0,102.1 L1665.6,100.5 L1668.2,99.1 L1670.9,97.8 L1673.6,96.5 L1676.4,95.4 L1679.3,94.5 L1682.1,93.6 L1685.1,92.8 L1688.0,92.2 L1691.0,91.7 L1693.9,91.3 L1696.9,91.0 L1699.9,90.9 L1702.9,90.8 L1705.9,90.8 L1708.9,90.8 L1712.0,90.8 L1715.0,90.9 L1718.0,90.9 L1721.0,91.0 L1724.0,91.0 L1727.0,91.0 L1730.0,91.0 L1731.0,91.0" fill="none" stroke="#2bb5ea" stroke-width="4.20" stroke-linejoin="round" stroke-linecap="butt"/>
<path d="M1077.0,339.4 L1079.8,338.2 L1082.5,337.0 L1085.3,335.8 L1088.1,334.7 L1090.8,333.5 L1093.6,332.3 L1096.4,331.1 L1099.1,330.0 L1101.9,328.8 L1104.7,327.6 L1107.4,326.4 L1110.2,325.3 L1112.9,324.1 L1115.7,322.9 L1118.5,321.7 L1121.2,320.5 L1123.9,319.2 L1126.7,318.0 L1129.4,316.7 L1132.1,315.5 L1134.9,314.2 L1137.6,313.0 L1140.3,311.7 L1143.0,310.4 L1145.7,309.1 L1148.4,307.8 L1151.1,306.4 L1153.8,305.0 L1156.4,303.5 L1159.0,302.0 L1161.6,300.4 L1164.1,298.8 L1166.6,297.2 L1169.1,295.5 L1171.6,293.8 L1174.0,292.1 L1176.5,290.3 L1178.9,288.6 L1181.3,286.8 L1183.7,285.0 L1186.1,283.2 L1188.5,281.4 L1190.9,279.6 L1193.3,277.7 L1195.7,275.9 L1198.0,274.0 L1200.4,272.1 L1202.7,270.2 L1205.0,268.3 L1207.3,266.4 L1209.7,264.5 L1212.0,262.6 L1214.3,260.7 L1216.7,258.8 L1219.0,256.9 L1221.3,255.0 L1223.6,253.0 L1225.9,251.1 L1228.2,249.1 L1230.4,247.1 L1232.7,245.2 L1235.1,243.3 L1237.4,241.5 L1239.8,239.7 L1242.3,237.9 L1244.8,236.3 L1247.3,234.7 L1249.9,233.2 L1252.6,231.7 L1255.2,230.3 L1257.9,228.9 L1260.6,227.7 L1263.4,226.5 L1266.2,225.4 L1269.0,224.4 L1271.9,223.5 L1274.8,222.7 L1277.7,222.0 L1280.6,221.3 L1283.6,220.8 L1286.5,220.3 L1289.5,220.0 L1292.5,219.6 L1295.5,219.3 L1298.5,219.1 L1301.5,218.9 L1304.5,218.7 L1307.5,218.6 L1310.5,218.5 L1313.5,218.5 L1316.5,218.4 L1319.5,218.5 L1322.5,218.6 L1325.5,218.8 L1328.5,219.0 L1331.5,219.3 L1334.5,219.7 L1337.5,220.1 L1340.4,220.5 L1343.4,220.8 L1346.4,221.2 L1349.4,221.4 L1352.4,221.7 L1355.4,222.0 L1358.4,222.3 L1361.4,222.6 L1364.4,222.9 L1367.4,223.2 L1370.3,223.5 L1373.3,223.7 L1376.3,224.0 L1379.3,224.2 L1382.3,224.4 L1385.3,224.5 L1388.3,224.6 L1391.3,224.6 L1394.4,224.6 L1397.4,224.5 L1400.4,224.4 L1403.4,224.2 L1406.3,223.9 L1409.3,223.6 L1412.3,223.3 L1415.3,222.9 L1418.3,222.5 L1421.3,222.1 L1424.2,221.6 L1427.2,221.2 L1430.2,220.7 L1433.1,220.2 L1436.1,219.6 L1439.0,219.1 L1442.0,218.6 L1445.0,218.1 L1447.9,217.5 L1450.9,217.0 L1453.8,216.5 L1456.8,215.9 L1459.8,215.4 L1462.7,214.9 L1465.7,214.4 L1468.7,214.0 L1471.6,213.5 L1474.6,213.1 L1477.6,212.6 L1480.6,212.2 L1483.5,211.8 L1486.5,211.4 L1489.5,211.0 L1492.5,210.6 L1495.4,210.2 L1498.4,209.8 L1501.4,209.4 L1504.4,209.0 L1507.4,208.6 L1510.3,208.2 L1513.3,207.8 L1516.3,207.4 L1519.3,206.9 L1522.2,206.5 L1525.2,206.0 L1528.2,205.6 L1531.1,205.1 L1534.1,204.6 L1537.1,204.1 L1540.0,203.5 L1543.0,202.9 L1545.9,202.3 L1548.9,201.7 L1551.8,201.2 L1554.8,200.6 L1557.7,200.0 L1560.6,199.4 L1563.6,198.7 L1566.5,198.0 L1569.4,197.1 L1572.2,196.2 L1575.1,195.2 L1577.8,194.0 L1580.5,192.7 L1583.1,191.2 L1585.7,189.7 L1588.2,188.0 L1590.6,186.2 L1592.9,184.3 L1595.2,182.3 L1597.4,180.3 L1599.6,178.2 L1601.7,176.1 L1603.8,173.9 L1605.7,171.6 L1607.6,169.3 L1609.5,166.9 L1611.2,164.5 L1612.9,162.0 L1614.5,159.5 L1616.1,156.9 L1617.8,154.4 L1619.4,151.9 L1621.1,149.4 L1622.7,146.9 L1624.3,144.3 L1625.9,141.8 L1627.4,139.2 L1629.0,136.6 L1630.6,134.1 L1632.2,131.5 L1633.8,129.0 L1635.5,126.5 L1637.3,124.1 L1639.2,121.8 L1641.2,119.6 L1643.3,117.4 L1645.5,115.3 L1647.7,113.3 L1650.0,111.3 L1652.3,109.4 L1654.7,107.6 L1657.1,105.8 L1659.6,104.2 L1662.1,102.6 L1664.7,101.0 L1667.4,99.6 L1670.0,98.2 L1672.8,97.0 L1675.5,95.8 L1678.4,94.8 L1681.2,93.9 L1684.1,93.1 L1687.0,92.4 L1690.0,91.8 L1693.0,91.4 L1696.0,91.1 L1698.9,90.9 L1702.0,90.8 L1705.0,90.8 L1708.0,90.8 L1711.0,90.8 L1714.0,90.8 L1717.0,90.9 L1720.0,91.0 L1723.0,91.0 L1726.0,91.0 L1729.0,91.0 L1731.0,91.0" fill="none" stroke="#1fae5f" stroke-width="4.20" stroke-linejoin="round" stroke-linecap="butt"/>
<line x1="1064.00" y1="91.00" x2="1735.00" y2="91.00" stroke="#1e1e1e" stroke-width="7.00"/>
<text transform="matrix(0.47419 0 0 0.48587 969.23 105.31)" font-size="100" fill="#3a3a3a">1.8</text>
<text transform="matrix(0.46490 0 0 0.44786 969.31 190.37)" font-size="100" fill="#3a3a3a">1.4</text>
<text transform="matrix(0.47419 0 0 0.44464 969.23 276.77)" font-size="100" fill="#3a3a3a">1.0</text>
<text transform="matrix(0.45088 0 0 0.48734 971.68 364.61)" font-size="100" fill="#3a3a3a">0.6</text>
<text transform="matrix(0.46078 0 0 0.44611 971.65 446.77)" font-size="100" fill="#3a3a3a">0.2</text>
<text transform="matrix(0.48529 0 0 0.50866 1043.83 515.98)" font-size="100" fill="#3a3a3a">1.5</text>
<text transform="matrix(0.46577 0 0 0.50501 1187.25 515.98)" font-size="100" fill="#3a3a3a">2.0</text>
<text transform="matrix(0.46701 0 0 0.50719 1330.35 515.98)" font-size="100" fill="#3a3a3a">2.5</text>
<text transform="matrix(0.46733 0 0 0.50501 1473.36 515.98)" font-size="100" fill="#3a3a3a">3.0</text>
<text transform="matrix(0.46772 0 0 0.50719 1614.46 515.98)" font-size="100" fill="#3a3a3a">3.5</text>
<text transform="matrix(0.49795 0 0 0.44192 1238.27 563.46)" font-size="100" fill="#3a3a3a">Photon energy (eV)</text>
<text transform="matrix(0 -0.52090 0.45527 0 950.81 356.69)" font-size="100" fill="#3a3a3a">(<tspan font-style="italic">Ahν</tspan>)<tspan font-size="60.00" dy="-42.00">1/2</tspan></text>
<line x1="225.00" y1="1161.50" x2="1766.00" y2="1161.50" stroke="#c8c8c8" stroke-width="12.00"/>
<line x1="225.00" y1="1161.50" x2="1766.00" y2="1161.50" stroke="#1e1e1e" stroke-width="4.00"/>
<line x1="209.00" y1="1992.50" x2="1766.00" y2="1992.50" stroke="#c8c8c8" stroke-width="12.00"/>
<line x1="209.00" y1="1992.50" x2="1766.00" y2="1992.50" stroke="#1e1e1e" stroke-width="4.00"/>
<line x1="227.00" y1="1156.00" x2="227.00" y2="2013.00" stroke="#111111" stroke-width="4.00"/>
<line x1="231.00" y1="1156.00" x2="231.00" y2="2013.00" stroke="#cfcfcf" stroke-width="4.00"/>
<line x1="1760.50" y1="1156.00" x2="1760.50" y2="1998.00" stroke="#222222" stroke-width="4.00"/>
<line x1="1764.50" y1="1156.00" x2="1764.50" y2="1998.00" stroke="#c8c8c8" stroke-width="4.00"/>
<line x1="209.00" y1="1864.30" x2="226.00" y2="1864.30" stroke="#dcdcdc" stroke-width="12.00"/>
<line x1="209.00" y1="1864.30" x2="226.00" y2="1864.30" stroke="#1e1e1e" stroke-width="4.00"/>
<line x1="209.00" y1="1736.40" x2="226.00" y2="1736.40" stroke="#dcdcdc" stroke-width="12.00"/>
<line x1="209.00" y1="1736.40" x2="226.00" y2="1736.40" stroke="#1e1e1e" stroke-width="4.00"/>
<line x1="209.00" y1="1608.50" x2="226.00" y2="1608.50" stroke="#dcdcdc" stroke-width="12.00"/>
<line x1="209.00" y1="1608.50" x2="226.00" y2="1608.50" stroke="#1e1e1e" stroke-width="4.00"/>
<line x1="209.00" y1="1480.60" x2="226.00" y2="1480.60" stroke="#dcdcdc" stroke-width="12.00"/>
<line x1="209.00" y1="1480.60" x2="226.00" y2="1480.60" stroke="#1e1e1e" stroke-width="4.00"/>
<line x1="209.00" y1="1352.70" x2="226.00" y2="1352.70" stroke="#dcdcdc" stroke-width="12.00"/>
<line x1="209.00" y1="1352.70" x2="226.00" y2="1352.70" stroke="#1e1e1e" stroke-width="4.00"/>
<line x1="209.00" y1="1224.80" x2="226.00" y2="1224.80" stroke="#dcdcdc" stroke-width="12.00"/>
<line x1="209.00" y1="1224.80" x2="226.00" y2="1224.80" stroke="#1e1e1e" stroke-width="4.00"/>
<line x1="209.00" y1="1992.20" x2="226.00" y2="1992.20" stroke="#dcdcdc" stroke-width="12.00"/>
<line x1="209.00" y1="1992.20" x2="226.00" y2="1992.20" stroke="#1e1e1e" stroke-width="4.00"/>
<line x1="516.30" y1="1992.50" x2="516.30" y2="2011.00" stroke="#dcdcdc" stroke-width="12.00"/>
<line x1="516.30" y1="1992.50" x2="516.30" y2="2011.00" stroke="#1e1e1e" stroke-width="4.00"/>
<line x1="805.60" y1="1992.50" x2="805.60" y2="2011.00" stroke="#dcdcdc" stroke-width="12.00"/>
<line x1="805.60" y1="1992.50" x2="805.60" y2="2011.00" stroke="#1e1e1e" stroke-width="4.00"/>
<line x1="1094.90" y1="1992.50" x2="1094.90" y2="2011.00" stroke="#dcdcdc" stroke-width="12.00"/>
<line x1="1094.90" y1="1992.50" x2="1094.90" y2="2011.00" stroke="#1e1e1e" stroke-width="4.00"/>
<line x1="1384.20" y1="1992.50" x2="1384.20" y2="2011.00" stroke="#dcdcdc" stroke-width="12.00"/>
<line x1="1384.20" y1="1992.50" x2="1384.20" y2="2011.00" stroke="#1e1e1e" stroke-width="4.00"/>
<line x1="1673.50" y1="1992.50" x2="1673.50" y2="2011.00" stroke="#dcdcdc" stroke-width="12.00"/>
<line x1="1673.50" y1="1992.50" x2="1673.50" y2="2011.00" stroke="#1e1e1e" stroke-width="4.00"/>
<line x1="227.00" y1="1992.50" x2="227.00" y2="2011.00" stroke="#1e1e1e" stroke-width="4.00"/>
<path d="M229.5,1412.7 L232.5,1412.8 L235.5,1412.8 L238.5,1412.8 L241.5,1412.8 L244.5,1412.9 L247.5,1413.0 L250.5,1413.1 L253.5,1413.3 L256.5,1413.6 L259.5,1413.9 L262.4,1414.4 L265.4,1415.0 L268.3,1415.7 L271.2,1416.5 L274.0,1417.4 L276.8,1418.5 L279.5,1419.8 L282.1,1421.3 L284.7,1422.9 L287.1,1424.6 L289.4,1426.5 L291.6,1428.5 L293.8,1430.7 L295.8,1432.9 L297.7,1435.2 L299.4,1437.6 L301.0,1440.2 L302.4,1442.8 L303.6,1445.6 L304.8,1448.3 L305.9,1451.1 L306.9,1453.9 L307.8,1456.8 L308.8,1459.6 L309.7,1462.5 L310.7,1465.3 L311.6,1468.2 L312.6,1471.0 L313.6,1473.9 L314.6,1476.7 L315.5,1479.5 L316.6,1482.4 L317.6,1485.2 L318.6,1488.0 L319.6,1490.9 L320.6,1493.7 L321.7,1496.5 L322.8,1499.3 L323.9,1502.0 L325.1,1504.8 L326.2,1507.6 L327.4,1510.4 L328.5,1513.2 L329.5,1516.0 L330.4,1518.8 L331.2,1521.7 L332.1,1524.6 L332.8,1527.5 L333.6,1530.4 L334.4,1533.3 L335.1,1536.2 L335.8,1539.1 L336.5,1542.1 L337.2,1545.0 L337.9,1547.9 L338.6,1550.8 L339.3,1553.7 L340.0,1556.7 L340.7,1559.6 L341.4,1562.5 L342.0,1565.4 L342.7,1568.4 L343.2,1571.3 L343.8,1574.3 L344.3,1577.2 L344.9,1580.2 L345.5,1583.1 L346.2,1586.0 L347.0,1588.9 L347.7,1591.8 L348.5,1594.7 L349.2,1597.6 L350.0,1600.5 L350.7,1603.5 L351.4,1606.4 L352.1,1609.3 L352.8,1612.2 L353.4,1615.2 L354.1,1618.1 L354.8,1621.0 L355.4,1623.9 L356.1,1626.9 L356.8,1629.8 L357.4,1632.7 L358.1,1635.7 L358.7,1638.6 L359.4,1641.5 L360.0,1644.5 L360.6,1647.4 L361.1,1650.3 L361.7,1653.3 L362.2,1656.3 L362.7,1659.2 L363.3,1662.2 L363.8,1665.1 L364.3,1668.1 L364.9,1671.0 L365.5,1674.0 L366.1,1676.9 L366.7,1679.8 L367.3,1682.8 L367.9,1685.7 L368.5,1688.7 L369.2,1691.6 L369.8,1694.5 L370.5,1697.5 L371.2,1700.4 L371.8,1703.3 L372.5,1706.2 L373.1,1709.2 L373.8,1712.1 L374.4,1715.0 L375.0,1718.0 L375.6,1720.9 L376.1,1723.9 L376.8,1726.8 L377.4,1729.7 L378.0,1732.7 L378.6,1735.6 L379.3,1738.6 L379.9,1741.5 L380.6,1744.4 L381.3,1747.3 L381.9,1750.3 L382.6,1753.2 L383.3,1756.1 L384.1,1759.0 L384.8,1761.9 L385.6,1764.8 L386.3,1767.7 L387.1,1770.6 L387.9,1773.5 L388.7,1776.4 L389.5,1779.3 L390.3,1782.2 L391.1,1785.1 L391.9,1788.0 L392.7,1790.9 L393.6,1793.8 L394.5,1796.6 L395.5,1799.4 L396.6,1802.2 L397.5,1805.1 L398.4,1807.9 L399.3,1810.8 L400.1,1813.7 L400.9,1816.6 L401.8,1819.5 L402.6,1822.3 L403.6,1825.2 L404.6,1828.0 L405.7,1830.8 L407.0,1833.5 L408.4,1836.2 L409.8,1838.8 L411.1,1841.5 L412.5,1844.2 L413.8,1846.9 L415.1,1849.6 L416.5,1852.3 L417.8,1855.0 L419.2,1857.6 L420.6,1860.3 L422.0,1862.9 L423.5,1865.5 L425.0,1868.1 L426.6,1870.7 L428.1,1873.2 L429.7,1875.8 L431.4,1878.3 L433.0,1880.8 L434.8,1883.3 L436.6,1885.7 L438.4,1888.0 L440.3,1890.4 L442.2,1892.7 L444.1,1895.0 L446.1,1897.3 L448.0,1899.5 L450.1,1901.7 L452.2,1903.9 L454.3,1906.0 L456.5,1908.1 L458.6,1910.2 L460.7,1912.3 L462.8,1914.5 L465.0,1916.5 L467.3,1918.5 L469.6,1920.4 L472.0,1922.2 L474.4,1924.0 L476.8,1925.7 L479.3,1927.5 L481.8,1929.2 L484.2,1930.9 L486.7,1932.6 L489.2,1934.2 L491.9,1935.4 L494.8,1936.4 L497.7,1937.1 L500.6,1937.8 L503.5,1938.4 L506.5,1938.9 L509.5,1939.4 L512.4,1939.8 L515.4,1940.2 L518.4,1940.5 L521.4,1940.8 L524.4,1941.0 L527.4,1941.2 L530.4,1941.3 L533.4,1941.4 L536.4,1941.6 L539.4,1941.7 L542.4,1941.8 L545.4,1941.9 L548.4,1942.0 L551.4,1942.1 L554.4,1942.2 L557.4,1942.3 L560.4,1942.4 L563.4,1942.5 L566.4,1942.6 L569.4,1942.6 L572.4,1942.7 L575.4,1942.8 L578.4,1942.9 L581.4,1942.9 L584.4,1943.0 L587.4,1943.1 L590.4,1943.1 L593.4,1943.2 L596.4,1943.3 L599.4,1943.3 L602.4,1943.4 L605.4,1943.4 L608.4,1943.5 L611.4,1943.5 L614.4,1943.6 L617.4,1943.6 L620.4,1943.7 L623.4,1943.7 L626.4,1943.8 L629.4,1943.8 L632.4,1943.9 L635.4,1943.9 L638.4,1943.9 L641.4,1944.0 L644.4,1944.0 L647.4,1944.0 L650.4,1944.1 L653.4,1944.1 L656.4,1944.1 L659.4,1944.2 L662.4,1944.2 L665.4,1944.2 L668.4,1944.2 L671.4,1944.3 L674.4,1944.3 L677.4,1944.3 L680.4,1944.3 L683.4,1944.4 L686.4,1944.4 L689.4,1944.4 L692.4,1944.4 L695.4,1944.4 L698.4,1944.5 L701.4,1944.5 L704.4,1944.5 L707.4,1944.5 L710.4,1944.5 L713.5,1944.5 L716.5,1944.6 L719.5,1944.6 L722.5,1944.6 L725.5,1944.6 L728.5,1944.6 L731.5,1944.6 L734.5,1944.6 L737.5,1944.7 L740.5,1944.7 L743.5,1944.7 L746.5,1944.7 L749.5,1944.7 L752.5,1944.7 L755.5,1944.7 L758.5,1944.7 L761.5,1944.8 L764.5,1944.8 L767.5,1944.8 L770.5,1944.8 L773.5,1944.8 L776.5,1944.8 L779.5,1944.8 L782.5,1944.8 L785.5,1944.8 L788.5,1944.9 L791.5,1944.9 L794.5,1944.9 L797.5,1944.9 L800.5,1944.9 L803.5,1944.9 L806.5,1944.9 L809.5,1944.9 L812.5,1944.9 L815.5,1944.9 L818.5,1944.9 L821.5,1945.0 L824.5,1945.0 L827.5,1945.0 L830.5,1945.0 L833.5,1945.0 L836.5,1945.0 L839.5,1945.0 L842.5,1945.0 L845.5,1945.0 L848.5,1945.0 L851.5,1945.0 L854.5,1945.0 L857.5,1945.0 L860.6,1945.0 L863.6,1945.0 L866.6,1945.0 L869.6,1945.1 L872.6,1945.1 L875.6,1945.1 L878.6,1945.1 L881.6,1945.1 L884.6,1945.1 L887.6,1945.1 L890.6,1945.1 L893.6,1945.1 L896.6,1945.1 L899.6,1945.1 L902.6,1945.1 L905.6,1945.1 L908.6,1945.1 L911.6,1945.1 L914.6,1945.1 L917.6,1945.1 L920.6,1945.1 L923.6,1945.1 L926.6,1945.1 L929.6,1945.1 L932.6,1945.1 L935.6,1945.1 L938.6,1945.1 L941.6,1945.1 L944.6,1945.1 L947.6,1945.1 L950.6,1945.0 L953.6,1945.0 L956.6,1945.0 L959.6,1945.0 L962.6,1945.0 L965.6,1945.0 L968.6,1945.0 L971.6,1945.0 L974.6,1945.0 L977.6,1945.0 L980.6,1945.0 L983.6,1945.0 L986.6,1945.0 L989.6,1945.0 L992.6,1945.0 L995.6,1945.0 L998.6,1945.0 L1001.6,1945.0 L1004.7,1945.0 L1007.7,1945.0 L1010.7,1945.0 L1013.7,1945.0 L1016.7,1945.0 L1019.7,1945.0 L1022.7,1945.0 L1025.7,1944.9 L1028.7,1944.9 L1031.7,1944.9 L1034.7,1944.9 L1037.7,1944.9 L1040.7,1944.9 L1043.7,1944.9 L1046.7,1944.9 L1049.7,1944.9 L1052.7,1944.9 L1055.7,1944.9 L1058.7,1944.9 L1061.7,1944.9 L1064.7,1944.9 L1067.7,1944.9 L1070.7,1944.9 L1073.7,1944.9 L1076.7,1944.8 L1079.7,1944.8 L1082.7,1944.8 L1085.7,1944.8 L1088.7,1944.8 L1091.7,1944.8 L1094.7,1944.8 L1097.7,1944.8 L1100.7,1944.8 L1103.7,1944.8 L1106.7,1944.8 L1109.7,1944.8 L1112.7,1944.8 L1115.7,1944.8 L1118.7,1944.8 L1121.7,1944.8 L1124.7,1944.7 L1127.7,1944.7 L1130.7,1944.7 L1133.7,1944.7 L1136.7,1944.7 L1139.7,1944.7 L1142.7,1944.7 L1145.7,1944.7 L1148.8,1944.7 L1151.8,1944.7 L1154.8,1944.7 L1157.8,1944.7 L1160.8,1944.7 L1163.8,1944.7 L1166.8,1944.7 L1169.8,1944.7 L1172.8,1944.7 L1175.8,1944.6 L1178.8,1944.6 L1181.8,1944.6 L1184.8,1944.6 L1187.8,1944.6 L1190.8,1944.6 L1193.8,1944.6 L1196.8,1944.6 L1199.8,1944.6 L1202.8,1944.6 L1205.8,1944.6 L1208.8,1944.6 L1211.8,1944.6 L1214.8,1944.6 L1217.8,1944.6 L1220.8,1944.6 L1223.8,1944.6 L1226.8,1944.6 L1229.8,1944.6 L1232.8,1944.6 L1235.8,1944.5 L1238.8,1944.5 L1241.8,1944.5 L1244.8,1944.5 L1247.8,1944.5 L1250.8,1944.5 L1253.8,1944.5 L1256.8,1944.5 L1259.8,1944.5 L1262.8,1944.5 L1265.8,1944.5 L1268.8,1944.5 L1271.8,1944.5 L1274.8,1944.5 L1277.8,1944.5 L1280.8,1944.5 L1283.8,1944.5 L1286.8,1944.5 L1289.8,1944.5 L1292.9,1944.5 L1295.9,1944.5 L1298.9,1944.5 L1301.9,1944.5 L1304.9,1944.5 L1307.9,1944.5 L1310.9,1944.5 L1313.9,1944.5 L1316.9,1944.5 L1319.9,1944.5 L1322.9,1944.5 L1325.9,1944.5 L1328.9,1944.5 L1331.9,1944.5 L1334.9,1944.5 L1337.9,1944.5 L1340.9,1944.5 L1343.9,1944.5 L1346.9,1944.5 L1349.9,1944.5 L1352.9,1944.5 L1355.9,1944.5 L1358.9,1944.5 L1361.9,1944.5 L1364.9,1944.5 L1367.9,1944.5 L1370.9,1944.5 L1373.9,1944.5 L1376.9,1944.5 L1379.9,1944.5 L1382.9,1944.5 L1385.9,1944.5 L1388.9,1944.5 L1391.9,1944.5 L1394.9,1944.5 L1397.9,1944.5 L1400.9,1944.5 L1403.9,1944.5 L1406.9,1944.5 L1409.9,1944.4 L1412.9,1944.4 L1415.9,1944.4 L1418.9,1944.4 L1421.9,1944.4 L1424.9,1944.4 L1427.9,1944.4 L1430.9,1944.4 L1434.0,1944.4 L1437.0,1944.4 L1440.0,1944.4 L1443.0,1944.4 L1446.0,1944.4 L1449.0,1944.4 L1452.0,1944.4 L1455.0,1944.4 L1458.0,1944.4 L1461.0,1944.4 L1464.0,1944.4 L1467.0,1944.4 L1470.0,1944.4 L1473.0,1944.4 L1476.0,1944.4 L1479.0,1944.4 L1482.0,1944.4 L1485.0,1944.4 L1488.0,1944.4 L1491.0,1944.4 L1494.0,1944.4 L1497.0,1944.4 L1500.0,1944.4 L1503.0,1944.5 L1506.0,1944.5 L1509.0,1944.5 L1512.0,1944.5 L1515.0,1944.5 L1518.0,1944.5 L1521.0,1944.5 L1524.0,1944.5 L1527.0,1944.5 L1530.0,1944.5 L1533.0,1944.5 L1536.0,1944.5 L1539.0,1944.5 L1542.0,1944.5 L1545.0,1944.5 L1548.0,1944.5 L1551.0,1944.5 L1554.0,1944.5 L1557.0,1944.5 L1560.0,1944.5 L1563.0,1944.5 L1566.0,1944.5 L1569.0,1944.5 L1572.0,1944.5 L1575.0,1944.5 L1578.1,1944.5 L1581.1,1944.5 L1584.1,1944.5 L1587.1,1944.5 L1590.1,1944.5 L1593.1,1944.5 L1596.1,1944.5 L1599.1,1944.5 L1602.1,1944.5 L1605.1,1944.5 L1608.1,1944.5 L1611.1,1944.5 L1614.1,1944.5 L1617.1,1944.5 L1620.1,1944.5 L1623.1,1944.5 L1626.1,1944.5 L1629.1,1944.5 L1632.1,1944.5 L1635.1,1944.5 L1638.1,1944.5 L1641.1,1944.5 L1644.1,1944.5 L1647.1,1944.5 L1650.1,1944.5 L1653.1,1944.5 L1656.1,1944.5 L1659.1,1944.5 L1662.1,1944.5 L1665.1,1944.5 L1668.1,1944.5 L1671.1,1944.5 L1674.1,1944.5 L1677.1,1944.5 L1680.1,1944.5 L1683.1,1944.5 L1686.1,1944.5 L1689.1,1944.5 L1692.1,1944.5 L1695.1,1944.5 L1698.1,1944.5 L1701.1,1944.5 L1704.1,1944.5 L1707.1,1944.5 L1710.1,1944.5 L1713.1,1944.5 L1716.1,1944.5 L1719.1,1944.5 L1722.2,1944.5 L1725.2,1944.5 L1728.2,1944.5 L1731.2,1944.5 L1734.2,1944.5 L1737.2,1944.5 L1740.2,1944.5 L1743.2,1944.5 L1746.2,1944.5 L1749.2,1944.5 L1752.2,1944.5 L1755.2,1944.5 L1758.2,1944.5" fill="none" stroke="#1a1a1a" stroke-width="4.50" stroke-linejoin="round" stroke-linecap="butt"/>
<path d="M229.5,1401.9 L232.5,1401.9 L235.5,1401.8 L238.5,1401.8 L241.5,1401.7 L244.5,1401.7 L247.5,1401.7 L250.5,1401.8 L253.5,1402.0 L256.5,1402.3 L259.4,1402.9 L262.3,1403.6 L265.2,1404.5 L268.0,1405.6 L270.7,1406.9 L273.3,1408.4 L275.8,1410.0 L278.2,1411.8 L280.6,1413.6 L283.0,1415.5 L285.3,1417.4 L287.5,1419.4 L289.7,1421.5 L291.8,1423.6 L293.8,1425.8 L295.9,1428.0 L297.9,1430.2 L299.7,1432.6 L301.5,1435.0 L303.1,1437.5 L304.8,1440.0 L306.4,1442.5 L308.0,1445.1 L309.4,1447.7 L310.8,1450.4 L312.0,1453.2 L313.2,1455.9 L314.3,1458.7 L315.4,1461.5 L316.5,1464.3 L317.5,1467.1 L318.5,1469.9 L319.5,1472.8 L320.5,1475.6 L321.5,1478.5 L322.5,1481.3 L323.4,1484.2 L324.3,1487.0 L325.1,1489.9 L326.0,1492.8 L326.9,1495.6 L327.8,1498.5 L328.8,1501.3 L329.7,1504.2 L330.6,1507.1 L331.6,1509.9 L332.5,1512.8 L333.4,1515.6 L334.3,1518.5 L335.2,1521.4 L336.1,1524.2 L337.0,1527.1 L337.9,1530.0 L338.8,1532.8 L339.7,1535.7 L340.6,1538.6 L341.5,1541.4 L342.3,1544.3 L343.2,1547.2 L344.0,1550.1 L344.8,1553.0 L345.6,1555.9 L346.4,1558.7 L347.2,1561.6 L348.0,1564.5 L348.8,1567.4 L349.6,1570.3 L350.6,1573.2 L351.5,1576.0 L352.4,1578.9 L353.2,1581.8 L353.9,1584.7 L354.6,1587.6 L355.2,1590.6 L355.8,1593.5 L356.3,1596.5 L356.9,1599.4 L357.5,1602.4 L358.0,1605.3 L358.6,1608.3 L359.2,1611.2 L359.8,1614.1 L360.4,1617.1 L361.0,1620.0 L361.6,1623.0 L362.2,1625.9 L362.8,1628.9 L363.5,1631.8 L364.1,1634.7 L364.7,1637.7 L365.2,1640.6 L365.6,1643.6 L366.0,1646.6 L366.4,1649.6 L366.7,1652.5 L367.1,1655.5 L367.5,1658.5 L368.0,1661.5 L368.6,1664.4 L369.2,1667.3 L369.9,1670.3 L370.7,1673.2 L371.5,1676.0 L372.5,1678.9 L373.4,1681.7 L374.4,1684.6 L375.4,1687.4 L376.3,1690.3 L377.1,1693.2 L377.9,1696.1 L378.6,1699.0 L379.4,1701.9 L380.1,1704.8 L380.8,1707.7 L381.5,1710.6 L382.2,1713.6 L382.9,1716.5 L383.6,1719.4 L384.4,1722.3 L385.3,1725.2 L386.3,1728.0 L387.4,1730.8 L388.5,1733.5 L389.6,1736.4 L390.6,1739.2 L391.6,1742.0 L392.6,1744.9 L393.5,1747.7 L394.3,1750.6 L395.1,1753.5 L396.0,1756.4 L396.8,1759.3 L397.8,1762.1 L398.9,1764.9 L400.0,1767.7 L401.2,1770.4 L402.5,1773.1 L403.9,1775.8 L405.2,1778.5 L406.3,1781.3 L407.3,1784.1 L408.4,1786.9 L409.6,1789.6 L411.1,1792.2 L412.8,1794.7 L414.8,1796.8 L417.0,1798.9 L419.2,1800.9 L421.4,1803.0 L423.5,1805.1 L425.7,1807.2 L427.8,1809.3 L430.0,1811.4 L432.2,1813.5 L434.4,1815.5 L436.7,1817.4 L439.0,1819.2 L441.5,1820.9 L444.2,1822.3 L446.9,1823.6 L449.6,1824.8 L452.4,1825.9 L455.2,1827.0 L458.1,1828.0 L460.9,1828.9 L463.8,1829.8 L466.7,1830.5 L469.6,1831.2 L472.5,1831.9 L475.5,1832.4 L478.5,1832.9 L481.4,1833.3 L484.4,1833.7 L487.4,1833.9 L490.4,1834.1 L493.4,1834.3 L496.4,1834.4 L499.4,1834.5 L502.4,1834.6 L505.4,1834.6 L508.4,1834.7 L511.4,1834.7 L514.4,1834.7 L517.4,1834.7 L520.4,1834.7 L523.4,1834.7 L526.4,1834.6 L529.4,1834.6 L532.4,1834.6 L535.4,1834.5 L538.4,1834.5 L541.4,1834.5 L544.4,1834.4 L547.4,1834.4 L550.4,1834.4 L553.4,1834.3 L556.5,1834.3 L559.5,1834.3 L562.5,1834.3 L565.5,1834.2 L568.5,1834.2 L571.5,1834.2 L574.5,1834.2 L577.5,1834.1 L580.5,1834.1 L583.5,1834.0 L586.5,1834.0 L589.5,1834.0 L592.5,1833.9 L595.5,1833.9 L598.5,1833.8 L601.5,1833.7 L604.5,1833.7 L607.5,1833.6 L610.5,1833.6 L613.5,1833.5 L616.5,1833.4 L619.5,1833.4 L622.5,1833.3 L625.5,1833.2 L628.5,1833.1 L631.5,1833.0 L634.5,1833.0 L637.5,1832.9 L640.5,1832.8 L643.5,1832.7 L646.5,1832.6 L649.5,1832.5 L652.5,1832.4 L655.5,1832.3 L658.5,1832.2 L661.5,1832.1 L664.5,1832.0 L667.5,1831.8 L670.5,1831.6 L673.5,1831.4 L676.5,1831.2 L679.5,1830.9 L682.5,1830.6 L685.5,1830.3 L688.5,1829.9 L691.4,1829.5 L694.4,1829.1 L697.4,1828.7 L700.4,1828.2 L703.3,1827.8 L706.3,1827.3 L709.2,1826.8 L712.2,1826.2 L715.1,1825.7 L718.1,1825.1 L721.0,1824.5 L724.0,1823.9 L726.9,1823.3 L729.8,1822.6 L732.8,1821.9 L735.7,1821.2 L738.6,1820.5 L741.5,1819.7 L744.4,1819.0 L747.3,1818.2 L750.2,1817.5 L753.1,1816.7 L756.0,1816.0 L759.0,1815.2 L761.9,1814.5 L764.8,1813.8 L767.7,1813.2 L770.6,1812.5 L773.6,1811.8 L776.5,1811.2 L779.4,1810.5 L782.4,1809.9 L785.3,1809.3 L788.2,1808.6 L791.2,1808.0 L794.1,1807.4 L797.1,1806.7 L800.0,1806.1 L802.9,1805.5 L805.9,1804.8 L808.8,1804.1 L811.7,1803.4 L814.6,1802.8 L817.5,1802.0 L820.5,1801.3 L823.4,1800.6 L826.3,1799.9 L829.2,1799.2 L832.2,1798.6 L835.1,1797.9 L838.0,1797.3 L841.0,1796.7 L843.9,1796.2 L846.9,1795.7 L849.9,1795.3 L852.8,1794.8 L855.8,1794.4 L858.8,1794.1 L861.8,1793.7 L864.8,1793.4 L867.7,1793.1 L870.7,1792.9 L873.7,1792.6 L876.7,1792.4 L879.7,1792.2 L882.7,1792.0 L885.7,1791.8 L888.7,1791.7 L891.7,1791.6 L894.7,1791.5 L897.7,1791.4 L900.7,1791.4 L903.7,1791.3 L906.7,1791.3 L909.7,1791.3 L912.7,1791.4 L915.7,1791.4 L918.7,1791.4 L921.7,1791.5 L924.7,1791.6 L927.7,1791.6 L930.7,1791.7 L933.7,1791.9 L936.7,1792.1 L939.7,1792.3 L942.7,1792.6 L945.7,1792.9 L948.7,1793.1 L951.7,1793.4 L954.7,1793.7 L957.7,1794.1 L960.7,1794.4 L963.6,1794.7 L966.6,1795.1 L969.6,1795.4 L972.6,1795.8 L975.6,1796.2 L978.5,1796.6 L981.5,1797.0 L984.5,1797.5 L987.4,1798.0 L990.4,1798.5 L993.3,1799.1 L996.3,1799.7 L999.2,1800.3 L1002.2,1800.9 L1005.1,1801.6 L1008.0,1802.2 L1011.0,1802.9 L1013.9,1803.6 L1016.8,1804.3 L1019.7,1804.9 L1022.6,1805.6 L1025.6,1806.3 L1028.5,1807.0 L1031.4,1807.7 L1034.3,1808.4 L1037.3,1809.1 L1040.2,1809.8 L1043.1,1810.5 L1046.0,1811.2 L1048.9,1812.0 L1051.8,1812.7 L1054.7,1813.4 L1057.7,1814.2 L1060.6,1814.9 L1063.5,1815.6 L1066.4,1816.4 L1069.3,1817.1 L1072.2,1817.8 L1075.1,1818.5 L1078.1,1819.3 L1081.0,1820.0 L1083.9,1820.7 L1086.8,1821.4 L1089.7,1822.1 L1092.7,1822.8 L1095.6,1823.5 L1098.5,1824.2 L1101.4,1824.9 L1104.3,1825.6 L1107.3,1826.3 L1110.2,1827.0 L1113.1,1827.7 L1116.0,1828.4 L1118.9,1829.2 L1121.8,1829.9 L1124.7,1830.7 L1127.6,1831.5 L1130.5,1832.3 L1133.4,1833.2 L1136.3,1834.0 L1139.1,1834.9 L1142.0,1835.7 L1144.9,1836.6 L1147.8,1837.5 L1150.6,1838.4 L1153.5,1839.2 L1156.4,1840.1 L1159.3,1841.0 L1162.1,1841.8 L1165.0,1842.6 L1167.9,1843.5 L1170.8,1844.2 L1173.7,1845.0 L1176.6,1845.8 L1179.5,1846.6 L1182.4,1847.3 L1185.3,1848.0 L1188.3,1848.8 L1191.2,1849.5 L1194.1,1850.2 L1197.0,1850.9 L1199.9,1851.6 L1202.8,1852.3 L1205.8,1853.0 L1208.7,1853.7 L1211.6,1854.3 L1214.6,1855.0 L1217.5,1855.6 L1220.4,1856.3 L1223.4,1856.9 L1226.3,1857.5 L1229.2,1858.2 L1232.2,1858.8 L1235.1,1859.3 L1238.1,1859.9 L1241.0,1860.5 L1244.0,1861.1 L1246.9,1861.6 L1249.9,1862.2 L1252.8,1862.7 L1255.8,1863.3 L1258.7,1863.8 L1261.7,1864.3 L1264.6,1864.8 L1267.6,1865.3 L1270.6,1865.8 L1273.5,1866.2 L1276.5,1866.7 L1279.5,1867.1 L1282.5,1867.5 L1285.4,1868.0 L1288.4,1868.4 L1291.4,1868.8 L1294.4,1869.2 L1297.3,1869.6 L1300.3,1870.1 L1303.3,1870.5 L1306.2,1870.9 L1309.2,1871.3 L1312.2,1871.8 L1315.2,1872.2 L1318.1,1872.6 L1321.1,1873.0 L1324.1,1873.5 L1327.1,1873.9 L1330.0,1874.3 L1333.0,1874.8 L1336.0,1875.2 L1338.9,1875.7 L1341.9,1876.2 L1344.9,1876.7 L1347.8,1877.2 L1350.8,1877.7 L1353.7,1878.2 L1356.7,1878.8 L1359.6,1879.3 L1362.6,1879.8 L1365.5,1880.4 L1368.5,1880.9 L1371.5,1881.4 L1374.4,1881.8 L1377.4,1882.3 L1380.4,1882.7 L1383.4,1883.1 L1386.3,1883.4 L1389.3,1883.8 L1392.3,1884.1 L1395.3,1884.4 L1398.3,1884.8 L1401.3,1885.0 L1404.3,1885.3 L1407.2,1885.6 L1410.2,1885.9 L1413.2,1886.1 L1416.2,1886.4 L1419.2,1886.6 L1422.2,1886.9 L1425.2,1887.2 L1428.2,1887.4 L1431.2,1887.7 L1434.2,1887.9 L1437.2,1888.2 L1440.2,1888.4 L1443.2,1888.6 L1446.2,1888.9 L1449.1,1889.1 L1452.1,1889.3 L1455.1,1889.6 L1458.1,1889.8 L1461.1,1890.0 L1464.1,1890.2 L1467.1,1890.4 L1470.1,1890.6 L1473.1,1890.8 L1476.1,1891.0 L1479.1,1891.2 L1482.1,1891.4 L1485.1,1891.6 L1488.1,1891.8 L1491.1,1891.9 L1494.1,1892.1 L1497.1,1892.3 L1500.1,1892.4 L1503.1,1892.6 L1506.1,1892.7 L1509.1,1892.9 L1512.1,1893.0 L1515.1,1893.1 L1518.1,1893.3 L1521.1,1893.4 L1524.1,1893.6 L1527.1,1893.7 L1530.1,1893.8 L1533.1,1894.0 L1536.1,1894.1 L1539.1,1894.3 L1542.1,1894.4 L1545.1,1894.6 L1548.1,1894.8 L1551.1,1894.9 L1554.1,1895.1 L1557.1,1895.2 L1560.1,1895.4 L1563.1,1895.5 L1566.1,1895.7 L1569.1,1895.8 L1572.1,1896.0 L1575.1,1896.1 L1578.1,1896.2 L1581.1,1896.3 L1584.1,1896.5 L1587.1,1896.6 L1590.1,1896.7 L1593.1,1896.8 L1596.1,1896.8 L1599.1,1896.9 L1602.1,1897.0 L1605.1,1897.1 L1608.1,1897.2 L1611.1,1897.2 L1614.1,1897.3 L1617.1,1897.4 L1620.1,1897.4 L1623.1,1897.5 L1626.1,1897.5 L1629.1,1897.6 L1632.1,1897.7 L1635.1,1897.8 L1638.1,1897.8 L1641.1,1897.9 L1644.1,1898.0 L1647.1,1898.0 L1650.1,1898.1 L1653.1,1898.1 L1656.1,1898.2 L1659.1,1898.3 L1662.1,1898.3 L1665.1,1898.4 L1668.1,1898.5 L1671.1,1898.5 L1674.1,1898.6 L1677.1,1898.7 L1680.1,1898.8 L1683.1,1898.9 L1686.1,1898.9 L1689.1,1899.0 L1692.2,1899.1 L1695.2,1899.2 L1698.2,1899.3 L1701.2,1899.4 L1704.2,1899.5 L1707.2,1899.6 L1710.2,1899.7 L1713.2,1899.8 L1716.2,1899.9 L1719.2,1900.1 L1722.2,1900.2 L1725.2,1900.3 L1728.2,1900.4 L1731.2,1900.5 L1734.2,1900.6 L1737.2,1900.7 L1740.2,1900.8 L1743.2,1900.9 L1746.2,1901.1 L1749.2,1901.2 L1752.2,1901.3 L1755.2,1901.4 L1758.2,1901.5" fill="none" stroke="#ee2222" stroke-width="4.50" stroke-linejoin="round" stroke-linecap="butt"/>
<path d="M229.5,1424.5 L232.5,1424.5 L235.5,1424.4 L238.5,1424.4 L241.5,1424.4 L244.5,1424.5 L247.5,1424.7 L250.5,1425.0 L253.5,1425.4 L256.4,1425.9 L259.3,1426.5 L262.2,1427.4 L265.0,1428.4 L267.8,1429.6 L270.5,1430.8 L273.3,1432.0 L275.9,1433.4 L278.5,1434.9 L281.1,1436.5 L283.5,1438.2 L285.8,1440.1 L288.1,1442.1 L290.3,1444.1 L292.3,1446.3 L294.2,1448.7 L295.9,1451.1 L297.5,1453.7 L299.1,1456.2 L300.8,1458.7 L302.5,1461.2 L304.1,1463.7 L305.6,1466.3 L307.0,1468.9 L308.4,1471.6 L309.7,1474.3 L311.0,1477.0 L312.3,1479.7 L313.6,1482.4 L315.0,1485.0 L316.5,1487.7 L317.8,1490.4 L319.2,1493.0 L320.5,1495.7 L321.7,1498.5 L322.8,1501.3 L323.9,1504.1 L325.0,1506.9 L326.1,1509.7 L327.1,1512.5 L328.2,1515.3 L329.4,1518.1 L330.5,1520.8 L331.6,1523.6 L332.8,1526.4 L334.0,1529.1 L335.2,1531.9 L336.5,1534.6 L337.8,1537.3 L339.1,1540.0 L340.4,1542.7 L341.6,1545.4 L342.8,1548.2 L343.9,1551.0 L345.0,1553.8 L346.0,1556.6 L346.9,1559.5 L347.7,1562.4 L348.5,1565.3 L349.3,1568.2 L350.0,1571.1 L350.7,1574.0 L351.4,1576.9 L352.0,1579.8 L352.7,1582.8 L353.3,1585.7 L353.9,1588.7 L354.6,1591.6 L355.2,1594.5 L355.8,1597.5 L356.4,1600.4 L357.1,1603.3 L357.8,1606.3 L358.4,1609.2 L359.1,1612.1 L359.9,1615.0 L360.6,1617.9 L361.4,1620.8 L362.2,1623.7 L363.0,1626.6 L363.8,1629.5 L364.6,1632.4 L365.4,1635.3 L366.2,1638.2 L367.0,1641.1 L367.8,1644.0 L368.6,1646.8 L369.4,1649.7 L370.2,1652.6 L370.9,1655.6 L371.7,1658.5 L372.4,1661.4 L373.1,1664.3 L373.8,1667.2 L374.5,1670.1 L375.3,1673.0 L376.0,1675.9 L376.7,1678.9 L377.5,1681.8 L378.3,1684.7 L379.1,1687.5 L379.9,1690.4 L380.7,1693.3 L381.5,1696.2 L382.4,1699.1 L383.2,1702.0 L384.0,1704.9 L384.9,1707.7 L385.8,1710.6 L386.8,1713.4 L387.8,1716.3 L388.9,1719.1 L390.0,1721.9 L391.1,1724.6 L392.3,1727.4 L393.5,1730.1 L394.7,1732.9 L396.0,1735.6 L397.4,1738.2 L398.9,1740.9 L400.5,1743.4 L402.2,1745.8 L404.1,1748.2 L406.2,1750.3 L408.4,1752.3 L410.8,1754.1 L413.3,1755.8 L415.8,1757.4 L418.3,1759.0 L420.9,1760.5 L423.5,1762.0 L426.2,1763.5 L428.9,1764.8 L431.6,1766.0 L434.4,1767.1 L437.2,1768.2 L440.0,1769.1 L442.9,1770.0 L445.8,1770.8 L448.7,1771.6 L451.6,1772.3 L454.5,1773.0 L457.5,1773.7 L460.4,1774.3 L463.3,1774.9 L466.3,1775.5 L469.2,1776.0 L472.2,1776.5 L475.2,1777.0 L478.1,1777.4 L481.1,1777.9 L484.1,1778.3 L487.1,1778.6 L490.0,1779.0 L493.0,1779.3 L496.0,1779.5 L499.0,1779.8 L502.0,1779.9 L505.0,1780.1 L508.0,1780.2 L511.0,1780.3 L514.0,1780.4 L517.0,1780.5 L520.0,1780.6 L523.0,1780.6 L526.0,1780.6 L529.0,1780.6 L532.0,1780.6 L535.0,1780.6 L538.0,1780.6 L541.0,1780.6 L544.0,1780.6 L547.0,1780.6 L550.0,1780.6 L553.0,1780.6 L556.0,1780.6 L559.0,1780.6 L562.0,1780.6 L565.0,1780.6 L568.0,1780.6 L571.0,1780.6 L574.0,1780.7 L577.0,1780.7 L580.0,1780.8 L583.0,1780.8 L586.0,1780.9 L589.0,1781.0 L592.0,1781.0 L595.0,1781.1 L598.0,1781.1 L601.0,1781.2 L604.0,1781.3 L607.0,1781.3 L610.0,1781.4 L613.0,1781.5 L616.0,1781.5 L619.0,1781.6 L622.1,1781.7 L625.1,1781.8 L628.1,1781.8 L631.1,1781.9 L634.1,1782.0 L637.1,1782.1 L640.1,1782.3 L643.1,1782.4 L646.1,1782.5 L649.0,1782.7 L652.0,1782.9 L655.0,1783.1 L658.0,1783.3 L661.0,1783.6 L664.0,1783.9 L667.0,1784.1 L670.0,1784.4 L673.0,1784.7 L676.0,1784.9 L679.0,1785.2 L682.0,1785.4 L685.0,1785.5 L688.0,1785.7 L691.0,1785.8 L694.0,1785.9 L697.0,1785.9 L700.0,1785.9 L703.0,1785.8 L706.0,1785.7 L709.0,1785.6 L712.0,1785.5 L715.0,1785.3 L717.9,1785.1 L720.9,1784.9 L723.9,1784.7 L726.9,1784.5 L729.9,1784.2 L732.9,1784.0 L735.9,1783.7 L738.9,1783.5 L741.9,1783.2 L744.9,1782.9 L747.9,1782.6 L750.8,1782.3 L753.8,1782.0 L756.8,1781.7 L759.8,1781.4 L762.8,1781.1 L765.8,1780.8 L768.8,1780.5 L771.7,1780.2 L774.7,1779.8 L777.7,1779.5 L780.7,1779.1 L783.7,1778.7 L786.6,1778.3 L789.6,1778.0 L792.6,1777.6 L795.6,1777.2 L798.6,1776.8 L801.5,1776.4 L804.5,1775.9 L807.5,1775.5 L810.4,1775.1 L813.4,1774.7 L816.4,1774.4 L819.4,1774.0 L822.4,1773.6 L825.3,1773.2 L828.3,1772.9 L831.3,1772.6 L834.3,1772.3 L837.3,1772.0 L840.3,1771.7 L843.3,1771.4 L846.3,1771.2 L849.2,1771.0 L852.2,1770.8 L855.2,1770.6 L858.2,1770.4 L861.2,1770.2 L864.2,1770.1 L867.2,1769.9 L870.2,1769.7 L873.2,1769.6 L876.2,1769.4 L879.2,1769.2 L882.2,1769.1 L885.2,1768.9 L888.2,1768.7 L891.2,1768.5 L894.2,1768.3 L897.2,1768.2 L900.2,1768.0 L903.2,1767.8 L906.2,1767.6 L909.2,1767.4 L912.2,1767.3 L915.2,1767.1 L918.2,1766.9 L921.2,1766.7 L924.2,1766.5 L927.2,1766.4 L930.2,1766.2 L933.2,1766.0 L936.1,1765.9 L939.1,1765.7 L942.1,1765.6 L945.1,1765.4 L948.1,1765.3 L951.1,1765.1 L954.1,1765.0 L957.1,1764.9 L960.1,1764.7 L963.1,1764.6 L966.1,1764.5 L969.1,1764.4 L972.1,1764.3 L975.1,1764.2 L978.1,1764.1 L981.1,1764.0 L984.1,1763.9 L987.1,1763.9 L990.1,1763.8 L993.1,1763.8 L996.1,1763.7 L999.1,1763.7 L1002.1,1763.6 L1005.1,1763.6 L1008.1,1763.6 L1011.2,1763.5 L1014.2,1763.5 L1017.2,1763.5 L1020.2,1763.5 L1023.2,1763.5 L1026.2,1763.5 L1029.2,1763.5 L1032.2,1763.5 L1035.2,1763.5 L1038.2,1763.5 L1041.2,1763.6 L1044.2,1763.6 L1047.2,1763.6 L1050.2,1763.7 L1053.2,1763.7 L1056.2,1763.8 L1059.2,1763.8 L1062.2,1763.9 L1065.2,1764.0 L1068.2,1764.1 L1071.2,1764.2 L1074.2,1764.3 L1077.2,1764.4 L1080.2,1764.5 L1083.2,1764.6 L1086.2,1764.8 L1089.2,1764.9 L1092.2,1765.0 L1095.2,1765.2 L1098.2,1765.4 L1101.2,1765.6 L1104.2,1765.8 L1107.2,1766.0 L1110.1,1766.2 L1113.1,1766.5 L1116.1,1766.8 L1119.1,1767.0 L1122.1,1767.3 L1125.1,1767.6 L1128.1,1767.9 L1131.1,1768.2 L1134.1,1768.5 L1137.0,1768.8 L1140.0,1769.1 L1143.0,1769.4 L1146.0,1769.7 L1149.0,1770.0 L1152.0,1770.4 L1155.0,1770.7 L1157.9,1771.0 L1160.9,1771.3 L1163.9,1771.6 L1166.9,1771.9 L1169.9,1772.2 L1172.9,1772.5 L1175.9,1772.8 L1178.9,1773.0 L1181.8,1773.3 L1184.8,1773.6 L1187.8,1773.8 L1190.8,1774.0 L1193.8,1774.3 L1196.8,1774.5 L1199.8,1774.7 L1202.8,1774.8 L1205.8,1775.0 L1208.8,1775.2 L1211.8,1775.4 L1214.8,1775.6 L1217.8,1775.7 L1220.8,1775.9 L1223.8,1776.0 L1226.8,1776.2 L1229.8,1776.3 L1232.8,1776.5 L1235.8,1776.6 L1238.8,1776.8 L1241.8,1776.9 L1244.8,1777.0 L1247.8,1777.1 L1250.8,1777.3 L1253.8,1777.4 L1256.8,1777.5 L1259.8,1777.6 L1262.8,1777.7 L1265.8,1777.8 L1268.8,1777.9 L1271.8,1778.0 L1274.8,1778.0 L1277.8,1778.1 L1280.8,1778.2 L1283.8,1778.3 L1286.8,1778.3 L1289.8,1778.4 L1292.8,1778.5 L1295.8,1778.5 L1298.8,1778.6 L1301.8,1778.7 L1304.8,1778.7 L1307.8,1778.8 L1310.8,1778.8 L1313.8,1778.9 L1316.8,1778.9 L1319.8,1779.0 L1322.8,1779.0 L1325.8,1779.1 L1328.8,1779.1 L1331.8,1779.1 L1334.8,1779.2 L1337.8,1779.2 L1340.8,1779.2 L1343.8,1779.2 L1346.8,1779.3 L1349.8,1779.3 L1352.8,1779.3 L1355.8,1779.3 L1358.8,1779.3 L1361.8,1779.4 L1364.8,1779.4 L1367.8,1779.4 L1370.8,1779.4 L1373.8,1779.4 L1376.8,1779.4 L1379.8,1779.4 L1382.8,1779.4 L1385.8,1779.4 L1388.8,1779.4 L1391.8,1779.4 L1394.8,1779.4 L1397.8,1779.4 L1400.8,1779.4 L1403.8,1779.4 L1406.8,1779.4 L1409.8,1779.4 L1412.8,1779.4 L1415.8,1779.4 L1418.8,1779.4 L1421.8,1779.4 L1424.9,1779.4 L1427.9,1779.4 L1430.9,1779.3 L1433.9,1779.3 L1436.9,1779.3 L1439.9,1779.3 L1442.9,1779.3 L1445.9,1779.3 L1448.9,1779.3 L1451.9,1779.2 L1454.9,1779.2 L1457.9,1779.2 L1460.9,1779.2 L1463.9,1779.2 L1466.9,1779.1 L1469.9,1779.1 L1472.9,1779.1 L1475.9,1779.1 L1478.9,1779.0 L1481.9,1779.0 L1484.9,1779.0 L1487.9,1779.0 L1490.9,1778.9 L1493.9,1778.9 L1496.9,1778.9 L1499.9,1778.9 L1502.9,1778.8 L1505.9,1778.8 L1508.9,1778.8 L1511.9,1778.7 L1514.9,1778.7 L1517.9,1778.7 L1520.9,1778.6 L1523.9,1778.6 L1526.9,1778.6 L1529.9,1778.5 L1532.9,1778.5 L1535.9,1778.4 L1538.9,1778.4 L1541.9,1778.3 L1544.9,1778.3 L1547.9,1778.2 L1550.9,1778.2 L1553.9,1778.1 L1556.9,1778.1 L1559.9,1778.0 L1562.9,1778.0 L1565.9,1777.9 L1568.9,1777.9 L1571.9,1777.8 L1574.9,1777.8 L1577.9,1777.7 L1580.9,1777.6 L1583.9,1777.6 L1586.9,1777.5 L1589.9,1777.5 L1592.9,1777.4 L1595.9,1777.3 L1598.9,1777.3 L1601.9,1777.2 L1604.9,1777.1 L1607.9,1777.1 L1610.9,1777.0 L1614.0,1776.9 L1617.0,1776.9 L1620.0,1776.8 L1623.0,1776.7 L1626.0,1776.7 L1629.0,1776.6 L1632.0,1776.5 L1635.0,1776.4 L1638.0,1776.4 L1641.0,1776.3 L1644.0,1776.2 L1647.0,1776.2 L1650.0,1776.1 L1653.0,1776.0 L1656.0,1775.9 L1659.0,1775.9 L1662.0,1775.8 L1665.0,1775.7 L1668.0,1775.6 L1671.0,1775.6 L1674.0,1775.5 L1677.0,1775.4 L1680.0,1775.3 L1683.0,1775.3 L1686.0,1775.2 L1689.0,1775.1 L1692.0,1775.0 L1695.0,1775.0 L1698.0,1774.9 L1701.0,1774.8 L1704.0,1774.7 L1707.0,1774.7 L1710.0,1774.6 L1713.0,1774.5 L1716.0,1774.5 L1719.0,1774.4 L1722.0,1774.3 L1725.0,1774.2 L1728.0,1774.2 L1731.0,1774.1 L1734.0,1774.0 L1737.0,1774.0 L1740.0,1773.9 L1743.0,1773.8 L1746.0,1773.8 L1749.0,1773.7 L1752.0,1773.6 L1755.0,1773.6 L1758.0,1773.5" fill="none" stroke="#18a060" stroke-width="4.50" stroke-linejoin="round" stroke-linecap="butt"/>
<path d="M229.5,1422.5 L232.5,1422.5 L235.5,1422.4 L238.5,1422.4 L241.5,1422.4 L244.5,1422.5 L247.5,1422.7 L250.5,1423.0 L253.5,1423.4 L256.4,1423.9 L259.3,1424.6 L262.2,1425.5 L265.0,1426.6 L267.8,1427.7 L270.5,1428.9 L273.3,1430.1 L276.0,1431.4 L278.6,1432.8 L281.2,1434.4 L283.6,1436.1 L286.0,1437.9 L288.3,1439.8 L290.5,1441.8 L292.6,1444.0 L294.4,1446.4 L296.1,1448.8 L297.8,1451.3 L299.5,1453.8 L301.2,1456.3 L302.8,1458.8 L304.4,1461.3 L305.9,1463.9 L307.4,1466.5 L308.7,1469.2 L310.0,1471.9 L311.3,1474.7 L312.6,1477.3 L314.0,1480.0 L315.4,1482.7 L316.8,1485.3 L318.2,1488.0 L319.6,1490.6 L320.9,1493.4 L322.1,1496.1 L323.2,1498.9 L324.3,1501.7 L325.4,1504.5 L326.5,1507.3 L327.5,1510.1 L328.6,1512.9 L329.7,1515.7 L330.9,1518.4 L332.1,1521.2 L333.4,1523.9 L334.6,1526.6 L335.9,1529.4 L337.1,1532.1 L338.4,1534.8 L339.6,1537.6 L340.7,1540.3 L341.9,1543.1 L343.0,1545.9 L344.1,1548.7 L345.1,1551.5 L346.0,1554.4 L346.9,1557.2 L347.8,1560.1 L348.5,1563.0 L349.3,1565.9 L350.0,1568.8 L350.7,1571.8 L351.3,1574.7 L352.0,1577.6 L352.6,1580.6 L353.2,1583.5 L353.8,1586.4 L354.5,1589.4 L355.1,1592.3 L355.7,1595.3 L356.4,1598.2 L357.0,1601.1 L357.7,1604.0 L358.5,1606.9 L359.3,1609.8 L360.2,1612.7 L361.1,1615.6 L362.1,1618.4 L363.1,1621.2 L364.2,1624.0 L365.3,1626.8 L366.3,1629.6 L367.4,1632.4 L368.4,1635.3 L369.3,1638.1 L370.2,1641.0 L371.1,1643.8 L372.0,1646.7 L372.8,1649.6 L373.6,1652.5 L374.4,1655.4 L375.2,1658.3 L376.0,1661.2 L376.8,1664.1 L377.7,1666.9 L378.5,1669.8 L379.3,1672.7 L380.1,1675.6 L380.8,1678.5 L381.6,1681.4 L382.3,1684.3 L383.1,1687.2 L383.9,1690.1 L384.8,1693.0 L385.7,1695.9 L386.6,1698.7 L387.7,1701.5 L388.9,1704.2 L390.3,1706.9 L391.8,1709.5 L393.4,1712.0 L395.1,1714.5 L397.0,1716.8 L399.0,1719.1 L401.0,1721.3 L403.2,1723.3 L405.5,1725.3 L407.8,1727.1 L410.3,1728.8 L412.9,1730.3 L415.6,1731.7 L418.3,1732.9 L421.1,1734.0 L423.9,1735.1 L426.8,1736.0 L429.6,1737.0 L432.5,1737.9 L435.4,1738.7 L438.3,1739.5 L441.2,1740.2 L444.1,1741.0 L447.0,1741.7 L449.9,1742.3 L452.9,1742.9 L455.8,1743.5 L458.8,1744.0 L461.7,1744.6 L464.7,1745.0 L467.7,1745.5 L470.6,1745.9 L473.6,1746.3 L476.6,1746.6 L479.6,1746.9 L482.6,1747.1 L485.6,1747.3 L488.6,1747.5 L491.6,1747.7 L494.6,1747.8 L497.6,1747.9 L500.6,1748.0 L503.6,1748.0 L506.6,1748.1 L509.6,1748.1 L512.6,1748.1 L515.6,1748.2 L518.6,1748.2 L521.6,1748.1 L524.6,1748.1 L527.6,1748.1 L530.6,1748.1 L533.6,1748.1 L536.6,1748.0 L539.6,1748.0 L542.6,1748.0 L545.6,1747.9 L548.6,1747.9 L551.6,1747.9 L554.6,1747.8 L557.6,1747.8 L560.6,1747.8 L563.6,1747.8 L566.6,1747.8 L569.6,1747.8 L572.6,1747.8 L575.6,1747.9 L578.6,1747.9 L581.6,1748.0 L584.6,1748.1 L587.6,1748.1 L590.6,1748.2 L593.6,1748.2 L596.6,1748.3 L599.6,1748.4 L602.6,1748.4 L605.6,1748.5 L608.6,1748.6 L611.6,1748.6 L614.6,1748.7 L617.6,1748.8 L620.6,1748.9 L623.6,1748.9 L626.6,1749.0 L629.6,1749.1 L632.6,1749.2 L635.6,1749.3 L638.6,1749.4 L641.6,1749.5 L644.6,1749.6 L647.6,1749.7 L650.6,1749.8 L653.6,1750.0 L656.6,1750.1 L659.6,1750.3 L662.6,1750.5 L665.6,1750.6 L668.6,1750.8 L671.6,1751.0 L674.6,1751.2 L677.6,1751.3 L680.6,1751.5 L683.6,1751.6 L686.6,1751.7 L689.6,1751.8 L692.6,1751.9 L695.6,1752.0 L698.6,1752.0 L701.6,1752.0 L704.6,1752.0 L707.6,1752.0 L710.6,1752.0 L713.6,1751.9 L716.6,1751.8 L719.6,1751.8 L722.6,1751.7 L725.6,1751.6 L728.6,1751.5 L731.6,1751.4 L734.6,1751.3 L737.6,1751.2 L740.6,1751.1 L743.6,1751.0 L746.6,1750.9 L749.6,1750.8 L752.6,1750.7 L755.6,1750.6 L758.6,1750.5 L761.6,1750.3 L764.6,1750.2 L767.6,1750.1 L770.6,1750.0 L773.6,1749.9 L776.6,1749.8 L779.6,1749.7 L782.6,1749.6 L785.6,1749.6 L788.6,1749.5 L791.6,1749.4 L794.6,1749.3 L797.6,1749.2 L800.6,1749.1 L803.6,1749.0 L806.6,1748.9 L809.6,1748.8 L812.6,1748.7 L815.6,1748.6 L818.6,1748.5 L821.6,1748.4 L824.6,1748.3 L827.6,1748.2 L830.6,1748.2 L833.6,1748.1 L836.6,1748.0 L839.6,1747.9 L842.6,1747.8 L845.6,1747.7 L848.6,1747.6 L851.6,1747.6 L854.6,1747.5 L857.6,1747.4 L860.6,1747.4 L863.6,1747.3 L866.6,1747.2 L869.6,1747.2 L872.6,1747.1 L875.6,1747.1 L878.6,1747.0 L881.7,1747.0 L884.7,1746.9 L887.7,1746.9 L890.7,1746.9 L893.7,1746.8 L896.7,1746.8 L899.7,1746.8 L902.7,1746.8 L905.7,1746.7 L908.7,1746.7 L911.7,1746.7 L914.7,1746.7 L917.7,1746.7 L920.7,1746.7 L923.7,1746.7 L926.7,1746.6 L929.7,1746.6 L932.7,1746.6 L935.7,1746.6 L938.7,1746.6 L941.7,1746.6 L944.7,1746.6 L947.7,1746.6 L950.7,1746.6 L953.7,1746.6 L956.7,1746.6 L959.7,1746.6 L962.7,1746.6 L965.7,1746.6 L968.7,1746.6 L971.7,1746.6 L974.7,1746.6 L977.7,1746.6 L980.7,1746.6 L983.7,1746.6 L986.7,1746.6 L989.7,1746.6 L992.7,1746.7 L995.7,1746.7 L998.7,1746.7 L1001.7,1746.7 L1004.7,1746.7 L1007.7,1746.7 L1010.7,1746.7 L1013.7,1746.7 L1016.7,1746.7 L1019.7,1746.7 L1022.7,1746.7 L1025.7,1746.7 L1028.7,1746.7 L1031.8,1746.7 L1034.8,1746.7 L1037.8,1746.7 L1040.8,1746.7 L1043.8,1746.7 L1046.8,1746.7 L1049.8,1746.7 L1052.8,1746.7 L1055.8,1746.7 L1058.8,1746.7 L1061.8,1746.6 L1064.8,1746.6 L1067.8,1746.6 L1070.8,1746.6 L1073.8,1746.6 L1076.8,1746.6 L1079.8,1746.6 L1082.8,1746.6 L1085.8,1746.5 L1088.8,1746.5 L1091.8,1746.5 L1094.8,1746.5 L1097.8,1746.5 L1100.8,1746.4 L1103.8,1746.4 L1106.8,1746.4 L1109.8,1746.4 L1112.8,1746.3 L1115.8,1746.3 L1118.8,1746.3 L1121.8,1746.3 L1124.8,1746.2 L1127.8,1746.2 L1130.8,1746.2 L1133.8,1746.2 L1136.8,1746.1 L1139.8,1746.1 L1142.8,1746.1 L1145.8,1746.1 L1148.8,1746.0 L1151.8,1746.0 L1154.8,1746.0 L1157.8,1745.9 L1160.8,1745.9 L1163.8,1745.9 L1166.8,1745.8 L1169.8,1745.8 L1172.8,1745.8 L1175.8,1745.8 L1178.8,1745.7 L1181.8,1745.7 L1184.9,1745.7 L1187.9,1745.6 L1190.9,1745.6 L1193.9,1745.6 L1196.9,1745.5 L1199.9,1745.5 L1202.9,1745.4 L1205.9,1745.4 L1208.9,1745.4 L1211.9,1745.3 L1214.9,1745.3 L1217.9,1745.3 L1220.9,1745.2 L1223.9,1745.2 L1226.9,1745.1 L1229.9,1745.1 L1232.9,1745.0 L1235.9,1745.0 L1238.9,1745.0 L1241.9,1744.9 L1244.9,1744.9 L1247.9,1744.8 L1250.9,1744.8 L1253.9,1744.7 L1256.9,1744.7 L1259.9,1744.6 L1262.9,1744.6 L1265.9,1744.5 L1268.9,1744.5 L1271.9,1744.4 L1274.9,1744.4 L1277.9,1744.3 L1280.9,1744.2 L1283.9,1744.2 L1286.9,1744.1 L1289.9,1744.1 L1292.9,1744.0 L1295.9,1743.9 L1298.9,1743.9 L1301.9,1743.8 L1304.9,1743.8 L1307.9,1743.7 L1310.9,1743.6 L1313.9,1743.6 L1316.9,1743.5 L1319.9,1743.4 L1322.9,1743.3 L1325.9,1743.3 L1328.9,1743.2 L1331.9,1743.1 L1334.9,1743.1 L1337.9,1743.0 L1340.9,1742.9 L1343.9,1742.8 L1346.9,1742.7 L1349.9,1742.7 L1352.9,1742.6 L1355.9,1742.5 L1358.9,1742.4 L1361.9,1742.3 L1364.9,1742.2 L1367.9,1742.2 L1370.9,1742.1 L1373.9,1742.0 L1376.9,1741.9 L1379.9,1741.8 L1382.9,1741.7 L1385.9,1741.6 L1388.9,1741.5 L1391.9,1741.4 L1394.9,1741.3 L1397.9,1741.2 L1400.9,1741.2 L1403.9,1741.1 L1406.9,1741.0 L1409.9,1740.9 L1412.9,1740.8 L1415.9,1740.7 L1418.9,1740.6 L1421.9,1740.5 L1424.9,1740.4 L1428.0,1740.3 L1431.0,1740.2 L1434.0,1740.1 L1437.0,1740.0 L1440.0,1739.9 L1443.0,1739.8 L1446.0,1739.7 L1449.0,1739.6 L1452.0,1739.5 L1455.0,1739.4 L1458.0,1739.3 L1461.0,1739.2 L1464.0,1739.1 L1467.0,1739.0 L1470.0,1738.9 L1473.0,1738.8 L1476.0,1738.7 L1479.0,1738.6 L1482.0,1738.5 L1485.0,1738.4 L1488.0,1738.3 L1491.0,1738.2 L1494.0,1738.2 L1497.0,1738.1 L1500.0,1738.0 L1503.0,1737.9 L1506.0,1737.8 L1509.0,1737.7 L1512.0,1737.6 L1515.0,1737.5 L1518.0,1737.4 L1521.0,1737.3 L1524.0,1737.2 L1527.0,1737.1 L1530.0,1737.0 L1533.0,1736.9 L1536.0,1736.8 L1539.0,1736.7 L1542.0,1736.6 L1545.0,1736.5 L1548.0,1736.4 L1551.0,1736.4 L1554.0,1736.3 L1557.0,1736.2 L1560.0,1736.1 L1563.0,1736.0 L1566.0,1735.9 L1569.0,1735.8 L1572.0,1735.7 L1575.0,1735.6 L1578.0,1735.5 L1581.0,1735.4 L1584.0,1735.3 L1587.0,1735.2 L1590.0,1735.1 L1593.0,1735.0 L1596.0,1734.9 L1599.0,1734.8 L1602.0,1734.7 L1605.0,1734.6 L1608.0,1734.5 L1611.0,1734.4 L1614.0,1734.3 L1617.0,1734.2 L1620.0,1734.1 L1623.0,1734.0 L1626.0,1733.9 L1629.0,1733.8 L1632.0,1733.7 L1635.0,1733.6 L1638.0,1733.5 L1641.0,1733.4 L1644.0,1733.3 L1647.0,1733.2 L1650.0,1733.1 L1653.0,1733.0 L1656.0,1732.9 L1659.0,1732.8 L1662.0,1732.7 L1665.0,1732.6 L1668.0,1732.5 L1671.0,1732.4 L1674.0,1732.4 L1677.0,1732.3 L1680.0,1732.2 L1683.0,1732.1 L1686.0,1732.0 L1689.0,1731.9 L1692.0,1731.8 L1695.0,1731.7 L1698.0,1731.6 L1701.0,1731.5 L1704.0,1731.4 L1707.0,1731.3 L1710.0,1731.2 L1713.0,1731.1 L1716.0,1731.0 L1719.0,1730.9 L1722.0,1730.8 L1725.0,1730.7 L1728.0,1730.6 L1731.0,1730.5 L1734.0,1730.4 L1737.0,1730.3 L1740.0,1730.2 L1743.0,1730.1 L1746.0,1730.0 L1749.0,1729.9 L1752.0,1729.8 L1755.0,1729.7 L1758.0,1729.6" fill="none" stroke="#1a1ae8" stroke-width="4.50" stroke-linejoin="round" stroke-linecap="butt"/>
<path d="M229.5,1415.3 L232.5,1415.3 L235.5,1415.3 L238.5,1415.2 L241.5,1415.2 L244.5,1415.2 L247.5,1415.2 L250.5,1415.3 L253.5,1415.6 L256.5,1416.0 L259.4,1416.7 L262.3,1417.5 L265.1,1418.5 L267.9,1419.6 L270.7,1420.7 L273.5,1421.7 L276.3,1422.9 L279.0,1424.1 L281.7,1425.4 L284.3,1426.9 L286.8,1428.5 L289.3,1430.3 L291.6,1432.1 L293.8,1434.2 L295.8,1436.4 L297.6,1438.8 L299.3,1441.3 L300.9,1443.8 L302.4,1446.4 L304.0,1448.9 L305.5,1451.5 L307.0,1454.1 L308.6,1456.7 L310.1,1459.3 L311.7,1461.8 L313.3,1464.4 L314.9,1466.9 L316.4,1469.5 L317.9,1472.1 L319.3,1474.8 L320.7,1477.4 L322.1,1480.1 L323.5,1482.7 L324.9,1485.4 L326.2,1488.1 L327.6,1490.8 L328.9,1493.5 L330.2,1496.1 L331.6,1498.8 L332.8,1501.6 L334.1,1504.3 L335.4,1507.0 L336.6,1509.7 L337.9,1512.4 L339.2,1515.2 L340.5,1517.9 L341.7,1520.6 L342.9,1523.4 L344.1,1526.1 L345.2,1528.9 L346.3,1531.7 L347.3,1534.6 L348.2,1537.4 L349.2,1540.3 L350.1,1543.1 L350.9,1546.0 L351.8,1548.9 L352.7,1551.7 L353.5,1554.6 L354.3,1557.5 L355.1,1560.4 L356.0,1563.3 L356.8,1566.2 L357.6,1569.1 L358.4,1572.0 L359.1,1574.9 L359.9,1577.8 L360.7,1580.7 L361.4,1583.6 L362.1,1586.5 L362.8,1589.4 L363.5,1592.4 L364.1,1595.3 L364.8,1598.2 L365.4,1601.2 L366.1,1604.1 L366.8,1607.0 L367.5,1609.9 L368.3,1612.8 L369.1,1615.7 L369.9,1618.6 L370.8,1621.5 L371.8,1624.3 L372.7,1627.1 L373.7,1630.0 L374.7,1632.8 L375.7,1635.7 L376.7,1638.5 L377.8,1641.3 L378.9,1644.1 L380.1,1646.8 L381.4,1649.5 L382.8,1652.2 L384.3,1654.8 L385.9,1657.3 L387.7,1659.7 L389.6,1662.0 L391.7,1664.2 L393.9,1666.2 L396.1,1668.2 L398.5,1670.1 L400.9,1671.8 L403.4,1673.5 L405.9,1675.2 L408.5,1676.8 L411.1,1678.2 L413.7,1679.6 L416.5,1680.7 L419.4,1681.7 L422.2,1682.5 L425.1,1683.3 L428.0,1684.0 L431.0,1684.7 L433.9,1685.3 L436.8,1685.9 L439.8,1686.5 L442.7,1687.1 L445.7,1687.6 L448.7,1688.1 L451.6,1688.6 L454.6,1689.1 L457.6,1689.5 L460.5,1689.9 L463.5,1690.2 L466.5,1690.5 L469.5,1690.7 L472.5,1690.9 L475.5,1691.0 L478.5,1691.2 L481.5,1691.3 L484.5,1691.5 L487.5,1691.6 L490.5,1691.7 L493.5,1691.8 L496.5,1691.9 L499.5,1692.1 L502.5,1692.2 L505.5,1692.3 L508.5,1692.4 L511.5,1692.5 L514.5,1692.5 L517.5,1692.6 L520.5,1692.7 L523.5,1692.8 L526.5,1692.9 L529.5,1693.0 L532.5,1693.1 L535.5,1693.2 L538.5,1693.2 L541.5,1693.3 L544.5,1693.4 L547.5,1693.5 L550.5,1693.6 L553.5,1693.7 L556.5,1693.7 L559.5,1693.8 L562.5,1693.9 L565.5,1694.0 L568.5,1694.1 L571.5,1694.2 L574.5,1694.2 L577.5,1694.3 L580.5,1694.4 L583.5,1694.5 L586.5,1694.5 L589.5,1694.6 L592.5,1694.6 L595.5,1694.6 L598.6,1694.7 L601.6,1694.7 L604.6,1694.7 L607.6,1694.7 L610.6,1694.8 L613.6,1694.8 L616.6,1694.8 L619.6,1694.9 L622.6,1694.9 L625.6,1695.0 L628.6,1695.1 L631.6,1695.2 L634.6,1695.3 L637.6,1695.5 L640.6,1695.6 L643.6,1695.8 L646.6,1696.1 L649.5,1696.4 L652.5,1696.8 L655.5,1697.3 L658.4,1697.8 L661.4,1698.4 L664.3,1698.9 L667.3,1699.5 L670.3,1700.0 L673.2,1700.4 L676.2,1700.8 L679.2,1701.1 L682.2,1701.3 L685.2,1701.6 L688.2,1701.7 L691.2,1701.9 L694.2,1702.1 L697.2,1702.2 L700.2,1702.3 L703.2,1702.4 L706.2,1702.5 L709.2,1702.6 L712.2,1702.6 L715.2,1702.7 L718.2,1702.7 L721.2,1702.8 L724.2,1702.8 L727.2,1702.9 L730.2,1702.9 L733.2,1702.9 L736.2,1702.9 L739.2,1703.0 L742.2,1703.0 L745.2,1703.0 L748.2,1703.0 L751.2,1703.0 L754.2,1703.0 L757.2,1703.0 L760.2,1703.0 L763.2,1703.0 L766.2,1703.0 L769.2,1703.0 L772.2,1703.0 L775.2,1703.0 L778.2,1703.0 L781.2,1703.0 L784.2,1703.0 L787.2,1703.0 L790.2,1703.0 L793.3,1703.0 L796.3,1702.9 L799.3,1702.9 L802.3,1702.9 L805.3,1702.8 L808.3,1702.7 L811.3,1702.7 L814.3,1702.6 L817.3,1702.5 L820.3,1702.5 L823.3,1702.4 L826.3,1702.3 L829.3,1702.2 L832.3,1702.2 L835.3,1702.1 L838.3,1702.0 L841.3,1701.9 L844.3,1701.9 L847.3,1701.8 L850.3,1701.8 L853.3,1701.7 L856.3,1701.7 L859.3,1701.6 L862.3,1701.6 L865.3,1701.6 L868.3,1701.5 L871.3,1701.5 L874.3,1701.5 L877.3,1701.5 L880.3,1701.5 L883.3,1701.5 L886.3,1701.5 L889.3,1701.5 L892.3,1701.6 L895.3,1701.6 L898.3,1701.6 L901.3,1701.6 L904.3,1701.7 L907.3,1701.7 L910.3,1701.8 L913.3,1701.8 L916.3,1701.8 L919.3,1701.9 L922.4,1701.9 L925.4,1702.0 L928.4,1702.0 L931.4,1702.1 L934.4,1702.1 L937.4,1702.2 L940.4,1702.2 L943.4,1702.3 L946.4,1702.4 L949.4,1702.4 L952.4,1702.5 L955.4,1702.5 L958.4,1702.6 L961.4,1702.7 L964.4,1702.7 L967.4,1702.8 L970.4,1702.9 L973.4,1702.9 L976.4,1703.0 L979.4,1703.1 L982.4,1703.1 L985.4,1703.2 L988.4,1703.3 L991.4,1703.4 L994.4,1703.4 L997.4,1703.5 L1000.4,1703.6 L1003.4,1703.7 L1006.4,1703.7 L1009.4,1703.8 L1012.4,1703.9 L1015.4,1703.9 L1018.4,1704.0 L1021.4,1704.1 L1024.4,1704.2 L1027.4,1704.2 L1030.4,1704.3 L1033.4,1704.4 L1036.4,1704.5 L1039.4,1704.5 L1042.4,1704.6 L1045.4,1704.7 L1048.4,1704.8 L1051.4,1704.8 L1054.4,1704.9 L1057.4,1705.0 L1060.4,1705.1 L1063.4,1705.1 L1066.4,1705.2 L1069.4,1705.3 L1072.4,1705.4 L1075.5,1705.4 L1078.5,1705.5 L1081.5,1705.6 L1084.5,1705.6 L1087.5,1705.7 L1090.5,1705.8 L1093.5,1705.8 L1096.5,1705.9 L1099.5,1706.0 L1102.5,1706.1 L1105.5,1706.1 L1108.5,1706.2 L1111.5,1706.3 L1114.5,1706.4 L1117.5,1706.4 L1120.5,1706.5 L1123.5,1706.6 L1126.5,1706.7 L1129.5,1706.7 L1132.5,1706.8 L1135.5,1706.9 L1138.5,1707.0 L1141.5,1707.1 L1144.5,1707.2 L1147.5,1707.2 L1150.5,1707.3 L1153.5,1707.4 L1156.5,1707.5 L1159.5,1707.6 L1162.5,1707.7 L1165.5,1707.8 L1168.5,1707.8 L1171.5,1707.9 L1174.5,1708.0 L1177.5,1708.1 L1180.5,1708.2 L1183.5,1708.3 L1186.5,1708.4 L1189.5,1708.4 L1192.5,1708.5 L1195.5,1708.6 L1198.5,1708.7 L1201.5,1708.8 L1204.5,1708.9 L1207.5,1709.0 L1210.5,1709.0 L1213.5,1709.1 L1216.5,1709.2 L1219.5,1709.3 L1222.5,1709.4 L1225.5,1709.4 L1228.5,1709.5 L1231.5,1709.6 L1234.5,1709.7 L1237.5,1709.7 L1240.5,1709.8 L1243.5,1709.9 L1246.5,1710.0 L1249.5,1710.0 L1252.6,1710.1 L1255.6,1710.2 L1258.6,1710.2 L1261.6,1710.3 L1264.6,1710.4 L1267.6,1710.4 L1270.6,1710.5 L1273.6,1710.5 L1276.6,1710.6 L1279.6,1710.6 L1282.6,1710.7 L1285.6,1710.7 L1288.6,1710.8 L1291.6,1710.8 L1294.6,1710.9 L1297.6,1710.9 L1300.6,1711.0 L1303.6,1711.0 L1306.6,1711.0 L1309.6,1711.1 L1312.6,1711.1 L1315.6,1711.1 L1318.6,1711.2 L1321.6,1711.2 L1324.6,1711.2 L1327.6,1711.2 L1330.6,1711.3 L1333.6,1711.3 L1336.6,1711.3 L1339.6,1711.3 L1342.6,1711.3 L1345.6,1711.4 L1348.6,1711.4 L1351.6,1711.4 L1354.6,1711.4 L1357.6,1711.4 L1360.6,1711.4 L1363.6,1711.4 L1366.6,1711.4 L1369.6,1711.4 L1372.7,1711.4 L1375.7,1711.4 L1378.7,1711.4 L1381.7,1711.4 L1384.7,1711.4 L1387.7,1711.4 L1390.7,1711.4 L1393.7,1711.4 L1396.7,1711.4 L1399.7,1711.4 L1402.7,1711.4 L1405.7,1711.4 L1408.7,1711.4 L1411.7,1711.4 L1414.7,1711.4 L1417.7,1711.4 L1420.7,1711.4 L1423.7,1711.4 L1426.7,1711.4 L1429.7,1711.3 L1432.7,1711.3 L1435.7,1711.3 L1438.7,1711.3 L1441.7,1711.3 L1444.7,1711.3 L1447.7,1711.3 L1450.7,1711.3 L1453.7,1711.2 L1456.7,1711.2 L1459.7,1711.2 L1462.7,1711.2 L1465.7,1711.2 L1468.7,1711.2 L1471.7,1711.2 L1474.7,1711.2 L1477.7,1711.1 L1480.8,1711.1 L1483.8,1711.1 L1486.8,1711.1 L1489.8,1711.1 L1492.8,1711.1 L1495.8,1711.1 L1498.8,1711.1 L1501.8,1711.0 L1504.8,1711.0 L1507.8,1711.0 L1510.8,1711.0 L1513.8,1711.0 L1516.8,1711.0 L1519.8,1711.0 L1522.8,1711.0 L1525.8,1711.0 L1528.8,1711.0 L1531.8,1710.9 L1534.8,1710.9 L1537.8,1710.9 L1540.8,1710.9 L1543.8,1710.9 L1546.8,1710.9 L1549.8,1710.9 L1552.8,1710.8 L1555.8,1710.8 L1558.8,1710.8 L1561.8,1710.8 L1564.8,1710.8 L1567.8,1710.8 L1570.8,1710.8 L1573.8,1710.7 L1576.8,1710.7 L1579.8,1710.7 L1582.8,1710.7 L1585.8,1710.7 L1588.8,1710.6 L1591.9,1710.6 L1594.9,1710.6 L1597.9,1710.6 L1600.9,1710.6 L1603.9,1710.6 L1606.9,1710.5 L1609.9,1710.5 L1612.9,1710.5 L1615.9,1710.5 L1618.9,1710.5 L1621.9,1710.4 L1624.9,1710.4 L1627.9,1710.4 L1630.9,1710.4 L1633.9,1710.4 L1636.9,1710.3 L1639.9,1710.3 L1642.9,1710.3 L1645.9,1710.3 L1648.9,1710.3 L1651.9,1710.2 L1654.9,1710.2 L1657.9,1710.2 L1660.9,1710.2 L1663.9,1710.1 L1666.9,1710.1 L1669.9,1710.1 L1672.9,1710.1 L1675.9,1710.1 L1678.9,1710.0 L1681.9,1710.0 L1684.9,1710.0 L1687.9,1710.0 L1690.9,1710.0 L1693.9,1709.9 L1696.9,1709.9 L1699.9,1709.9 L1703.0,1709.9 L1706.0,1709.8 L1709.0,1709.8 L1712.0,1709.8 L1715.0,1709.8 L1718.0,1709.8 L1721.0,1709.7 L1724.0,1709.7 L1727.0,1709.7 L1730.0,1709.7 L1733.0,1709.7 L1736.0,1709.6 L1739.0,1709.6 L1742.0,1709.6 L1745.0,1709.6 L1748.0,1709.6 L1751.0,1709.5 L1754.0,1709.5 L1757.0,1709.5 L1758.0,1709.5" fill="none" stroke="#ee22ee" stroke-width="4.50" stroke-linejoin="round" stroke-linecap="butt"/>
<text transform="matrix(0.63599 0 0 0.63584 96.21 1241.60)" font-size="100" fill="#3a3a3a">1.2</text>
<text transform="matrix(0.62632 0 0 0.63310 96.30 1369.50)" font-size="100" fill="#3a3a3a">1.0</text>
<text transform="matrix(0.59975 0 0 0.63310 99.52 1497.40)" font-size="100" fill="#3a3a3a">0.8</text>
<text transform="matrix(0.59554 0 0 0.63310 99.53 1625.30)" font-size="100" fill="#3a3a3a">0.6</text>
<text transform="matrix(0.58849 0 0 0.63310 99.56 1753.20)" font-size="100" fill="#3a3a3a">0.4</text>
<text transform="matrix(0.60861 0 0 0.63310 99.48 1881.10)" font-size="100" fill="#3a3a3a">0.2</text>
<text transform="matrix(0.59975 0 0 0.63310 99.52 2009.00)" font-size="100" fill="#3a3a3a">0.0</text>
<text transform="matrix(0.59898 0 0 0.61499 182.13 2089.90)" font-size="100" fill="#3a3a3a">320</text>
<text transform="matrix(0.57336 0 0 0.61499 474.18 2089.90)" font-size="100" fill="#3a3a3a">420</text>
<text transform="matrix(0.60763 0 0 0.61499 760.87 2089.90)" font-size="100" fill="#3a3a3a">520</text>
<text transform="matrix(0.60115 0 0 0.61499 1051.22 2089.90)" font-size="100" fill="#3a3a3a">620</text>
<text transform="matrix(0.61103 0 0 0.61499 1339.27 2089.90)" font-size="100" fill="#3a3a3a">720</text>
<text transform="matrix(0.59909 0 0 0.61499 1630.52 2089.90)" font-size="100" fill="#3a3a3a">820</text>
<text transform="matrix(0.61075 0 0 0.61011 798.94 2154.03)" font-size="100" fill="#3a3a3a">Wavelength (nm)</text>
<text transform="matrix(0 -0.61112 0.64738 0 78.92 1780.80)" font-size="100" fill="#3a3a3a">Absorbance (a.u.)</text>
<line x1="381.00" y1="1222.70" x2="482.00" y2="1222.70" stroke="#1a1a1a" stroke-width="8.00"/>
<line x1="381.00" y1="1300.60" x2="482.00" y2="1300.60" stroke="#f8c0c0" stroke-width="11.00"/>
<line x1="381.00" y1="1300.60" x2="482.00" y2="1300.60" stroke="#ee1c24" stroke-width="5.00"/>
<line x1="381.00" y1="1379.40" x2="482.00" y2="1379.40" stroke="#a8e0c8" stroke-width="10.00"/>
<line x1="381.00" y1="1379.40" x2="482.00" y2="1379.40" stroke="#2a9060" stroke-width="5.00"/>
<line x1="381.00" y1="1457.00" x2="482.00" y2="1457.00" stroke="#c0c0f8" stroke-width="9.00"/>
<line x1="381.00" y1="1457.00" x2="482.00" y2="1457.00" stroke="#1a1ae0" stroke-width="5.00"/>
<line x1="381.00" y1="1532.50" x2="482.00" y2="1532.50" stroke="#f8c0f8" stroke-width="9.00"/>
<line x1="381.00" y1="1532.50" x2="482.00" y2="1532.50" stroke="#f020e8" stroke-width="5.00"/>
<text transform="matrix(0.54194 0 0 0.51003 500.32 1243.47)" font-size="100" fill="#3a3a3a">TiO<tspan font-size="58.00" dy="3.00">2</tspan></text>
<text transform="matrix(0.55329 0 0 0.60765 498.26 1321.83)" font-size="100" fill="#3a3a3a">Au<tspan font-size="58.00" dy="3.00">3</tspan><tspan dy="-3.00">/TiO</tspan><tspan font-size="58.00" dy="3.00">2</tspan></text>
<text transform="matrix(0.53257 0 0 0.62198 499.48 1395.78)" font-size="100" fill="#3a3a3a">Au<tspan font-size="58.00" dy="3.00">3</tspan><tspan dy="-3.00">Bi</tspan><tspan font-size="58.00" dy="3.00">3</tspan><tspan dy="-3.00">/TiO</tspan><tspan font-size="58.00" dy="3.00">2</tspan></text>
<text transform="matrix(0.55290 0 0 0.58615 499.46 1472.21)" font-size="100" fill="#3a3a3a">Au<tspan font-size="58.00" dy="3.00">3</tspan><tspan dy="-3.00">Pt</tspan><tspan font-size="58.00" dy="3.00">3</tspan><tspan dy="-3.00">/TiO</tspan><tspan font-size="58.00" dy="3.00">2</tspan></text>
<text transform="matrix(0.55793 0 0 0.55928 505.66 1546.61)" font-size="100" fill="#3a3a3a">Au<tspan font-size="58.00" dy="3.00">3</tspan><tspan dy="-3.00">Pd</tspan><tspan font-size="58.00" dy="3.00">3</tspan><tspan dy="-3.00">/TiO</tspan><tspan font-size="58.00" dy="3.00">2</tspan></text>
<text transform="matrix(0.62887 0 0 0.68046 1634.84 1274.41)" font-size="100" fill="#3a3a3a">(b)</text>
<line x1="1077.10" y1="1196.00" x2="1077.10" y2="1530.00" stroke="#c8c8c8" stroke-width="3.00"/>
<line x1="1073.60" y1="1196.00" x2="1073.60" y2="1546.00" stroke="#151515" stroke-width="4.50"/>
<line x1="1068.00" y1="1201.30" x2="1730.00" y2="1201.30" stroke="#151515" stroke-width="4.50"/>
<line x1="1068.00" y1="1204.80" x2="1726.00" y2="1204.80" stroke="#c8c8c8" stroke-width="3.00"/>
<line x1="1058.00" y1="1532.50" x2="1730.00" y2="1532.50" stroke="#c8c8c8" stroke-width="3.00"/>
<line x1="1058.00" y1="1529.00" x2="1730.00" y2="1529.00" stroke="#151515" stroke-width="4.50"/>
<line x1="1725.90" y1="1197.00" x2="1725.90" y2="1533.00" stroke="#151515" stroke-width="4.50"/>
<line x1="1729.40" y1="1197.00" x2="1729.40" y2="1533.00" stroke="#c8c8c8" stroke-width="3.00"/>
<line x1="1057.70" y1="1236.40" x2="1073.00" y2="1236.40" stroke="#151515" stroke-width="4.50"/>
<line x1="1057.70" y1="1310.60" x2="1073.00" y2="1310.60" stroke="#151515" stroke-width="4.50"/>
<line x1="1057.70" y1="1384.60" x2="1073.00" y2="1384.60" stroke="#151515" stroke-width="4.50"/>
<line x1="1057.70" y1="1456.40" x2="1073.00" y2="1456.40" stroke="#151515" stroke-width="4.50"/>
<line x1="1057.70" y1="1529.00" x2="1073.00" y2="1529.00" stroke="#151515" stroke-width="4.50"/>
<line x1="1215.45" y1="1529.00" x2="1215.45" y2="1545.00" stroke="#151515" stroke-width="4.50"/>
<line x1="1357.30" y1="1529.00" x2="1357.30" y2="1545.00" stroke="#151515" stroke-width="4.50"/>
<line x1="1499.15" y1="1529.00" x2="1499.15" y2="1545.00" stroke="#151515" stroke-width="4.50"/>
<line x1="1641.00" y1="1529.00" x2="1641.00" y2="1545.00" stroke="#151515" stroke-width="4.50"/>
<path d="M1075.0,1503.3 L1078.0,1503.1 L1081.0,1503.0 L1084.0,1502.8 L1087.0,1502.6 L1090.0,1502.4 L1093.0,1502.3 L1096.0,1502.1 L1099.0,1501.9 L1102.0,1501.8 L1105.0,1501.6 L1108.0,1501.4 L1111.0,1501.3 L1114.0,1501.1 L1117.0,1500.9 L1120.0,1500.7 L1123.0,1500.6 L1126.0,1500.4 L1129.0,1500.2 L1132.0,1500.1 L1135.0,1499.9 L1138.0,1499.7 L1141.0,1499.5 L1144.0,1499.3 L1147.0,1499.2 L1150.0,1499.0 L1153.0,1498.8 L1156.0,1498.6 L1159.0,1498.4 L1162.0,1498.2 L1165.0,1498.0 L1168.0,1497.8 L1171.0,1497.6 L1174.0,1497.4 L1177.0,1497.1 L1180.0,1496.9 L1183.0,1496.7 L1186.0,1496.5 L1189.0,1496.2 L1192.0,1496.0 L1195.0,1495.8 L1198.0,1495.5 L1201.0,1495.3 L1204.0,1495.0 L1207.0,1494.8 L1210.0,1494.5 L1213.0,1494.3 L1216.0,1494.1 L1219.0,1493.8 L1222.0,1493.6 L1224.9,1493.3 L1227.9,1493.1 L1230.9,1492.9 L1233.9,1492.6 L1236.9,1492.4 L1239.9,1492.1 L1242.9,1491.9 L1245.9,1491.7 L1248.9,1491.5 L1251.9,1491.3 L1254.9,1491.0 L1257.9,1490.8 L1260.9,1490.6 L1263.9,1490.4 L1266.9,1490.2 L1269.9,1490.1 L1272.9,1489.9 L1275.9,1489.7 L1278.9,1489.6 L1281.9,1489.5 L1284.9,1489.4 L1287.9,1489.2 L1290.9,1489.1 L1293.9,1489.0 L1296.9,1489.0 L1299.9,1488.9 L1302.9,1488.8 L1306.0,1488.7 L1309.0,1488.6 L1312.0,1488.6 L1315.0,1488.5 L1318.0,1488.4 L1321.0,1488.3 L1324.0,1488.2 L1327.0,1488.0 L1330.0,1487.9 L1333.0,1487.7 L1336.0,1487.6 L1339.0,1487.4 L1342.0,1487.1 L1345.0,1486.9 L1348.0,1486.7 L1351.0,1486.4 L1354.0,1486.1 L1357.0,1485.9 L1359.9,1485.6 L1362.9,1485.3 L1365.9,1485.0 L1368.9,1484.6 L1371.9,1484.3 L1374.9,1484.0 L1377.9,1483.7 L1380.9,1483.3 L1383.9,1483.0 L1386.8,1482.7 L1389.8,1482.3 L1392.8,1482.0 L1395.8,1481.7 L1398.8,1481.4 L1401.8,1481.1 L1404.8,1480.8 L1407.8,1480.5 L1410.8,1480.2 L1413.8,1479.9 L1416.7,1479.6 L1419.7,1479.4 L1422.7,1479.2 L1425.7,1478.9 L1428.7,1478.7 L1431.7,1478.5 L1434.7,1478.3 L1437.7,1478.1 L1440.7,1477.9 L1443.7,1477.7 L1446.7,1477.5 L1449.7,1477.3 L1452.7,1477.1 L1455.7,1476.9 L1458.7,1476.7 L1461.7,1476.5 L1464.7,1476.3 L1467.7,1476.0 L1470.7,1475.7 L1473.7,1475.4 L1476.7,1475.1 L1479.7,1474.8 L1482.6,1474.4 L1485.6,1473.9 L1488.6,1473.5 L1491.6,1473.0 L1494.5,1472.5 L1497.4,1471.8 L1500.3,1470.9 L1503.0,1469.7 L1505.7,1468.3 L1508.2,1466.6 L1510.5,1464.8 L1512.8,1462.9 L1515.1,1460.9 L1517.2,1458.8 L1519.4,1456.7 L1521.4,1454.5 L1523.5,1452.3 L1525.5,1450.1 L1527.6,1447.9 L1529.6,1445.7 L1531.6,1443.4 L1533.7,1441.2 L1535.7,1439.0 L1537.7,1436.8 L1539.7,1434.6 L1541.7,1432.3 L1543.7,1430.1 L1545.7,1427.8 L1547.6,1425.5 L1549.5,1423.1 L1551.4,1420.8 L1553.2,1418.4 L1555.0,1416.0 L1556.8,1413.6 L1558.6,1411.2 L1560.3,1408.7 L1562.1,1406.3 L1563.8,1403.8 L1565.4,1401.3 L1567.1,1398.8 L1568.7,1396.3 L1570.3,1393.7 L1571.9,1391.2 L1573.5,1388.6 L1575.0,1386.0 L1576.5,1383.4 L1578.0,1380.8 L1579.5,1378.2 L1580.9,1375.5 L1582.3,1372.9 L1583.7,1370.2 L1585.1,1367.5 L1586.4,1364.8 L1587.7,1362.1 L1588.9,1359.4 L1590.2,1356.7 L1591.4,1353.9 L1592.6,1351.2 L1593.8,1348.4 L1595.0,1345.6 L1596.2,1342.9 L1597.4,1340.1 L1598.6,1337.4 L1599.8,1334.6 L1601.0,1331.9 L1602.2,1329.1 L1603.4,1326.4 L1604.7,1323.6 L1605.9,1320.9 L1607.2,1318.2 L1608.4,1315.4 L1609.7,1312.7 L1610.9,1310.0 L1612.1,1307.2 L1613.4,1304.5 L1614.6,1301.7 L1615.8,1299.0 L1617.1,1296.2 L1618.3,1293.5 L1619.6,1290.8 L1620.9,1288.1 L1622.3,1285.4 L1623.7,1282.8 L1625.1,1280.1 L1626.7,1277.5 L1628.3,1275.0 L1629.9,1272.5 L1631.7,1270.1 L1633.5,1267.7 L1635.4,1265.3 L1637.3,1263.0 L1639.3,1260.8 L1641.4,1258.6 L1643.5,1256.5 L1645.7,1254.5 L1648.0,1252.5 L1650.4,1250.7 L1652.8,1248.9 L1655.3,1247.2 L1657.9,1245.7 L1660.5,1244.2 L1663.2,1242.9 L1665.9,1241.6 L1668.7,1240.4 L1671.5,1239.3 L1674.3,1238.3 L1677.1,1237.3 L1680.0,1236.3 L1682.8,1235.4 L1685.7,1234.5 L1688.6,1233.7 L1691.5,1232.8 L1694.4,1232.1 L1697.3,1231.4 L1700.3,1230.8 L1703.2,1230.2 L1706.2,1229.8 L1709.1,1229.3 L1712.1,1228.8 L1715.1,1228.4 L1718.1,1228.0 L1721.0,1227.5 L1724.0,1227.0" fill="none" stroke="#1a1a1a" stroke-width="4.20" stroke-linejoin="round" stroke-linecap="butt"/>
<path d="M1075.0,1479.4 L1077.9,1478.7 L1080.9,1478.1 L1083.8,1477.4 L1086.7,1476.8 L1089.7,1476.2 L1092.6,1475.6 L1095.6,1475.0 L1098.5,1474.4 L1101.5,1473.7 L1104.4,1473.1 L1107.3,1472.5 L1110.3,1471.9 L1113.2,1471.2 L1116.2,1470.6 L1119.1,1469.9 L1122.0,1469.2 L1124.9,1468.5 L1127.8,1467.7 L1130.8,1467.0 L1133.7,1466.2 L1136.5,1465.4 L1139.4,1464.5 L1142.3,1463.6 L1145.2,1462.7 L1148.0,1461.8 L1150.9,1460.8 L1153.7,1459.8 L1156.5,1458.8 L1159.4,1457.8 L1162.2,1456.8 L1165.0,1455.7 L1167.8,1454.6 L1170.6,1453.5 L1173.4,1452.4 L1176.2,1451.3 L1179.0,1450.2 L1181.8,1449.0 L1184.6,1447.9 L1187.3,1446.7 L1190.1,1445.6 L1192.9,1444.4 L1195.6,1443.2 L1198.4,1442.0 L1201.1,1440.8 L1203.8,1439.5 L1206.6,1438.2 L1209.3,1436.9 L1212.0,1435.6 L1214.7,1434.3 L1217.4,1433.0 L1220.1,1431.7 L1222.8,1430.4 L1225.5,1429.1 L1228.2,1427.8 L1231.0,1426.5 L1233.7,1425.2 L1236.4,1423.9 L1239.0,1422.5 L1241.7,1421.1 L1244.4,1419.7 L1247.1,1418.4 L1249.8,1417.2 L1252.6,1416.1 L1255.5,1415.2 L1258.4,1414.4 L1261.3,1413.8 L1264.3,1413.3 L1267.3,1412.9 L1270.3,1412.6 L1273.3,1412.4 L1276.3,1412.2 L1279.3,1412.1 L1282.3,1412.0 L1285.3,1412.0 L1288.3,1412.0 L1291.3,1412.0 L1294.3,1411.9 L1297.3,1411.9 L1300.3,1411.9 L1303.3,1411.9 L1306.3,1412.0 L1309.3,1412.0 L1312.3,1412.1 L1315.3,1412.3 L1318.3,1412.4 L1321.3,1412.5 L1324.3,1412.7 L1327.3,1412.9 L1330.3,1413.0 L1333.3,1413.2 L1336.4,1413.3 L1339.4,1413.5 L1342.4,1413.6 L1345.4,1413.8 L1348.4,1414.0 L1351.4,1414.1 L1354.4,1414.3 L1357.4,1414.5 L1360.4,1414.8 L1363.4,1414.9 L1366.4,1415.1 L1369.4,1415.3 L1372.4,1415.5 L1375.4,1415.6 L1378.4,1415.7 L1381.4,1415.8 L1384.4,1415.9 L1387.4,1415.9 L1390.4,1415.9 L1393.4,1415.9 L1396.4,1415.8 L1399.4,1415.8 L1402.4,1415.7 L1405.4,1415.6 L1408.4,1415.5 L1411.4,1415.4 L1414.4,1415.2 L1417.4,1415.1 L1420.4,1414.9 L1423.5,1414.8 L1426.5,1414.6 L1429.5,1414.4 L1432.5,1414.3 L1435.5,1414.1 L1438.5,1413.9 L1441.5,1413.7 L1444.5,1413.5 L1447.5,1413.3 L1450.5,1413.1 L1453.5,1412.9 L1456.5,1412.6 L1459.5,1412.4 L1462.5,1412.2 L1465.4,1412.0 L1468.5,1411.8 L1471.5,1411.6 L1474.5,1411.4 L1477.5,1411.2 L1480.5,1411.1 L1483.5,1410.9 L1486.5,1410.7 L1489.5,1410.5 L1492.5,1410.3 L1495.5,1410.0 L1498.4,1409.8 L1501.4,1409.5 L1504.4,1409.2 L1507.4,1408.8 L1510.4,1408.4 L1513.4,1407.9 L1516.3,1407.3 L1519.2,1406.7 L1522.2,1406.0 L1525.0,1405.1 L1527.9,1404.2 L1530.7,1403.2 L1533.5,1402.0 L1536.2,1400.7 L1538.9,1399.3 L1541.5,1397.9 L1544.1,1396.3 L1546.6,1394.7 L1549.0,1392.9 L1551.4,1391.1 L1553.7,1389.2 L1556.0,1387.2 L1558.3,1385.2 L1560.4,1383.2 L1562.6,1381.1 L1564.7,1378.9 L1566.8,1376.8 L1568.9,1374.6 L1571.0,1372.4 L1573.0,1370.2 L1574.9,1367.9 L1576.9,1365.6 L1578.8,1363.3 L1580.6,1360.9 L1582.5,1358.6 L1584.3,1356.2 L1586.1,1353.7 L1587.8,1351.3 L1589.6,1348.8 L1591.3,1346.4 L1593.0,1343.9 L1594.6,1341.3 L1596.2,1338.8 L1597.7,1336.2 L1599.2,1333.6 L1600.7,1331.0 L1602.2,1328.4 L1603.5,1325.7 L1604.9,1323.0 L1606.2,1320.3 L1607.5,1317.6 L1608.8,1314.9 L1610.0,1312.1 L1611.3,1309.4 L1612.6,1306.7 L1614.0,1304.0 L1615.3,1301.3 L1616.7,1298.7 L1618.1,1296.0 L1619.5,1293.3 L1620.8,1290.7 L1622.2,1288.0 L1623.7,1285.3 L1625.1,1282.7 L1626.6,1280.1 L1628.2,1277.6 L1629.9,1275.1 L1631.6,1272.6 L1633.4,1270.2 L1635.3,1267.8 L1637.1,1265.5 L1639.1,1263.2 L1641.1,1260.9 L1643.1,1258.8 L1645.3,1256.6 L1647.5,1254.6 L1649.8,1252.6 L1652.1,1250.8 L1654.6,1249.0 L1657.1,1247.4 L1659.7,1245.9 L1662.4,1244.5 L1665.1,1243.2 L1667.8,1242.0 L1670.6,1240.8 L1673.4,1239.7 L1676.2,1238.7 L1679.0,1237.7 L1681.9,1236.8 L1684.8,1235.8 L1687.6,1235.0 L1690.5,1234.1 L1693.4,1233.3 L1696.3,1232.6 L1699.3,1232.0 L1702.2,1231.4 L1705.2,1230.9 L1708.2,1230.4 L1711.1,1230.0 L1714.1,1229.6 L1717.1,1229.1 L1720.0,1228.6 L1723.0,1228.2 L1724.0,1228.0" fill="none" stroke="#ee2222" stroke-width="4.20" stroke-linejoin="round" stroke-linecap="butt"/>
<path d="M1075.0,1433.0 L1078.0,1432.7 L1081.0,1432.3 L1084.0,1432.0 L1086.9,1431.6 L1089.9,1431.3 L1092.9,1431.0 L1095.9,1430.7 L1098.9,1430.3 L1101.9,1430.0 L1104.9,1429.7 L1107.9,1429.4 L1110.8,1429.0 L1113.8,1428.7 L1116.8,1428.4 L1119.8,1428.1 L1122.8,1427.7 L1125.8,1427.4 L1128.8,1427.1 L1131.8,1426.7 L1134.7,1426.4 L1137.7,1426.0 L1140.7,1425.7 L1143.7,1425.3 L1146.7,1424.9 L1149.7,1424.5 L1152.6,1424.1 L1155.6,1423.7 L1158.6,1423.3 L1161.6,1422.9 L1164.5,1422.5 L1167.5,1422.0 L1170.5,1421.5 L1173.4,1421.0 L1176.4,1420.5 L1179.4,1420.0 L1182.3,1419.4 L1185.3,1418.8 L1188.2,1418.3 L1191.2,1417.7 L1194.1,1417.1 L1197.0,1416.5 L1200.0,1415.9 L1202.9,1415.3 L1205.9,1414.6 L1208.8,1414.0 L1211.8,1413.5 L1214.7,1412.9 L1217.7,1412.3 L1220.6,1411.7 L1223.6,1411.2 L1226.5,1410.6 L1229.5,1410.1 L1232.5,1409.6 L1235.4,1409.2 L1238.4,1408.7 L1241.4,1408.3 L1244.4,1407.9 L1247.3,1407.6 L1250.3,1407.2 L1253.3,1406.9 L1256.3,1406.6 L1259.3,1406.4 L1262.3,1406.1 L1265.3,1405.9 L1268.3,1405.7 L1271.3,1405.5 L1274.3,1405.3 L1277.3,1405.1 L1280.3,1404.9 L1283.3,1404.7 L1286.3,1404.6 L1289.3,1404.4 L1292.3,1404.3 L1295.3,1404.1 L1298.3,1404.0 L1301.3,1403.8 L1304.3,1403.7 L1307.3,1403.5 L1310.3,1403.4 L1313.3,1403.2 L1316.3,1403.1 L1319.3,1402.9 L1322.3,1402.7 L1325.3,1402.5 L1328.3,1402.3 L1331.3,1402.1 L1334.3,1401.9 L1337.3,1401.6 L1340.3,1401.4 L1343.3,1401.1 L1346.3,1400.8 L1349.3,1400.5 L1352.2,1400.2 L1355.2,1399.9 L1358.2,1399.6 L1361.2,1399.3 L1364.2,1398.9 L1367.2,1398.6 L1370.2,1398.3 L1373.2,1397.9 L1376.1,1397.6 L1379.1,1397.2 L1382.1,1396.8 L1385.1,1396.5 L1388.1,1396.1 L1391.1,1395.7 L1394.0,1395.3 L1397.0,1395.0 L1400.0,1394.6 L1403.0,1394.2 L1406.0,1393.8 L1408.9,1393.4 L1411.9,1393.0 L1414.9,1392.6 L1417.9,1392.2 L1420.9,1391.8 L1423.8,1391.3 L1426.8,1390.9 L1429.8,1390.5 L1432.8,1390.0 L1435.7,1389.6 L1438.7,1389.2 L1441.7,1388.7 L1444.6,1388.3 L1447.6,1387.8 L1450.6,1387.3 L1453.5,1386.9 L1456.5,1386.4 L1459.5,1386.0 L1462.5,1385.5 L1465.4,1385.0 L1468.4,1384.6 L1471.4,1384.1 L1474.3,1383.7 L1477.3,1383.2 L1480.3,1382.7 L1483.3,1382.3 L1486.2,1381.9 L1489.2,1381.5 L1492.2,1381.1 L1495.2,1380.7 L1498.2,1380.4 L1501.1,1380.1 L1504.1,1379.8 L1507.1,1379.5 L1510.1,1379.2 L1513.1,1378.9 L1516.1,1378.6 L1519.1,1378.3 L1522.1,1378.0 L1525.1,1377.6 L1528.0,1377.3 L1531.0,1376.9 L1534.0,1376.5 L1537.0,1376.1 L1540.0,1375.6 L1542.9,1375.1 L1545.9,1374.5 L1548.8,1373.8 L1551.7,1373.1 L1554.6,1372.2 L1557.4,1371.2 L1560.2,1370.0 L1562.9,1368.7 L1565.5,1367.3 L1568.1,1365.7 L1570.5,1364.0 L1572.9,1362.2 L1575.2,1360.3 L1577.5,1358.3 L1579.7,1356.3 L1581.9,1354.2 L1584.1,1352.1 L1586.1,1350.0 L1588.2,1347.8 L1590.1,1345.5 L1592.0,1343.1 L1593.9,1340.8 L1595.6,1338.3 L1597.4,1335.9 L1599.1,1333.4 L1600.7,1330.9 L1602.3,1328.3 L1603.7,1325.7 L1605.2,1323.1 L1606.5,1320.4 L1607.8,1317.6 L1609.0,1314.9 L1610.2,1312.2 L1611.5,1309.4 L1612.7,1306.7 L1614.0,1304.0 L1615.4,1301.3 L1616.7,1298.6 L1618.1,1295.9 L1619.5,1293.3 L1620.9,1290.6 L1622.3,1287.9 L1623.7,1285.3 L1625.1,1282.7 L1626.7,1280.1 L1628.2,1277.5 L1629.9,1275.0 L1631.6,1272.6 L1633.4,1270.2 L1635.3,1267.8 L1637.2,1265.5 L1639.1,1263.2 L1641.1,1260.9 L1643.2,1258.7 L1645.3,1256.6 L1647.5,1254.6 L1649.8,1252.6 L1652.1,1250.8 L1654.6,1249.0 L1657.1,1247.4 L1659.7,1245.9 L1662.4,1244.5 L1665.1,1243.2 L1667.8,1242.0 L1670.6,1240.8 L1673.4,1239.7 L1676.2,1238.7 L1679.1,1237.7 L1681.9,1236.8 L1684.8,1235.8 L1687.6,1235.0 L1690.5,1234.1 L1693.4,1233.3 L1696.3,1232.6 L1699.3,1232.0 L1702.2,1231.4 L1705.2,1230.9 L1708.2,1230.4 L1711.1,1230.0 L1714.1,1229.6 L1717.1,1229.1 L1720.0,1228.6 L1723.0,1228.2 L1724.0,1228.0" fill="none" stroke="#18a860" stroke-width="4.20" stroke-linejoin="round" stroke-linecap="butt"/>
<path d="M1075.0,1419.8 L1078.0,1419.5 L1081.0,1419.2 L1084.0,1418.9 L1087.0,1418.6 L1089.9,1418.3 L1092.9,1418.0 L1095.9,1417.7 L1098.9,1417.4 L1101.9,1417.1 L1104.9,1416.8 L1107.9,1416.5 L1110.9,1416.2 L1113.9,1415.9 L1116.9,1415.6 L1119.8,1415.3 L1122.8,1415.0 L1125.8,1414.7 L1128.8,1414.4 L1131.8,1414.1 L1134.8,1413.8 L1137.8,1413.5 L1140.8,1413.2 L1143.8,1412.9 L1146.7,1412.6 L1149.7,1412.2 L1152.7,1411.9 L1155.7,1411.6 L1158.7,1411.2 L1161.7,1410.9 L1164.7,1410.5 L1167.6,1410.2 L1170.6,1409.8 L1173.6,1409.4 L1176.6,1409.0 L1179.6,1408.7 L1182.5,1408.2 L1185.5,1407.8 L1188.5,1407.4 L1191.5,1407.0 L1194.4,1406.6 L1197.4,1406.2 L1200.4,1405.7 L1203.4,1405.3 L1206.3,1404.9 L1209.3,1404.5 L1212.3,1404.0 L1215.3,1403.6 L1218.2,1403.2 L1221.2,1402.8 L1224.2,1402.4 L1227.2,1402.0 L1230.2,1401.6 L1233.1,1401.2 L1236.1,1400.9 L1239.1,1400.5 L1242.1,1400.2 L1245.1,1399.8 L1248.1,1399.5 L1251.1,1399.2 L1254.0,1398.9 L1257.0,1398.7 L1260.0,1398.4 L1263.0,1398.1 L1266.0,1397.9 L1269.0,1397.6 L1272.0,1397.4 L1275.0,1397.2 L1278.0,1396.9 L1281.0,1396.7 L1284.0,1396.5 L1287.0,1396.3 L1290.0,1396.0 L1293.0,1395.8 L1296.0,1395.6 L1299.0,1395.4 L1302.0,1395.2 L1305.0,1394.9 L1308.0,1394.7 L1311.0,1394.5 L1314.0,1394.2 L1317.0,1394.0 L1319.9,1393.7 L1322.9,1393.4 L1325.9,1393.2 L1328.9,1392.9 L1331.9,1392.6 L1334.9,1392.3 L1337.9,1391.9 L1340.9,1391.6 L1343.9,1391.2 L1346.8,1390.8 L1349.8,1390.5 L1352.8,1390.1 L1355.8,1389.6 L1358.7,1389.2 L1361.7,1388.8 L1364.7,1388.3 L1367.7,1387.9 L1370.6,1387.4 L1373.6,1386.9 L1376.6,1386.5 L1379.5,1386.0 L1382.5,1385.5 L1385.5,1385.0 L1388.4,1384.5 L1391.4,1384.1 L1394.4,1383.6 L1397.3,1383.1 L1400.3,1382.6 L1403.3,1382.2 L1406.2,1381.7 L1409.2,1381.3 L1412.2,1380.9 L1415.2,1380.4 L1418.1,1380.0 L1421.1,1379.6 L1424.1,1379.2 L1427.1,1378.8 L1430.0,1378.4 L1433.0,1378.1 L1436.0,1377.7 L1439.0,1377.3 L1442.0,1376.9 L1444.9,1376.5 L1447.9,1376.1 L1450.9,1375.8 L1453.9,1375.4 L1456.9,1375.0 L1459.8,1374.6 L1462.8,1374.2 L1465.8,1373.8 L1468.8,1373.4 L1471.8,1373.0 L1474.7,1372.6 L1477.7,1372.2 L1480.7,1371.8 L1483.7,1371.3 L1486.6,1370.9 L1489.6,1370.5 L1492.6,1370.1 L1495.6,1369.7 L1498.5,1369.3 L1501.5,1369.0 L1504.5,1368.6 L1507.5,1368.3 L1510.5,1368.0 L1513.5,1367.6 L1516.5,1367.3 L1519.4,1366.9 L1522.4,1366.5 L1525.4,1366.1 L1528.4,1365.7 L1531.3,1365.3 L1534.3,1364.8 L1537.3,1364.3 L1540.2,1363.8 L1543.2,1363.2 L1546.1,1362.5 L1549.0,1361.8 L1551.9,1361.0 L1554.8,1360.1 L1557.6,1359.0 L1560.3,1357.8 L1563.0,1356.5 L1565.7,1355.1 L1568.2,1353.5 L1570.7,1351.8 L1573.1,1350.0 L1575.4,1348.1 L1577.7,1346.1 L1579.9,1344.1 L1582.0,1342.0 L1584.2,1339.9 L1586.2,1337.6 L1588.1,1335.4 L1590.0,1333.0 L1591.9,1330.7 L1593.7,1328.3 L1595.4,1325.8 L1597.2,1323.4 L1598.9,1320.9 L1600.6,1318.5 L1602.4,1316.0 L1604.1,1313.6 L1605.9,1311.1 L1607.6,1308.7 L1609.4,1306.3 L1611.1,1303.8 L1612.8,1301.3 L1614.5,1298.8 L1616.2,1296.4 L1617.9,1293.9 L1619.6,1291.4 L1621.3,1288.9 L1623.1,1286.5 L1624.8,1284.0 L1626.6,1281.6 L1628.4,1279.2 L1630.3,1276.9 L1632.1,1274.5 L1634.0,1272.1 L1635.8,1269.7 L1637.6,1267.4 L1639.5,1265.0 L1641.4,1262.7 L1643.3,1260.4 L1645.3,1258.1 L1647.4,1256.0 L1649.6,1254.0 L1651.9,1252.0 L1654.3,1250.2 L1656.8,1248.6 L1659.4,1247.1 L1662.1,1245.7 L1664.8,1244.5 L1667.6,1243.3 L1670.4,1242.2 L1673.2,1241.2 L1676.1,1240.3 L1679.0,1239.4 L1681.8,1238.5 L1684.7,1237.7 L1687.6,1236.9 L1690.5,1236.1 L1693.4,1235.3 L1696.4,1234.7 L1699.3,1234.0 L1702.2,1233.5 L1705.2,1233.0 L1708.2,1232.5 L1711.1,1232.0 L1714.1,1231.6 L1717.1,1231.1 L1720.0,1230.7 L1723.0,1230.2 L1724.0,1230.0" fill="none" stroke="#1a1ae8" stroke-width="4.20" stroke-linejoin="round" stroke-linecap="butt"/>
<path d="M1075.0,1414.5 L1078.0,1414.1 L1081.0,1413.7 L1083.9,1413.3 L1086.9,1413.0 L1089.9,1412.6 L1092.9,1412.2 L1095.9,1411.8 L1098.8,1411.5 L1101.8,1411.1 L1104.8,1410.7 L1107.8,1410.3 L1110.8,1410.0 L1113.8,1409.6 L1116.7,1409.2 L1119.7,1408.9 L1122.7,1408.5 L1125.7,1408.1 L1128.7,1407.7 L1131.6,1407.3 L1134.6,1406.9 L1137.6,1406.5 L1140.6,1406.1 L1143.6,1405.7 L1146.5,1405.3 L1149.5,1404.9 L1152.5,1404.5 L1155.5,1404.0 L1158.4,1403.6 L1161.4,1403.2 L1164.4,1402.7 L1167.3,1402.2 L1170.3,1401.7 L1173.3,1401.2 L1176.2,1400.7 L1179.2,1400.2 L1182.2,1399.7 L1185.1,1399.1 L1188.1,1398.6 L1191.0,1398.0 L1194.0,1397.5 L1196.9,1396.9 L1199.9,1396.3 L1202.8,1395.8 L1205.8,1395.2 L1208.7,1394.6 L1211.7,1394.0 L1214.6,1393.5 L1217.6,1392.9 L1220.5,1392.3 L1223.5,1391.8 L1226.4,1391.2 L1229.4,1390.7 L1232.3,1390.1 L1235.3,1389.6 L1238.3,1389.1 L1241.2,1388.6 L1244.2,1388.1 L1247.1,1387.6 L1250.1,1387.1 L1253.1,1386.6 L1256.0,1386.1 L1259.0,1385.7 L1262.0,1385.2 L1265.0,1384.8 L1267.9,1384.3 L1270.9,1383.9 L1273.9,1383.4 L1276.8,1383.0 L1279.8,1382.6 L1282.8,1382.1 L1285.8,1381.7 L1288.7,1381.3 L1291.7,1380.9 L1294.7,1380.4 L1297.7,1380.0 L1300.6,1379.6 L1303.6,1379.2 L1306.6,1378.7 L1309.6,1378.3 L1312.5,1377.9 L1315.5,1377.4 L1318.5,1377.0 L1321.5,1376.5 L1324.4,1376.1 L1327.4,1375.6 L1330.4,1375.2 L1333.3,1374.7 L1336.3,1374.2 L1339.3,1373.7 L1342.2,1373.2 L1345.2,1372.7 L1348.2,1372.2 L1351.1,1371.7 L1354.1,1371.1 L1357.0,1370.6 L1360.0,1370.1 L1362.9,1369.5 L1365.9,1368.9 L1368.8,1368.4 L1371.8,1367.8 L1374.7,1367.3 L1377.7,1366.7 L1380.7,1366.1 L1383.6,1365.6 L1386.6,1365.0 L1389.5,1364.4 L1392.5,1363.9 L1395.4,1363.3 L1398.4,1362.8 L1401.3,1362.3 L1404.3,1361.7 L1407.2,1361.2 L1410.2,1360.7 L1413.2,1360.2 L1416.1,1359.7 L1419.1,1359.2 L1422.1,1358.8 L1425.0,1358.3 L1428.0,1357.8 L1431.0,1357.4 L1433.9,1356.9 L1436.9,1356.5 L1439.9,1356.0 L1442.9,1355.6 L1445.8,1355.2 L1448.8,1354.7 L1451.8,1354.3 L1454.8,1353.8 L1457.7,1353.4 L1460.7,1353.0 L1463.7,1352.6 L1466.7,1352.1 L1469.6,1351.7 L1472.6,1351.3 L1475.6,1350.8 L1478.6,1350.4 L1481.5,1349.9 L1484.5,1349.5 L1487.5,1349.1 L1490.4,1348.7 L1493.4,1348.3 L1496.4,1347.9 L1499.4,1347.5 L1502.4,1347.1 L1505.4,1346.8 L1508.3,1346.4 L1511.3,1346.1 L1514.3,1345.7 L1517.3,1345.3 L1520.3,1345.0 L1523.3,1344.6 L1526.2,1344.2 L1529.2,1343.8 L1532.2,1343.4 L1535.2,1343.0 L1538.1,1342.6 L1541.1,1342.1 L1544.1,1341.6 L1547.0,1341.0 L1550.0,1340.4 L1552.9,1339.7 L1555.8,1339.0 L1558.7,1338.2 L1561.6,1337.3 L1564.4,1336.4 L1567.3,1335.4 L1570.0,1334.3 L1572.8,1333.0 L1575.5,1331.7 L1578.0,1330.2 L1580.6,1328.5 L1583.0,1326.8 L1585.3,1324.8 L1587.5,1322.8 L1589.6,1320.7 L1591.7,1318.5 L1593.7,1316.3 L1595.6,1314.0 L1597.6,1311.7 L1599.4,1309.3 L1601.3,1307.0 L1603.2,1304.7 L1605.1,1302.3 L1607.0,1300.0 L1608.9,1297.6 L1610.7,1295.2 L1612.5,1292.8 L1614.3,1290.4 L1616.0,1288.0 L1617.8,1285.5 L1619.5,1283.1 L1621.3,1280.7 L1623.1,1278.3 L1625.0,1275.9 L1626.8,1273.5 L1628.8,1271.3 L1630.8,1269.0 L1632.8,1266.8 L1634.9,1264.6 L1637.0,1262.4 L1639.1,1260.3 L1641.2,1258.2 L1643.4,1256.2 L1645.7,1254.2 L1648.0,1252.3 L1650.4,1250.5 L1652.9,1248.8 L1655.4,1247.2 L1658.0,1245.7 L1660.7,1244.3 L1663.4,1243.0 L1666.2,1241.8 L1668.9,1240.6 L1671.7,1239.6 L1674.5,1238.5 L1677.4,1237.5 L1680.2,1236.5 L1683.1,1235.6 L1685.9,1234.7 L1688.8,1233.8 L1691.7,1233.0 L1694.6,1232.1 L1697.5,1231.4 L1700.4,1230.7 L1703.4,1230.1 L1706.3,1229.5 L1709.3,1228.9 L1712.2,1228.3 L1715.2,1227.8 L1718.1,1227.2 L1721.1,1226.6 L1724.0,1226.0" fill="none" stroke="#f022f0" stroke-width="4.20" stroke-linejoin="round" stroke-linecap="butt"/>
<text transform="matrix(0.48309 0 0 0.48881 965.95 1252.21)" font-size="100" fill="#3a3a3a">1.8</text>
<text transform="matrix(0.47362 0 0 0.51015 966.04 1324.98)" font-size="100" fill="#3a3a3a">1.4</text>
<text transform="matrix(0.48309 0 0 0.46820 965.95 1396.64)" font-size="100" fill="#3a3a3a">1.0</text>
<text transform="matrix(0.47795 0 0 0.48734 966.18 1469.41)" font-size="100" fill="#3a3a3a">0.6</text>
<text transform="matrix(0.48844 0 0 0.46820 966.14 1539.74)" font-size="100" fill="#3a3a3a">0.2</text>
<text transform="matrix(0.48440 0 0 0.47752 1041.94 1610.02)" font-size="100" fill="#3a3a3a">1.5</text>
<text transform="matrix(0.48375 0 0 0.47409 1183.17 1610.03)" font-size="100" fill="#3a3a3a">2.0</text>
<text transform="matrix(0.48329 0 0 0.47614 1326.38 1610.03)" font-size="100" fill="#3a3a3a">2.5</text>
<text transform="matrix(0.48451 0 0 0.47409 1467.28 1610.03)" font-size="100" fill="#3a3a3a">3.0</text>
<text transform="matrix(0.48578 0 0 0.47614 1610.38 1610.03)" font-size="100" fill="#3a3a3a">3.5</text>
<text transform="matrix(0.50051 0 0 0.48589 1256.46 1650.51)" font-size="100" fill="#3a3a3a">Photon energy (eV)</text>
<text transform="matrix(0 -0.50990 0.43780 0 948.98 1460.44)" font-size="100" fill="#3a3a3a">(<tspan font-style="italic">Ahν</tspan>)<tspan font-size="60.00" dy="-42.00">1/2</tspan></text>
</g>
</svg>
</body></html>
